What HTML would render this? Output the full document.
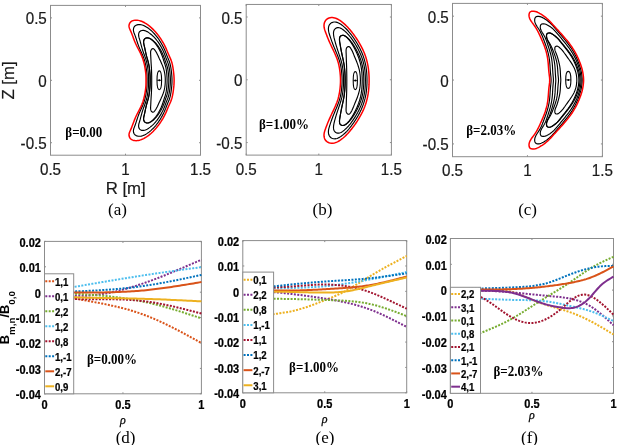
<!DOCTYPE html>
<html><head><meta charset="utf-8"><style>
html,body{margin:0;padding:0;background:#fff;}
svg{display:block;filter:blur(0.3px);}
</style></head><body>
<svg width="617" height="445" viewBox="0 0 617 445">
<rect width="617" height="445" fill="#fff"/>
<rect x="50.5" y="5.4" width="150" height="149.8" fill="none" stroke="#8c8c8c" stroke-width="1"/>
<line x1="50.5" y1="17.88" x2="52" y2="17.88" stroke="#8c8c8c" stroke-width="1"/>
<line x1="200.5" y1="17.88" x2="199" y2="17.88" stroke="#8c8c8c" stroke-width="1"/>
<line x1="50.5" y1="80.3" x2="52" y2="80.3" stroke="#8c8c8c" stroke-width="1"/>
<line x1="200.5" y1="80.3" x2="199" y2="80.3" stroke="#8c8c8c" stroke-width="1"/>
<line x1="50.5" y1="142.72" x2="52" y2="142.72" stroke="#8c8c8c" stroke-width="1"/>
<line x1="200.5" y1="142.72" x2="199" y2="142.72" stroke="#8c8c8c" stroke-width="1"/>
<line x1="50.5" y1="155.2" x2="50.5" y2="153.7" stroke="#8c8c8c" stroke-width="1"/>
<line x1="50.5" y1="5.4" x2="50.5" y2="6.9" stroke="#8c8c8c" stroke-width="1"/>
<line x1="125.5" y1="155.2" x2="125.5" y2="153.7" stroke="#8c8c8c" stroke-width="1"/>
<line x1="125.5" y1="5.4" x2="125.5" y2="6.9" stroke="#8c8c8c" stroke-width="1"/>
<line x1="200.5" y1="155.2" x2="200.5" y2="153.7" stroke="#8c8c8c" stroke-width="1"/>
<line x1="200.5" y1="5.4" x2="200.5" y2="6.9" stroke="#8c8c8c" stroke-width="1"/>
<text transform="translate(46.8,24.38) scale(1.0,1.1)" x="0" y="0" font-family='"Liberation Sans", sans-serif' font-size="15.2" font-weight="normal" font-style="normal" text-anchor="end" fill="#1a1a1a" stroke="#1a1a1a" stroke-width="0.2">0.5</text>
<text transform="translate(46.8,86.8) scale(1.0,1.1)" x="0" y="0" font-family='"Liberation Sans", sans-serif' font-size="15.2" font-weight="normal" font-style="normal" text-anchor="end" fill="#1a1a1a" stroke="#1a1a1a" stroke-width="0.2">0</text>
<text transform="translate(46.8,149.22) scale(1.0,1.1)" x="0" y="0" font-family='"Liberation Sans", sans-serif' font-size="15.2" font-weight="normal" font-style="normal" text-anchor="end" fill="#1a1a1a" stroke="#1a1a1a" stroke-width="0.2">-0.5</text>
<text transform="translate(50.5,174.6) scale(1.0,1.1)" x="0" y="0" font-family='"Liberation Sans", sans-serif' font-size="15.2" font-weight="normal" font-style="normal" text-anchor="middle" fill="#1a1a1a" stroke="#1a1a1a" stroke-width="0.2">0.5</text>
<text transform="translate(125.5,174.6) scale(1.0,1.1)" x="0" y="0" font-family='"Liberation Sans", sans-serif' font-size="15.2" font-weight="normal" font-style="normal" text-anchor="middle" fill="#1a1a1a" stroke="#1a1a1a" stroke-width="0.2">1</text>
<text transform="translate(200.5,174.6) scale(1.0,1.1)" x="0" y="0" font-family='"Liberation Sans", sans-serif' font-size="15.2" font-weight="normal" font-style="normal" text-anchor="middle" fill="#1a1a1a" stroke="#1a1a1a" stroke-width="0.2">1.5</text>
<text transform="translate(65.3,137.3) scale(1.0,1.12)" x="0" y="0" font-family='"Liberation Serif", serif' font-size="13" font-weight="bold" font-style="normal" text-anchor="start" fill="#000" >β=0.00</text>
<text x="117.5" y="215" font-family='"Liberation Serif", serif' font-size="17" font-weight="normal" font-style="normal" text-anchor="middle" fill="#000" >(a)</text>
<rect x="246.2" y="4.45" width="145.2" height="150.65" fill="none" stroke="#8c8c8c" stroke-width="1"/>
<line x1="246.2" y1="17" x2="247.7" y2="17" stroke="#8c8c8c" stroke-width="1"/>
<line x1="391.4" y1="17" x2="389.9" y2="17" stroke="#8c8c8c" stroke-width="1"/>
<line x1="246.2" y1="79.78" x2="247.7" y2="79.78" stroke="#8c8c8c" stroke-width="1"/>
<line x1="391.4" y1="79.78" x2="389.9" y2="79.78" stroke="#8c8c8c" stroke-width="1"/>
<line x1="246.2" y1="142.55" x2="247.7" y2="142.55" stroke="#8c8c8c" stroke-width="1"/>
<line x1="391.4" y1="142.55" x2="389.9" y2="142.55" stroke="#8c8c8c" stroke-width="1"/>
<line x1="246.2" y1="155.1" x2="246.2" y2="153.6" stroke="#8c8c8c" stroke-width="1"/>
<line x1="246.2" y1="4.45" x2="246.2" y2="5.95" stroke="#8c8c8c" stroke-width="1"/>
<line x1="318.8" y1="155.1" x2="318.8" y2="153.6" stroke="#8c8c8c" stroke-width="1"/>
<line x1="318.8" y1="4.45" x2="318.8" y2="5.95" stroke="#8c8c8c" stroke-width="1"/>
<line x1="391.4" y1="155.1" x2="391.4" y2="153.6" stroke="#8c8c8c" stroke-width="1"/>
<line x1="391.4" y1="4.45" x2="391.4" y2="5.95" stroke="#8c8c8c" stroke-width="1"/>
<text transform="translate(242.5,23.5) scale(1.0,1.1)" x="0" y="0" font-family='"Liberation Sans", sans-serif' font-size="15.2" font-weight="normal" font-style="normal" text-anchor="end" fill="#1a1a1a" stroke="#1a1a1a" stroke-width="0.2">0.5</text>
<text transform="translate(242.5,86.28) scale(1.0,1.1)" x="0" y="0" font-family='"Liberation Sans", sans-serif' font-size="15.2" font-weight="normal" font-style="normal" text-anchor="end" fill="#1a1a1a" stroke="#1a1a1a" stroke-width="0.2">0</text>
<text transform="translate(242.5,149.05) scale(1.0,1.1)" x="0" y="0" font-family='"Liberation Sans", sans-serif' font-size="15.2" font-weight="normal" font-style="normal" text-anchor="end" fill="#1a1a1a" stroke="#1a1a1a" stroke-width="0.2">-0.5</text>
<text transform="translate(246.2,174.5) scale(1.0,1.1)" x="0" y="0" font-family='"Liberation Sans", sans-serif' font-size="15.2" font-weight="normal" font-style="normal" text-anchor="middle" fill="#1a1a1a" stroke="#1a1a1a" stroke-width="0.2">0.5</text>
<text transform="translate(318.8,174.5) scale(1.0,1.1)" x="0" y="0" font-family='"Liberation Sans", sans-serif' font-size="15.2" font-weight="normal" font-style="normal" text-anchor="middle" fill="#1a1a1a" stroke="#1a1a1a" stroke-width="0.2">1</text>
<text transform="translate(391.4,174.5) scale(1.0,1.1)" x="0" y="0" font-family='"Liberation Sans", sans-serif' font-size="15.2" font-weight="normal" font-style="normal" text-anchor="middle" fill="#1a1a1a" stroke="#1a1a1a" stroke-width="0.2">1.5</text>
<text transform="translate(259,129.3) scale(1.0,1.12)" x="0" y="0" font-family='"Liberation Serif", serif' font-size="13" font-weight="bold" font-style="normal" text-anchor="start" fill="#000" >β=1.00%</text>
<text x="322.4" y="215" font-family='"Liberation Serif", serif' font-size="17" font-weight="normal" font-style="normal" text-anchor="middle" fill="#000" >(b)</text>
<rect x="452.5" y="3.4" width="149.9" height="153.3" fill="none" stroke="#8c8c8c" stroke-width="1"/>
<line x1="452.5" y1="16.17" x2="454" y2="16.17" stroke="#8c8c8c" stroke-width="1"/>
<line x1="602.4" y1="16.17" x2="600.9" y2="16.17" stroke="#8c8c8c" stroke-width="1"/>
<line x1="452.5" y1="80.05" x2="454" y2="80.05" stroke="#8c8c8c" stroke-width="1"/>
<line x1="602.4" y1="80.05" x2="600.9" y2="80.05" stroke="#8c8c8c" stroke-width="1"/>
<line x1="452.5" y1="143.93" x2="454" y2="143.93" stroke="#8c8c8c" stroke-width="1"/>
<line x1="602.4" y1="143.93" x2="600.9" y2="143.93" stroke="#8c8c8c" stroke-width="1"/>
<line x1="452.5" y1="156.7" x2="452.5" y2="155.2" stroke="#8c8c8c" stroke-width="1"/>
<line x1="452.5" y1="3.4" x2="452.5" y2="4.9" stroke="#8c8c8c" stroke-width="1"/>
<line x1="527.45" y1="156.7" x2="527.45" y2="155.2" stroke="#8c8c8c" stroke-width="1"/>
<line x1="527.45" y1="3.4" x2="527.45" y2="4.9" stroke="#8c8c8c" stroke-width="1"/>
<line x1="602.4" y1="156.7" x2="602.4" y2="155.2" stroke="#8c8c8c" stroke-width="1"/>
<line x1="602.4" y1="3.4" x2="602.4" y2="4.9" stroke="#8c8c8c" stroke-width="1"/>
<text transform="translate(448.8,22.67) scale(1.0,1.1)" x="0" y="0" font-family='"Liberation Sans", sans-serif' font-size="15.2" font-weight="normal" font-style="normal" text-anchor="end" fill="#1a1a1a" stroke="#1a1a1a" stroke-width="0.2">0.5</text>
<text transform="translate(448.8,86.55) scale(1.0,1.1)" x="0" y="0" font-family='"Liberation Sans", sans-serif' font-size="15.2" font-weight="normal" font-style="normal" text-anchor="end" fill="#1a1a1a" stroke="#1a1a1a" stroke-width="0.2">0</text>
<text transform="translate(448.8,150.43) scale(1.0,1.1)" x="0" y="0" font-family='"Liberation Sans", sans-serif' font-size="15.2" font-weight="normal" font-style="normal" text-anchor="end" fill="#1a1a1a" stroke="#1a1a1a" stroke-width="0.2">-0.5</text>
<text transform="translate(452.5,176.1) scale(1.0,1.1)" x="0" y="0" font-family='"Liberation Sans", sans-serif' font-size="15.2" font-weight="normal" font-style="normal" text-anchor="middle" fill="#1a1a1a" stroke="#1a1a1a" stroke-width="0.2">0.5</text>
<text transform="translate(527.45,176.1) scale(1.0,1.1)" x="0" y="0" font-family='"Liberation Sans", sans-serif' font-size="15.2" font-weight="normal" font-style="normal" text-anchor="middle" fill="#1a1a1a" stroke="#1a1a1a" stroke-width="0.2">1</text>
<text transform="translate(602.4,176.1) scale(1.0,1.1)" x="0" y="0" font-family='"Liberation Sans", sans-serif' font-size="15.2" font-weight="normal" font-style="normal" text-anchor="middle" fill="#1a1a1a" stroke="#1a1a1a" stroke-width="0.2">1.5</text>
<text transform="translate(466.2,135.3) scale(1.0,1.12)" x="0" y="0" font-family='"Liberation Serif", serif' font-size="13" font-weight="bold" font-style="normal" text-anchor="start" fill="#000" >β=2.03%</text>
<text x="527.6" y="215" font-family='"Liberation Serif", serif' font-size="17" font-weight="normal" font-style="normal" text-anchor="middle" fill="#000" >(c)</text>
<path d="M147.1,80.4 L147.1,79.39 L147.1,78.39 L147.08,77.38 L147.06,76.37 L147.02,75.37 L146.95,74.37 L146.87,73.36 L146.77,72.36 L146.66,71.36 L146.53,70.36 L146.39,69.36 L146.24,68.37 L146.08,67.37 L145.91,66.38 L145.72,65.39 L145.52,64.41 L145.3,63.42 L145.07,62.44 L144.81,61.47 L144.54,60.5 L144.25,59.53 L143.94,58.58 L143.61,57.62 L143.26,56.68 L142.89,55.75 L142.49,54.82 L142.09,53.9 L141.67,52.98 L141.25,52.07 L140.83,51.16 L140.41,50.24 L140,49.32 L139.6,48.4 L139.22,47.46 L138.84,46.53 L138.48,45.59 L138.14,44.64 L137.8,43.69 L137.47,42.74 L137.15,41.79 L136.84,40.84 L136.54,39.88 L136.23,38.93 L135.92,37.98 L135.6,37.02 L135.27,36.07 L134.92,35.12 L134.55,34.17 L134.18,33.21 L133.83,32.25 L133.57,31.28 L133.42,30.29 L133.42,29.28 L133.61,28.26 L133.98,27.29 L134.53,26.43 L135.25,25.73 L136.11,25.2 L137.08,24.84 L138.09,24.63 L139.12,24.54 L140.13,24.58 L141.13,24.73 L142.11,24.97 L143.09,25.29 L144.04,25.69 L144.97,26.14 L145.88,26.64 L146.77,27.18 L147.63,27.75 L148.47,28.34 L149.28,28.95 L150.07,29.58 L150.84,30.23 L151.58,30.9 L152.31,31.59 L153.02,32.29 L153.71,33.02 L154.39,33.75 L155.06,34.51 L155.71,35.27 L156.34,36.05 L156.97,36.84 L157.57,37.65 L158.17,38.46 L158.75,39.29 L159.31,40.12 L159.87,40.97 L160.4,41.83 L160.93,42.69 L161.44,43.56 L161.93,44.44 L162.41,45.32 L162.88,46.22 L163.34,47.12 L163.78,48.02 L164.2,48.93 L164.61,49.85 L165.01,50.78 L165.39,51.71 L165.77,52.64 L166.13,53.58 L166.49,54.52 L166.85,55.46 L167.22,56.39 L167.6,57.33 L168,58.25 L168.4,59.18 L168.78,60.11 L169.15,61.04 L169.49,61.99 L169.79,62.95 L170.06,63.91 L170.3,64.89 L170.52,65.87 L170.71,66.86 L170.89,67.86 L171.04,68.86 L171.19,69.86 L171.32,70.86 L171.44,71.87 L171.56,72.87 L171.66,73.87 L171.75,74.88 L171.83,75.88 L171.9,76.89 L171.95,77.89 L171.98,78.89 L172,79.9 L172,80.9 L171.98,81.91 L171.95,82.91 L171.9,83.91 L171.83,84.92 L171.75,85.92 L171.66,86.93 L171.56,87.93 L171.44,88.93 L171.32,89.94 L171.19,90.94 L171.04,91.94 L170.89,92.94 L170.71,93.94 L170.52,94.93 L170.3,95.91 L170.06,96.89 L169.79,97.85 L169.49,98.81 L169.15,99.76 L168.78,100.69 L168.4,101.62 L168,102.55 L167.6,103.47 L167.22,104.41 L166.85,105.34 L166.49,106.28 L166.13,107.22 L165.77,108.16 L165.39,109.09 L165.01,110.02 L164.61,110.95 L164.2,111.87 L163.78,112.78 L163.34,113.68 L162.88,114.58 L162.41,115.48 L161.93,116.36 L161.44,117.24 L160.93,118.11 L160.4,118.97 L159.87,119.83 L159.31,120.68 L158.75,121.51 L158.17,122.34 L157.57,123.15 L156.97,123.96 L156.34,124.75 L155.71,125.53 L155.06,126.29 L154.39,127.05 L153.71,127.78 L153.02,128.51 L152.31,129.21 L151.58,129.9 L150.84,130.57 L150.07,131.22 L149.28,131.85 L148.47,132.46 L147.63,133.05 L146.77,133.62 L145.88,134.16 L144.97,134.66 L144.04,135.11 L143.09,135.51 L142.11,135.83 L141.13,136.07 L140.13,136.22 L139.12,136.26 L138.09,136.17 L137.08,135.96 L136.11,135.6 L135.25,135.07 L134.53,134.37 L133.98,133.51 L133.61,132.54 L133.42,131.52 L133.42,130.51 L133.57,129.52 L133.83,128.55 L134.18,127.59 L134.55,126.63 L134.92,125.68 L135.27,124.73 L135.6,123.78 L135.92,122.82 L136.23,121.87 L136.54,120.92 L136.84,119.96 L137.15,119.01 L137.47,118.06 L137.8,117.11 L138.14,116.16 L138.48,115.21 L138.84,114.27 L139.22,113.34 L139.6,112.4 L140,111.48 L140.41,110.56 L140.83,109.64 L141.25,108.73 L141.67,107.82 L142.09,106.9 L142.49,105.98 L142.89,105.05 L143.26,104.12 L143.61,103.18 L143.94,102.22 L144.25,101.27 L144.54,100.3 L144.81,99.33 L145.07,98.36 L145.3,97.38 L145.52,96.39 L145.72,95.41 L145.91,94.42 L146.08,93.43 L146.24,92.43 L146.39,91.44 L146.53,90.44 L146.66,89.44 L146.77,88.44 L146.87,87.44 L146.95,86.43 L147.02,85.43 L147.06,84.43 L147.08,83.42 L147.1,82.41 L147.1,81.41 L147.1,80.4Z" fill="none" stroke="#000" stroke-width="1.15" stroke-linejoin="round" />
<path d="M148.6,80.4 L148.6,79.52 L148.6,78.64 L148.59,77.76 L148.57,76.88 L148.54,76 L148.5,75.12 L148.44,74.24 L148.38,73.36 L148.3,72.48 L148.21,71.6 L148.11,70.73 L148,69.85 L147.89,68.98 L147.77,68.11 L147.64,67.24 L147.5,66.37 L147.35,65.5 L147.19,64.63 L147.01,63.77 L146.82,62.91 L146.62,62.05 L146.4,61.19 L146.16,60.34 L145.92,59.5 L145.65,58.66 L145.37,57.82 L145.08,56.99 L144.78,56.17 L144.47,55.34 L144.16,54.52 L143.85,53.69 L143.55,52.86 L143.25,52.03 L142.97,51.2 L142.69,50.36 L142.43,49.52 L142.17,48.68 L141.92,47.83 L141.68,46.98 L141.45,46.14 L141.22,45.29 L140.99,44.43 L140.77,43.58 L140.54,42.73 L140.31,41.88 L140.08,41.03 L139.83,40.19 L139.58,39.34 L139.32,38.5 L139.06,37.65 L138.84,36.8 L138.68,35.93 L138.6,35.05 L138.63,34.14 L138.8,33.24 L139.12,32.41 L139.62,31.69 L140.3,31.12 L141.1,30.72 L141.96,30.47 L142.83,30.37 L143.7,30.41 L144.56,30.57 L145.42,30.84 L146.27,31.19 L147.09,31.62 L147.9,32.09 L148.69,32.61 L149.45,33.14 L150.19,33.68 L150.9,34.24 L151.58,34.8 L152.24,35.38 L152.89,35.98 L153.51,36.58 L154.12,37.2 L154.71,37.84 L155.28,38.49 L155.85,39.15 L156.4,39.82 L156.94,40.51 L157.47,41.22 L157.99,41.93 L158.5,42.65 L158.99,43.39 L159.48,44.13 L159.95,44.88 L160.41,45.64 L160.85,46.41 L161.29,47.18 L161.71,47.96 L162.12,48.74 L162.51,49.53 L162.9,50.32 L163.27,51.12 L163.63,51.92 L163.98,52.73 L164.32,53.54 L164.65,54.36 L164.96,55.18 L165.27,56.01 L165.57,56.84 L165.87,57.67 L166.18,58.49 L166.49,59.31 L166.82,60.13 L167.15,60.95 L167.48,61.77 L167.8,62.59 L168.1,63.42 L168.37,64.25 L168.61,65.1 L168.83,65.95 L169.02,66.81 L169.2,67.68 L169.35,68.54 L169.49,69.42 L169.62,70.29 L169.74,71.17 L169.84,72.05 L169.95,72.93 L170.04,73.81 L170.12,74.69 L170.2,75.57 L170.26,76.44 L170.31,77.32 L170.36,78.2 L170.38,79.08 L170.4,79.96 L170.4,80.84 L170.38,81.72 L170.36,82.6 L170.31,83.48 L170.26,84.36 L170.2,85.23 L170.12,86.11 L170.04,86.99 L169.95,87.87 L169.84,88.75 L169.74,89.63 L169.62,90.51 L169.49,91.38 L169.35,92.26 L169.2,93.12 L169.02,93.99 L168.83,94.85 L168.61,95.7 L168.37,96.55 L168.1,97.38 L167.8,98.21 L167.48,99.03 L167.15,99.85 L166.82,100.67 L166.49,101.49 L166.18,102.31 L165.87,103.13 L165.57,103.96 L165.27,104.79 L164.96,105.62 L164.65,106.44 L164.32,107.26 L163.98,108.07 L163.63,108.88 L163.27,109.68 L162.9,110.48 L162.51,111.27 L162.12,112.06 L161.71,112.84 L161.29,113.62 L160.85,114.39 L160.41,115.16 L159.95,115.92 L159.48,116.67 L158.99,117.41 L158.5,118.15 L157.99,118.87 L157.47,119.58 L156.94,120.29 L156.4,120.98 L155.85,121.65 L155.28,122.31 L154.71,122.96 L154.12,123.6 L153.51,124.22 L152.89,124.82 L152.24,125.42 L151.58,126 L150.9,126.56 L150.19,127.12 L149.45,127.66 L148.69,128.19 L147.9,128.71 L147.09,129.18 L146.27,129.61 L145.42,129.96 L144.56,130.23 L143.7,130.39 L142.83,130.43 L141.96,130.33 L141.1,130.08 L140.3,129.68 L139.62,129.11 L139.12,128.39 L138.8,127.56 L138.63,126.66 L138.6,125.75 L138.68,124.87 L138.84,124 L139.06,123.15 L139.32,122.3 L139.58,121.46 L139.83,120.61 L140.08,119.77 L140.31,118.92 L140.54,118.07 L140.77,117.22 L140.99,116.37 L141.22,115.51 L141.45,114.66 L141.68,113.82 L141.92,112.97 L142.17,112.12 L142.43,111.28 L142.69,110.44 L142.97,109.6 L143.25,108.77 L143.55,107.94 L143.85,107.11 L144.16,106.28 L144.47,105.46 L144.78,104.63 L145.08,103.81 L145.37,102.98 L145.65,102.14 L145.92,101.3 L146.16,100.46 L146.4,99.61 L146.62,98.75 L146.82,97.89 L147.01,97.03 L147.19,96.17 L147.35,95.3 L147.5,94.43 L147.64,93.56 L147.77,92.69 L147.89,91.82 L148,90.95 L148.11,90.07 L148.21,89.2 L148.3,88.32 L148.38,87.44 L148.44,86.56 L148.5,85.68 L148.54,84.8 L148.57,83.92 L148.59,83.04 L148.6,82.16 L148.6,81.28 L148.6,80.4Z" fill="none" stroke="#000" stroke-width="1.15" stroke-linejoin="round" />
<path d="M150.1,80.4 L150.1,79.66 L150.1,78.92 L150.09,78.19 L150.08,77.45 L150.07,76.71 L150.04,75.98 L150,75.24 L149.96,74.5 L149.91,73.77 L149.85,73.03 L149.79,72.3 L149.72,71.56 L149.65,70.83 L149.57,70.09 L149.49,69.36 L149.4,68.63 L149.3,67.9 L149.19,67.17 L149.08,66.44 L148.96,65.71 L148.83,64.99 L148.68,64.26 L148.53,63.54 L148.37,62.82 L148.2,62.1 L148.01,61.39 L147.82,60.68 L147.62,59.97 L147.42,59.26 L147.21,58.55 L147.01,57.84 L146.81,57.13 L146.61,56.42 L146.43,55.71 L146.25,54.99 L146.07,54.27 L145.91,53.56 L145.74,52.84 L145.59,52.12 L145.43,51.39 L145.28,50.67 L145.14,49.95 L144.99,49.23 L144.84,48.5 L144.69,47.78 L144.54,47.06 L144.38,46.34 L144.21,45.62 L144.04,44.91 L143.87,44.19 L143.73,43.47 L143.63,42.73 L143.6,41.99 L143.64,41.23 L143.78,40.48 L144.04,39.78 L144.43,39.15 L144.96,38.63 L145.6,38.24 L146.3,37.97 L147.03,37.84 L147.76,37.84 L148.48,37.95 L149.2,38.16 L149.9,38.45 L150.59,38.81 L151.26,39.22 L151.91,39.67 L152.53,40.13 L153.13,40.61 L153.7,41.1 L154.25,41.6 L154.78,42.11 L155.29,42.64 L155.79,43.17 L156.26,43.72 L156.73,44.28 L157.18,44.85 L157.63,45.43 L158.06,46.02 L158.48,46.62 L158.9,47.23 L159.3,47.85 L159.7,48.47 L160.08,49.11 L160.46,49.75 L160.82,50.39 L161.17,51.05 L161.52,51.7 L161.85,52.36 L162.18,53.03 L162.49,53.7 L162.8,54.37 L163.09,55.05 L163.38,55.73 L163.65,56.41 L163.92,57.1 L164.18,57.79 L164.43,58.48 L164.67,59.18 L164.9,59.88 L165.13,60.58 L165.36,61.28 L165.6,61.98 L165.85,62.67 L166.1,63.36 L166.36,64.06 L166.61,64.75 L166.85,65.45 L167.08,66.15 L167.28,66.86 L167.46,67.57 L167.62,68.29 L167.77,69.01 L167.9,69.74 L168.01,70.47 L168.12,71.2 L168.21,71.94 L168.3,72.67 L168.38,73.41 L168.46,74.14 L168.53,74.88 L168.59,75.62 L168.65,76.35 L168.7,77.09 L168.74,77.82 L168.77,78.56 L168.79,79.3 L168.8,80.03 L168.8,80.77 L168.79,81.5 L168.77,82.24 L168.74,82.98 L168.7,83.71 L168.65,84.45 L168.59,85.18 L168.53,85.92 L168.46,86.66 L168.38,87.39 L168.3,88.13 L168.21,88.86 L168.12,89.6 L168.01,90.33 L167.9,91.06 L167.77,91.79 L167.62,92.51 L167.46,93.23 L167.28,93.94 L167.08,94.65 L166.85,95.35 L166.61,96.05 L166.36,96.74 L166.1,97.44 L165.85,98.13 L165.6,98.82 L165.36,99.52 L165.13,100.22 L164.9,100.92 L164.67,101.62 L164.43,102.32 L164.18,103.01 L163.92,103.7 L163.65,104.39 L163.38,105.07 L163.09,105.75 L162.8,106.43 L162.49,107.1 L162.18,107.77 L161.85,108.44 L161.52,109.1 L161.17,109.75 L160.82,110.41 L160.46,111.05 L160.08,111.69 L159.7,112.33 L159.3,112.95 L158.9,113.57 L158.48,114.18 L158.06,114.78 L157.63,115.37 L157.18,115.95 L156.73,116.52 L156.26,117.08 L155.79,117.63 L155.29,118.16 L154.78,118.69 L154.25,119.2 L153.7,119.7 L153.13,120.19 L152.53,120.67 L151.91,121.13 L151.26,121.58 L150.59,121.99 L149.9,122.35 L149.2,122.64 L148.48,122.85 L147.76,122.96 L147.03,122.96 L146.3,122.83 L145.6,122.56 L144.96,122.17 L144.43,121.65 L144.04,121.02 L143.78,120.32 L143.64,119.57 L143.6,118.81 L143.63,118.07 L143.73,117.33 L143.87,116.61 L144.04,115.89 L144.21,115.18 L144.38,114.46 L144.54,113.74 L144.69,113.02 L144.84,112.3 L144.99,111.57 L145.14,110.85 L145.28,110.13 L145.43,109.41 L145.59,108.68 L145.74,107.96 L145.91,107.24 L146.07,106.53 L146.25,105.81 L146.43,105.09 L146.61,104.38 L146.81,103.67 L147.01,102.96 L147.21,102.25 L147.42,101.54 L147.62,100.83 L147.82,100.12 L148.01,99.41 L148.2,98.7 L148.37,97.98 L148.53,97.26 L148.68,96.54 L148.83,95.81 L148.96,95.09 L149.08,94.36 L149.19,93.63 L149.3,92.9 L149.4,92.17 L149.49,91.44 L149.57,90.71 L149.65,89.97 L149.72,89.24 L149.79,88.5 L149.85,87.77 L149.91,87.03 L149.96,86.3 L150,85.56 L150.04,84.82 L150.07,84.09 L150.08,83.35 L150.09,82.61 L150.1,81.88 L150.1,81.14 L150.1,80.4Z" fill="none" stroke="#000" stroke-width="1.15" stroke-linejoin="round" />
<path d="M150.2,80.4 L150.2,79.67 L150.2,78.94 L150.19,78.21 L150.18,77.48 L150.17,76.75 L150.14,76.02 L150.1,75.29 L150.06,74.56 L150.01,73.84 L149.95,73.11 L149.89,72.38 L149.82,71.65 L149.75,70.93 L149.67,70.2 L149.59,69.48 L149.5,68.75 L149.4,68.03 L149.3,67.31 L149.19,66.58 L149.07,65.86 L148.94,65.15 L148.8,64.43 L148.65,63.71 L148.49,63 L148.32,62.29 L148.13,61.59 L147.94,60.88 L147.74,60.18 L147.54,59.48 L147.34,58.78 L147.13,58.08 L146.93,57.38 L146.73,56.67 L146.54,55.97 L146.36,55.26 L146.18,54.55 L146.01,53.84 L145.84,53.13 L145.68,52.42 L145.53,51.71 L145.38,50.99 L145.23,50.28 L145.08,49.56 L144.93,48.85 L144.79,48.13 L144.63,47.42 L144.48,46.71 L144.31,46 L144.14,45.29 L143.97,44.58 L143.81,43.87 L143.68,43.15 L143.61,42.42 L143.61,41.67 L143.69,40.92 L143.87,40.2 L144.17,39.53 L144.61,38.94 L145.18,38.47 L145.84,38.12 L146.55,37.91 L147.27,37.84 L147.99,37.9 L148.7,38.08 L149.39,38.35 L150.07,38.71 L150.73,39.12 L151.37,39.57 L151.98,40.05 L152.56,40.54 L153.11,41.04 L153.64,41.56 L154.14,42.09 L154.63,42.63 L155.09,43.18 L155.54,43.74 L155.98,44.31 L156.4,44.89 L156.82,45.48 L157.22,46.08 L157.62,46.69 L158,47.31 L158.38,47.94 L158.75,48.57 L159.1,49.21 L159.45,49.86 L159.79,50.51 L160.12,51.17 L160.44,51.83 L160.75,52.5 L161.05,53.16 L161.33,53.83 L161.61,54.51 L161.89,55.19 L162.15,55.87 L162.4,56.55 L162.64,57.24 L162.88,57.93 L163.11,58.62 L163.33,59.32 L163.54,60.02 L163.75,60.71 L163.97,61.41 L164.19,62.11 L164.42,62.8 L164.65,63.49 L164.89,64.18 L165.12,64.88 L165.34,65.57 L165.54,66.27 L165.73,66.98 L165.89,67.69 L166.03,68.4 L166.17,69.12 L166.28,69.84 L166.39,70.57 L166.48,71.29 L166.57,72.02 L166.65,72.75 L166.72,73.48 L166.79,74.21 L166.85,74.94 L166.91,75.66 L166.96,76.39 L167.01,77.12 L167.04,77.85 L167.07,78.58 L167.09,79.31 L167.1,80.04 L167.1,80.76 L167.09,81.49 L167.07,82.22 L167.04,82.95 L167.01,83.68 L166.96,84.41 L166.91,85.14 L166.85,85.86 L166.79,86.59 L166.72,87.32 L166.65,88.05 L166.57,88.78 L166.48,89.51 L166.39,90.23 L166.28,90.96 L166.17,91.68 L166.03,92.4 L165.89,93.11 L165.73,93.82 L165.54,94.53 L165.34,95.23 L165.12,95.92 L164.89,96.62 L164.65,97.31 L164.42,98 L164.19,98.69 L163.97,99.39 L163.75,100.09 L163.54,100.78 L163.33,101.48 L163.11,102.18 L162.88,102.87 L162.64,103.56 L162.4,104.25 L162.15,104.93 L161.89,105.61 L161.61,106.29 L161.33,106.97 L161.05,107.64 L160.75,108.3 L160.44,108.97 L160.12,109.63 L159.79,110.29 L159.45,110.94 L159.1,111.59 L158.75,112.23 L158.38,112.86 L158,113.49 L157.62,114.11 L157.22,114.72 L156.82,115.32 L156.4,115.91 L155.98,116.49 L155.54,117.06 L155.09,117.62 L154.63,118.17 L154.14,118.71 L153.64,119.24 L153.11,119.76 L152.56,120.26 L151.98,120.75 L151.37,121.23 L150.73,121.68 L150.07,122.09 L149.39,122.45 L148.7,122.72 L147.99,122.9 L147.27,122.96 L146.55,122.89 L145.84,122.68 L145.18,122.33 L144.61,121.86 L144.17,121.27 L143.87,120.6 L143.69,119.88 L143.61,119.13 L143.61,118.38 L143.68,117.65 L143.81,116.93 L143.97,116.22 L144.14,115.51 L144.31,114.8 L144.48,114.09 L144.63,113.38 L144.79,112.67 L144.93,111.95 L145.08,111.24 L145.23,110.52 L145.38,109.81 L145.53,109.09 L145.68,108.38 L145.84,107.67 L146.01,106.96 L146.18,106.25 L146.36,105.54 L146.54,104.83 L146.73,104.13 L146.93,103.42 L147.13,102.72 L147.34,102.02 L147.54,101.32 L147.74,100.62 L147.94,99.92 L148.13,99.21 L148.32,98.51 L148.49,97.8 L148.65,97.09 L148.8,96.37 L148.94,95.65 L149.07,94.94 L149.19,94.22 L149.3,93.49 L149.4,92.77 L149.5,92.05 L149.59,91.32 L149.67,90.6 L149.75,89.87 L149.82,89.15 L149.89,88.42 L149.95,87.69 L150.01,86.96 L150.06,86.24 L150.1,85.51 L150.14,84.78 L150.17,84.05 L150.18,83.32 L150.19,82.59 L150.2,81.86 L150.2,81.13 L150.2,80.4Z" fill="none" stroke="#000" stroke-width="1.15" stroke-linejoin="round" />
<path d="M151.7,80.4 L151.7,79.88 L151.7,79.36 L151.7,78.83 L151.7,78.31 L151.69,77.79 L151.69,77.27 L151.68,76.74 L151.68,76.22 L151.67,75.7 L151.66,75.18 L151.65,74.65 L151.64,74.13 L151.63,73.61 L151.61,73.09 L151.6,72.56 L151.59,72.04 L151.57,71.52 L151.55,71 L151.53,70.48 L151.51,69.95 L151.49,69.43 L151.47,68.91 L151.44,68.39 L151.42,67.87 L151.39,67.34 L151.36,66.82 L151.32,66.3 L151.29,65.78 L151.25,65.26 L151.22,64.74 L151.18,64.22 L151.15,63.69 L151.12,63.17 L151.08,62.65 L151.05,62.13 L151.02,61.61 L150.99,61.09 L150.97,60.57 L150.94,60.04 L150.91,59.52 L150.89,59 L150.86,58.48 L150.84,57.96 L150.81,57.43 L150.79,56.91 L150.76,56.39 L150.74,55.87 L150.71,55.35 L150.68,54.83 L150.65,54.3 L150.62,53.78 L150.61,53.26 L150.6,52.74 L150.61,52.21 L150.64,51.69 L150.71,51.17 L150.84,50.66 L151.04,50.17 L151.31,49.69 L151.68,49.24 L152.1,48.88 L152.56,48.65 L153.02,48.61 L153.47,48.76 L153.9,49.05 L154.32,49.45 L154.7,49.91 L155.06,50.37 L155.38,50.82 L155.68,51.26 L155.95,51.7 L156.21,52.13 L156.46,52.56 L156.7,53.01 L156.93,53.46 L157.16,53.92 L157.39,54.39 L157.61,54.87 L157.84,55.35 L158.06,55.83 L158.28,56.31 L158.5,56.79 L158.72,57.27 L158.95,57.75 L159.17,58.22 L159.39,58.7 L159.62,59.17 L159.84,59.64 L160.06,60.11 L160.28,60.59 L160.5,61.06 L160.72,61.53 L160.94,62 L161.15,62.48 L161.36,62.95 L161.57,63.43 L161.78,63.91 L161.98,64.39 L162.18,64.87 L162.38,65.35 L162.57,65.84 L162.76,66.33 L162.95,66.82 L163.12,67.31 L163.3,67.8 L163.46,68.3 L163.63,68.8 L163.78,69.3 L163.93,69.8 L164.07,70.31 L164.2,70.81 L164.32,71.32 L164.44,71.83 L164.54,72.34 L164.64,72.86 L164.74,73.37 L164.82,73.89 L164.9,74.4 L164.97,74.92 L165.03,75.44 L165.09,75.96 L165.14,76.48 L165.18,77.01 L165.21,77.53 L165.24,78.05 L165.27,78.57 L165.28,79.09 L165.29,79.62 L165.3,80.14 L165.3,80.66 L165.29,81.18 L165.28,81.71 L165.27,82.23 L165.24,82.75 L165.21,83.27 L165.18,83.79 L165.14,84.32 L165.09,84.84 L165.03,85.36 L164.97,85.88 L164.9,86.4 L164.82,86.91 L164.74,87.43 L164.64,87.94 L164.54,88.46 L164.44,88.97 L164.32,89.48 L164.2,89.99 L164.07,90.49 L163.93,91 L163.78,91.5 L163.63,92 L163.46,92.5 L163.3,93 L163.12,93.49 L162.95,93.98 L162.76,94.47 L162.57,94.96 L162.38,95.45 L162.18,95.93 L161.98,96.41 L161.78,96.89 L161.57,97.37 L161.36,97.85 L161.15,98.32 L160.94,98.8 L160.72,99.27 L160.5,99.74 L160.28,100.21 L160.06,100.69 L159.84,101.16 L159.62,101.63 L159.39,102.1 L159.17,102.58 L158.95,103.05 L158.72,103.53 L158.5,104.01 L158.28,104.49 L158.06,104.97 L157.84,105.45 L157.61,105.93 L157.39,106.41 L157.16,106.88 L156.93,107.34 L156.7,107.79 L156.46,108.24 L156.21,108.67 L155.95,109.1 L155.68,109.54 L155.38,109.98 L155.06,110.43 L154.7,110.89 L154.32,111.35 L153.9,111.75 L153.47,112.04 L153.02,112.19 L152.56,112.15 L152.1,111.92 L151.68,111.56 L151.31,111.11 L151.04,110.63 L150.84,110.14 L150.71,109.63 L150.64,109.11 L150.61,108.59 L150.6,108.06 L150.61,107.54 L150.62,107.02 L150.65,106.5 L150.68,105.97 L150.71,105.45 L150.74,104.93 L150.76,104.41 L150.79,103.89 L150.81,103.37 L150.84,102.84 L150.86,102.32 L150.89,101.8 L150.91,101.28 L150.94,100.76 L150.97,100.23 L150.99,99.71 L151.02,99.19 L151.05,98.67 L151.08,98.15 L151.12,97.63 L151.15,97.11 L151.18,96.58 L151.22,96.06 L151.25,95.54 L151.29,95.02 L151.32,94.5 L151.36,93.98 L151.39,93.46 L151.42,92.93 L151.44,92.41 L151.47,91.89 L151.49,91.37 L151.51,90.85 L151.53,90.32 L151.55,89.8 L151.57,89.28 L151.59,88.76 L151.6,88.24 L151.61,87.71 L151.63,87.19 L151.64,86.67 L151.65,86.15 L151.66,85.62 L151.67,85.1 L151.68,84.58 L151.68,84.06 L151.69,83.53 L151.69,83.01 L151.7,82.49 L151.7,81.97 L151.7,81.44 L151.7,80.92 L151.7,80.4Z" fill="none" stroke="#000" stroke-width="1.15" stroke-linejoin="round" />
<path d="M146,80.4 L146,79.29 L146,78.18 L145.98,77.07 L145.95,75.96 L145.89,74.85 L145.81,73.75 L145.7,72.64 L145.57,71.54 L145.42,70.44 L145.25,69.34 L145.08,68.24 L144.88,67.15 L144.68,66.06 L144.46,64.97 L144.22,63.89 L143.96,62.81 L143.68,61.74 L143.37,60.67 L143.05,59.6 L142.7,58.55 L142.32,57.5 L141.92,56.46 L141.5,55.44 L141.06,54.42 L140.58,53.42 L140.09,52.42 L139.59,51.44 L139.07,50.46 L138.55,49.48 L138.03,48.5 L137.51,47.51 L137.01,46.52 L136.52,45.52 L136.05,44.51 L135.59,43.5 L135.15,42.48 L134.72,41.45 L134.31,40.43 L133.9,39.39 L133.51,38.36 L133.13,37.33 L132.75,36.3 L132.37,35.27 L131.98,34.23 L131.58,33.2 L131.15,32.16 L130.7,31.13 L130.23,30.09 L129.76,29.04 L129.36,27.99 L129.09,26.92 L128.99,25.83 L129.13,24.72 L129.49,23.64 L130.06,22.65 L130.82,21.8 L131.72,21.15 L132.74,20.69 L133.83,20.38 L134.97,20.22 L136.1,20.17 L137.22,20.23 L138.33,20.38 L139.42,20.61 L140.5,20.93 L141.56,21.31 L142.6,21.75 L143.62,22.24 L144.62,22.78 L145.59,23.35 L146.54,23.95 L147.46,24.58 L148.36,25.23 L149.24,25.91 L150.1,26.62 L150.94,27.34 L151.76,28.09 L152.56,28.85 L153.35,29.64 L154.12,30.44 L154.88,31.25 L155.61,32.08 L156.34,32.92 L157.05,33.78 L157.74,34.65 L158.42,35.53 L159.08,36.42 L159.72,37.33 L160.35,38.25 L160.97,39.17 L161.57,40.11 L162.15,41.06 L162.72,42.01 L163.27,42.98 L163.81,43.95 L164.33,44.93 L164.83,45.92 L165.32,46.92 L165.8,47.92 L166.25,48.93 L166.69,49.95 L167.12,50.97 L167.54,52 L167.96,53.03 L168.39,54.05 L168.83,55.07 L169.29,56.08 L169.75,57.09 L170.21,58.1 L170.65,59.12 L171.06,60.15 L171.43,61.2 L171.76,62.25 L172.05,63.32 L172.31,64.4 L172.55,65.49 L172.76,66.58 L172.95,67.68 L173.13,68.78 L173.28,69.89 L173.43,71 L173.57,72.1 L173.69,73.21 L173.8,74.31 L173.9,75.42 L173.97,76.53 L174.03,77.63 L174.08,78.74 L174.1,79.85 L174.1,80.95 L174.08,82.06 L174.03,83.17 L173.97,84.27 L173.9,85.38 L173.8,86.49 L173.69,87.59 L173.57,88.7 L173.43,89.8 L173.28,90.91 L173.13,92.02 L172.95,93.12 L172.76,94.22 L172.55,95.31 L172.31,96.4 L172.05,97.48 L171.76,98.55 L171.43,99.6 L171.06,100.65 L170.65,101.68 L170.21,102.7 L169.75,103.71 L169.29,104.72 L168.83,105.73 L168.39,106.75 L167.96,107.77 L167.54,108.8 L167.12,109.83 L166.69,110.85 L166.25,111.87 L165.8,112.88 L165.32,113.88 L164.83,114.88 L164.33,115.87 L163.81,116.85 L163.27,117.82 L162.72,118.79 L162.15,119.74 L161.57,120.69 L160.97,121.63 L160.35,122.55 L159.72,123.47 L159.08,124.38 L158.42,125.27 L157.74,126.15 L157.05,127.02 L156.34,127.88 L155.61,128.72 L154.88,129.55 L154.12,130.36 L153.35,131.16 L152.56,131.95 L151.76,132.71 L150.94,133.46 L150.1,134.18 L149.24,134.89 L148.36,135.57 L147.46,136.22 L146.54,136.85 L145.59,137.45 L144.62,138.02 L143.62,138.56 L142.6,139.05 L141.56,139.49 L140.5,139.87 L139.42,140.19 L138.33,140.42 L137.22,140.57 L136.1,140.63 L134.97,140.58 L133.83,140.42 L132.74,140.11 L131.72,139.65 L130.82,139 L130.06,138.15 L129.49,137.16 L129.13,136.08 L128.99,134.97 L129.09,133.88 L129.36,132.81 L129.76,131.76 L130.23,130.71 L130.7,129.67 L131.15,128.64 L131.58,127.6 L131.98,126.57 L132.37,125.53 L132.75,124.5 L133.13,123.47 L133.51,122.44 L133.9,121.41 L134.31,120.37 L134.72,119.35 L135.15,118.32 L135.59,117.3 L136.05,116.29 L136.52,115.28 L137.01,114.28 L137.51,113.29 L138.03,112.3 L138.55,111.32 L139.07,110.34 L139.59,109.36 L140.09,108.38 L140.58,107.38 L141.06,106.38 L141.5,105.36 L141.92,104.34 L142.32,103.3 L142.7,102.25 L143.05,101.2 L143.37,100.13 L143.68,99.06 L143.96,97.99 L144.22,96.91 L144.46,95.83 L144.68,94.74 L144.88,93.65 L145.08,92.56 L145.25,91.46 L145.42,90.36 L145.57,89.26 L145.7,88.16 L145.81,87.05 L145.89,85.95 L145.95,84.84 L145.98,83.73 L146,82.62 L146,81.51 L146,80.4Z" fill="none" stroke="#f00" stroke-width="1.5" stroke-linejoin="round" />
<ellipse cx="159.3" cy="80.3" rx="2.3" ry="9.4" fill="none" stroke="#000" stroke-width="1.1"/>
<line x1="157" y1="80.3" x2="161.6" y2="80.3" stroke="#000" stroke-width="0.8"/>
<circle cx="159.3" cy="80.3" r="1" fill="#000"/>
<path d="M342.1,80.4 L342.09,79.36 L342.07,78.33 L342.03,77.29 L341.98,76.25 L341.91,75.22 L341.83,74.18 L341.74,73.15 L341.64,72.11 L341.52,71.08 L341.39,70.04 L341.25,69.01 L341.09,67.99 L340.91,66.96 L340.71,65.94 L340.5,64.93 L340.27,63.92 L340.01,62.91 L339.74,61.91 L339.45,60.92 L339.14,59.93 L338.81,58.95 L338.46,57.97 L338.1,56.99 L337.73,56.02 L337.35,55.06 L336.96,54.09 L336.57,53.13 L336.17,52.17 L335.77,51.21 L335.37,50.26 L334.97,49.3 L334.57,48.34 L334.17,47.38 L333.78,46.42 L333.39,45.46 L333,44.5 L332.62,43.53 L332.25,42.57 L331.89,41.6 L331.54,40.62 L331.19,39.65 L330.86,38.67 L330.52,37.68 L330.2,36.7 L329.87,35.71 L329.56,34.72 L329.25,33.73 L328.96,32.73 L328.72,31.72 L328.53,30.7 L328.42,29.66 L328.4,28.6 L328.49,27.54 L328.7,26.49 L329.05,25.49 L329.55,24.58 L330.22,23.78 L331.03,23.11 L331.96,22.59 L332.96,22.23 L333.98,22.03 L334.99,21.99 L336,22.11 L337.01,22.35 L338,22.71 L338.97,23.17 L339.93,23.71 L340.86,24.32 L341.77,24.97 L342.64,25.66 L343.49,26.36 L344.3,27.07 L345.09,27.79 L345.84,28.52 L346.58,29.26 L347.29,30.01 L347.97,30.76 L348.65,31.53 L349.3,32.3 L349.95,33.09 L350.59,33.89 L351.21,34.7 L351.83,35.52 L352.45,36.35 L353.05,37.19 L353.65,38.04 L354.23,38.9 L354.81,39.76 L355.38,40.64 L355.94,41.52 L356.49,42.4 L357.03,43.3 L357.56,44.2 L358.08,45.1 L358.59,46.01 L359.08,46.93 L359.57,47.85 L360.04,48.77 L360.5,49.71 L360.94,50.64 L361.38,51.59 L361.79,52.54 L362.19,53.49 L362.58,54.45 L362.95,55.42 L363.3,56.4 L363.64,57.38 L363.96,58.37 L364.26,59.36 L364.55,60.36 L364.81,61.36 L365.07,62.37 L365.3,63.38 L365.52,64.4 L365.72,65.42 L365.91,66.44 L366.08,67.46 L366.23,68.49 L366.37,69.52 L366.49,70.55 L366.6,71.58 L366.69,72.62 L366.77,73.65 L366.84,74.69 L366.89,75.73 L366.94,76.76 L366.97,77.8 L366.99,78.84 L367,79.88 L367,80.92 L366.99,81.96 L366.97,83 L366.94,84.04 L366.89,85.07 L366.84,86.11 L366.77,87.15 L366.69,88.18 L366.6,89.22 L366.49,90.25 L366.37,91.28 L366.23,92.31 L366.08,93.34 L365.91,94.36 L365.72,95.38 L365.52,96.4 L365.3,97.42 L365.07,98.43 L364.81,99.44 L364.55,100.44 L364.26,101.44 L363.96,102.43 L363.64,103.42 L363.3,104.4 L362.95,105.38 L362.58,106.35 L362.19,107.31 L361.79,108.26 L361.38,109.21 L360.94,110.16 L360.5,111.09 L360.04,112.03 L359.57,112.95 L359.08,113.87 L358.59,114.79 L358.08,115.7 L357.56,116.6 L357.03,117.5 L356.49,118.4 L355.94,119.28 L355.38,120.16 L354.81,121.04 L354.23,121.9 L353.65,122.76 L353.05,123.61 L352.45,124.45 L351.83,125.28 L351.21,126.1 L350.59,126.91 L349.95,127.71 L349.3,128.5 L348.65,129.27 L347.97,130.04 L347.29,130.79 L346.58,131.54 L345.84,132.28 L345.09,133.01 L344.3,133.73 L343.49,134.44 L342.64,135.14 L341.77,135.83 L340.86,136.48 L339.93,137.09 L338.97,137.63 L338,138.09 L337.01,138.45 L336,138.69 L334.99,138.81 L333.98,138.77 L332.96,138.57 L331.96,138.21 L331.03,137.69 L330.22,137.02 L329.55,136.22 L329.05,135.31 L328.7,134.31 L328.49,133.26 L328.4,132.2 L328.42,131.14 L328.53,130.1 L328.72,129.08 L328.96,128.07 L329.25,127.07 L329.56,126.08 L329.87,125.09 L330.2,124.1 L330.52,123.12 L330.86,122.13 L331.19,121.15 L331.54,120.18 L331.89,119.2 L332.25,118.23 L332.62,117.27 L333,116.3 L333.39,115.34 L333.78,114.38 L334.17,113.42 L334.57,112.46 L334.97,111.5 L335.37,110.54 L335.77,109.59 L336.17,108.63 L336.57,107.67 L336.96,106.71 L337.35,105.74 L337.73,104.78 L338.1,103.81 L338.46,102.83 L338.81,101.85 L339.14,100.87 L339.45,99.88 L339.74,98.89 L340.01,97.89 L340.27,96.88 L340.5,95.87 L340.71,94.86 L340.91,93.84 L341.09,92.81 L341.25,91.79 L341.39,90.76 L341.52,89.72 L341.64,88.69 L341.74,87.65 L341.83,86.62 L341.91,85.58 L341.98,84.55 L342.03,83.51 L342.07,82.47 L342.09,81.44 L342.1,80.4Z" fill="none" stroke="#000" stroke-width="1.15" stroke-linejoin="round" />
<path d="M343.6,80.4 L343.59,79.48 L343.58,78.57 L343.55,77.65 L343.51,76.74 L343.47,75.82 L343.41,74.9 L343.35,73.99 L343.28,73.07 L343.2,72.16 L343.11,71.24 L343.01,70.33 L342.89,69.42 L342.77,68.51 L342.63,67.6 L342.48,66.69 L342.32,65.79 L342.14,64.89 L341.95,64 L341.75,63.1 L341.52,62.21 L341.29,61.33 L341.04,60.45 L340.78,59.57 L340.51,58.69 L340.24,57.81 L339.96,56.94 L339.67,56.07 L339.38,55.2 L339.09,54.33 L338.79,53.46 L338.5,52.59 L338.2,51.72 L337.91,50.86 L337.62,49.99 L337.33,49.12 L337.05,48.25 L336.77,47.37 L336.49,46.5 L336.22,45.62 L335.96,44.74 L335.7,43.86 L335.45,42.98 L335.2,42.1 L334.96,41.21 L334.72,40.33 L334.49,39.44 L334.27,38.55 L334.06,37.67 L333.87,36.77 L333.71,35.87 L333.59,34.96 L333.51,34.03 L333.5,33.09 L333.56,32.15 L333.73,31.23 L334.02,30.36 L334.47,29.56 L335.09,28.86 L335.84,28.29 L336.67,27.88 L337.53,27.66 L338.4,27.61 L339.27,27.74 L340.15,28 L341.01,28.38 L341.87,28.86 L342.71,29.42 L343.53,30.04 L344.32,30.69 L345.08,31.36 L345.81,32.03 L346.5,32.7 L347.17,33.37 L347.81,34.04 L348.42,34.71 L349.01,35.39 L349.59,36.07 L350.15,36.76 L350.69,37.46 L351.23,38.16 L351.76,38.88 L352.29,39.61 L352.81,40.36 L353.33,41.11 L353.84,41.87 L354.34,42.64 L354.83,43.41 L355.32,44.2 L355.8,44.99 L356.27,45.79 L356.73,46.59 L357.18,47.4 L357.63,48.21 L358.06,49.03 L358.49,49.85 L358.9,50.67 L359.3,51.49 L359.69,52.32 L360.07,53.16 L360.44,54 L360.8,54.84 L361.14,55.69 L361.47,56.54 L361.79,57.4 L362.09,58.27 L362.38,59.13 L362.66,60.01 L362.92,60.89 L363.17,61.77 L363.4,62.66 L363.62,63.55 L363.83,64.45 L364.02,65.35 L364.2,66.25 L364.36,67.15 L364.51,68.06 L364.65,68.96 L364.78,69.87 L364.89,70.78 L364.99,71.69 L365.07,72.61 L365.15,73.52 L365.22,74.44 L365.27,75.35 L365.31,76.27 L365.35,77.19 L365.37,78.1 L365.39,79.02 L365.4,79.94 L365.4,80.86 L365.39,81.78 L365.37,82.7 L365.35,83.61 L365.31,84.53 L365.27,85.45 L365.22,86.36 L365.15,87.28 L365.07,88.19 L364.99,89.11 L364.89,90.02 L364.78,90.93 L364.65,91.84 L364.51,92.74 L364.36,93.65 L364.2,94.55 L364.02,95.45 L363.83,96.35 L363.62,97.25 L363.4,98.14 L363.17,99.03 L362.92,99.91 L362.66,100.79 L362.38,101.67 L362.09,102.53 L361.79,103.4 L361.47,104.26 L361.14,105.11 L360.8,105.96 L360.44,106.8 L360.07,107.64 L359.69,108.48 L359.3,109.31 L358.9,110.13 L358.49,110.95 L358.06,111.77 L357.63,112.59 L357.18,113.4 L356.73,114.21 L356.27,115.01 L355.8,115.81 L355.32,116.6 L354.83,117.39 L354.34,118.16 L353.84,118.93 L353.33,119.69 L352.81,120.44 L352.29,121.19 L351.76,121.92 L351.23,122.64 L350.69,123.34 L350.15,124.04 L349.59,124.73 L349.01,125.41 L348.42,126.09 L347.81,126.76 L347.17,127.43 L346.5,128.1 L345.81,128.77 L345.08,129.44 L344.32,130.11 L343.53,130.76 L342.71,131.38 L341.87,131.94 L341.01,132.42 L340.15,132.8 L339.27,133.06 L338.4,133.19 L337.53,133.14 L336.67,132.92 L335.84,132.51 L335.09,131.94 L334.47,131.24 L334.02,130.44 L333.73,129.57 L333.56,128.65 L333.5,127.71 L333.51,126.77 L333.59,125.84 L333.71,124.93 L333.87,124.03 L334.06,123.13 L334.27,122.25 L334.49,121.36 L334.72,120.47 L334.96,119.59 L335.2,118.7 L335.45,117.82 L335.7,116.94 L335.96,116.06 L336.22,115.18 L336.49,114.3 L336.77,113.43 L337.05,112.55 L337.33,111.68 L337.62,110.81 L337.91,109.94 L338.2,109.08 L338.5,108.21 L338.79,107.34 L339.09,106.47 L339.38,105.6 L339.67,104.73 L339.96,103.86 L340.24,102.99 L340.51,102.11 L340.78,101.23 L341.04,100.35 L341.29,99.47 L341.52,98.59 L341.75,97.7 L341.95,96.8 L342.14,95.91 L342.32,95.01 L342.48,94.11 L342.63,93.2 L342.77,92.29 L342.89,91.38 L343.01,90.47 L343.11,89.56 L343.2,88.64 L343.28,87.73 L343.35,86.81 L343.41,85.9 L343.47,84.98 L343.51,84.06 L343.55,83.15 L343.58,82.23 L343.59,81.32 L343.6,80.4Z" fill="none" stroke="#000" stroke-width="1.15" stroke-linejoin="round" />
<path d="M345.1,80.4 L345.1,79.63 L345.09,78.87 L345.08,78.1 L345.06,77.33 L345.03,76.57 L345.01,75.8 L344.98,75.03 L344.94,74.27 L344.9,73.5 L344.86,72.73 L344.81,71.97 L344.75,71.2 L344.69,70.44 L344.62,69.67 L344.55,68.91 L344.47,68.14 L344.38,67.38 L344.29,66.62 L344.19,65.86 L344.08,65.1 L343.96,64.34 L343.84,63.59 L343.7,62.83 L343.57,62.08 L343.42,61.32 L343.28,60.57 L343.13,59.82 L342.97,59.07 L342.82,58.32 L342.66,57.57 L342.5,56.82 L342.34,56.07 L342.18,55.32 L342.02,54.57 L341.86,53.82 L341.7,53.07 L341.55,52.31 L341.39,51.56 L341.25,50.81 L341.1,50.06 L340.96,49.3 L340.82,48.54 L340.69,47.79 L340.56,47.03 L340.43,46.27 L340.3,45.52 L340.17,44.76 L340.04,44.01 L339.91,43.26 L339.78,42.51 L339.66,41.76 L339.57,41 L339.51,40.23 L339.49,39.45 L339.51,38.66 L339.62,37.87 L339.83,37.13 L340.21,36.47 L340.77,35.95 L341.46,35.57 L342.21,35.36 L342.95,35.31 L343.69,35.4 L344.42,35.63 L345.13,35.96 L345.82,36.38 L346.5,36.87 L347.15,37.41 L347.78,37.98 L348.38,38.57 L348.95,39.15 L349.49,39.74 L350.01,40.33 L350.5,40.91 L350.98,41.51 L351.44,42.1 L351.88,42.7 L352.31,43.31 L352.73,43.92 L353.15,44.55 L353.56,45.18 L353.97,45.82 L354.37,46.46 L354.76,47.12 L355.15,47.78 L355.54,48.45 L355.91,49.12 L356.29,49.8 L356.65,50.48 L357.01,51.16 L357.36,51.85 L357.7,52.55 L358.04,53.24 L358.36,53.94 L358.68,54.64 L359,55.35 L359.3,56.05 L359.59,56.76 L359.88,57.47 L360.15,58.19 L360.42,58.91 L360.67,59.63 L360.92,60.35 L361.15,61.08 L361.38,61.82 L361.59,62.55 L361.79,63.29 L361.99,64.04 L362.17,64.78 L362.34,65.53 L362.5,66.28 L362.65,67.03 L362.79,67.79 L362.92,68.55 L363.04,69.31 L363.15,70.07 L363.25,70.83 L363.34,71.59 L363.43,72.35 L363.5,73.12 L363.56,73.88 L363.62,74.65 L363.67,75.41 L363.71,76.18 L363.74,76.95 L363.76,77.71 L363.78,78.48 L363.79,79.25 L363.8,80.02 L363.8,80.78 L363.79,81.55 L363.78,82.32 L363.76,83.09 L363.74,83.85 L363.71,84.62 L363.67,85.39 L363.62,86.15 L363.56,86.92 L363.5,87.68 L363.43,88.45 L363.34,89.21 L363.25,89.97 L363.15,90.73 L363.04,91.49 L362.92,92.25 L362.79,93.01 L362.65,93.77 L362.5,94.52 L362.34,95.27 L362.17,96.02 L361.99,96.76 L361.79,97.51 L361.59,98.25 L361.38,98.98 L361.15,99.72 L360.92,100.45 L360.67,101.17 L360.42,101.89 L360.15,102.61 L359.88,103.33 L359.59,104.04 L359.3,104.75 L359,105.45 L358.68,106.16 L358.36,106.86 L358.04,107.56 L357.7,108.25 L357.36,108.95 L357.01,109.64 L356.65,110.32 L356.29,111 L355.91,111.68 L355.54,112.35 L355.15,113.02 L354.76,113.68 L354.37,114.34 L353.97,114.98 L353.56,115.62 L353.15,116.25 L352.73,116.88 L352.31,117.49 L351.88,118.1 L351.44,118.7 L350.98,119.29 L350.5,119.89 L350.01,120.47 L349.49,121.06 L348.95,121.65 L348.38,122.23 L347.78,122.82 L347.15,123.39 L346.5,123.93 L345.82,124.42 L345.13,124.84 L344.42,125.17 L343.69,125.4 L342.95,125.49 L342.21,125.44 L341.46,125.23 L340.77,124.85 L340.21,124.33 L339.83,123.67 L339.62,122.93 L339.51,122.14 L339.49,121.35 L339.51,120.57 L339.57,119.8 L339.66,119.04 L339.78,118.29 L339.91,117.54 L340.04,116.79 L340.17,116.04 L340.3,115.28 L340.43,114.53 L340.56,113.77 L340.69,113.01 L340.82,112.26 L340.96,111.5 L341.1,110.74 L341.25,109.99 L341.39,109.24 L341.55,108.49 L341.7,107.73 L341.86,106.98 L342.02,106.23 L342.18,105.48 L342.34,104.73 L342.5,103.98 L342.66,103.23 L342.82,102.48 L342.97,101.73 L343.13,100.98 L343.28,100.23 L343.42,99.48 L343.57,98.72 L343.7,97.97 L343.84,97.21 L343.96,96.46 L344.08,95.7 L344.19,94.94 L344.29,94.18 L344.38,93.42 L344.47,92.66 L344.55,91.89 L344.62,91.13 L344.69,90.36 L344.75,89.6 L344.81,88.83 L344.86,88.07 L344.9,87.3 L344.94,86.53 L344.98,85.77 L345.01,85 L345.03,84.23 L345.06,83.47 L345.08,82.7 L345.09,81.93 L345.1,81.17 L345.1,80.4Z" fill="none" stroke="#000" stroke-width="1.15" stroke-linejoin="round" />
<path d="M345.2,80.4 L345.2,79.64 L345.19,78.88 L345.18,78.12 L345.16,77.36 L345.13,76.6 L345.11,75.84 L345.08,75.08 L345.04,74.32 L345,73.56 L344.96,72.8 L344.91,72.04 L344.85,71.28 L344.79,70.53 L344.72,69.77 L344.65,69.01 L344.57,68.26 L344.49,67.5 L344.39,66.75 L344.29,65.99 L344.18,65.24 L344.06,64.49 L343.94,63.74 L343.81,62.99 L343.67,62.24 L343.53,61.5 L343.38,60.75 L343.23,60.01 L343.08,59.26 L342.92,58.52 L342.76,57.77 L342.6,57.03 L342.44,56.29 L342.28,55.55 L342.11,54.8 L341.95,54.06 L341.79,53.32 L341.64,52.58 L341.48,51.83 L341.33,51.09 L341.18,50.34 L341.04,49.59 L340.9,48.84 L340.77,48.1 L340.63,47.35 L340.5,46.6 L340.38,45.85 L340.25,45.1 L340.11,44.35 L339.98,43.61 L339.85,42.86 L339.72,42.12 L339.62,41.37 L339.54,40.61 L339.49,39.85 L339.49,39.07 L339.55,38.29 L339.7,37.52 L339.98,36.82 L340.44,36.22 L341.06,35.76 L341.78,35.46 L342.52,35.33 L343.25,35.37 L343.96,35.55 L344.67,35.86 L345.35,36.27 L346.01,36.76 L346.65,37.31 L347.27,37.9 L347.85,38.5 L348.4,39.1 L348.92,39.7 L349.41,40.3 L349.88,40.9 L350.33,41.51 L350.76,42.11 L351.17,42.72 L351.58,43.34 L351.97,43.96 L352.36,44.6 L352.74,45.23 L353.12,45.88 L353.5,46.54 L353.87,47.2 L354.23,47.87 L354.59,48.54 L354.94,49.22 L355.29,49.9 L355.63,50.59 L355.96,51.28 L356.29,51.97 L356.61,52.67 L356.92,53.37 L357.22,54.07 L357.52,54.78 L357.8,55.48 L358.08,56.19 L358.35,56.9 L358.62,57.61 L358.87,58.33 L359.11,59.05 L359.35,59.77 L359.57,60.49 L359.79,61.22 L359.99,61.95 L360.19,62.69 L360.37,63.42 L360.55,64.16 L360.71,64.91 L360.87,65.65 L361.02,66.4 L361.16,67.15 L361.28,67.9 L361.4,68.65 L361.51,69.4 L361.61,70.16 L361.7,70.91 L361.79,71.67 L361.86,72.42 L361.93,73.18 L361.98,73.94 L362.03,74.7 L362.08,75.46 L362.11,76.22 L362.14,76.98 L362.17,77.74 L362.18,78.5 L362.19,79.26 L362.2,80.02 L362.2,80.78 L362.19,81.54 L362.18,82.3 L362.17,83.06 L362.14,83.82 L362.11,84.58 L362.08,85.34 L362.03,86.1 L361.98,86.86 L361.93,87.62 L361.86,88.38 L361.79,89.13 L361.7,89.89 L361.61,90.64 L361.51,91.4 L361.4,92.15 L361.28,92.9 L361.16,93.65 L361.02,94.4 L360.87,95.15 L360.71,95.89 L360.55,96.64 L360.37,97.38 L360.19,98.11 L359.99,98.85 L359.79,99.58 L359.57,100.31 L359.35,101.03 L359.11,101.75 L358.87,102.47 L358.62,103.19 L358.35,103.9 L358.08,104.61 L357.8,105.32 L357.52,106.02 L357.22,106.73 L356.92,107.43 L356.61,108.13 L356.29,108.83 L355.96,109.52 L355.63,110.21 L355.29,110.9 L354.94,111.58 L354.59,112.26 L354.23,112.93 L353.87,113.6 L353.5,114.26 L353.12,114.92 L352.74,115.57 L352.36,116.2 L351.97,116.84 L351.58,117.46 L351.17,118.08 L350.76,118.69 L350.33,119.29 L349.88,119.9 L349.41,120.5 L348.92,121.1 L348.4,121.7 L347.85,122.3 L347.27,122.9 L346.65,123.49 L346.01,124.04 L345.35,124.53 L344.67,124.94 L343.96,125.25 L343.25,125.43 L342.52,125.47 L341.78,125.34 L341.06,125.04 L340.44,124.58 L339.98,123.98 L339.7,123.28 L339.55,122.51 L339.49,121.73 L339.49,120.95 L339.54,120.19 L339.62,119.43 L339.72,118.68 L339.85,117.94 L339.98,117.19 L340.11,116.45 L340.25,115.7 L340.38,114.95 L340.5,114.2 L340.63,113.45 L340.77,112.7 L340.9,111.96 L341.04,111.21 L341.18,110.46 L341.33,109.71 L341.48,108.97 L341.64,108.22 L341.79,107.48 L341.95,106.74 L342.11,106 L342.28,105.25 L342.44,104.51 L342.6,103.77 L342.76,103.03 L342.92,102.28 L343.08,101.54 L343.23,100.79 L343.38,100.05 L343.53,99.3 L343.67,98.56 L343.81,97.81 L343.94,97.06 L344.06,96.31 L344.18,95.56 L344.29,94.81 L344.39,94.05 L344.49,93.3 L344.57,92.54 L344.65,91.79 L344.72,91.03 L344.79,90.27 L344.85,89.52 L344.91,88.76 L344.96,88 L345,87.24 L345.04,86.48 L345.08,85.72 L345.11,84.96 L345.13,84.2 L345.16,83.44 L345.18,82.68 L345.19,81.92 L345.2,81.16 L345.2,80.4Z" fill="none" stroke="#000" stroke-width="1.15" stroke-linejoin="round" />
<path d="M346.8,80.4 L346.8,79.85 L346.8,79.29 L346.8,78.74 L346.79,78.19 L346.79,77.63 L346.79,77.08 L346.78,76.53 L346.78,75.98 L346.78,75.42 L346.77,74.87 L346.76,74.32 L346.76,73.76 L346.75,73.21 L346.74,72.66 L346.73,72.1 L346.72,71.55 L346.71,71 L346.7,70.45 L346.69,69.89 L346.67,69.34 L346.66,68.79 L346.64,68.23 L346.63,67.68 L346.61,67.13 L346.59,66.58 L346.57,66.02 L346.56,65.47 L346.54,64.92 L346.52,64.36 L346.5,63.81 L346.47,63.26 L346.45,62.71 L346.43,62.15 L346.41,61.6 L346.39,61.05 L346.37,60.5 L346.35,59.94 L346.33,59.39 L346.31,58.84 L346.3,58.29 L346.28,57.73 L346.27,57.18 L346.25,56.63 L346.24,56.07 L346.22,55.52 L346.21,54.97 L346.19,54.41 L346.17,53.86 L346.14,53.31 L346.12,52.76 L346.1,52.21 L346.08,51.66 L346.08,51.1 L346.09,50.55 L346.11,49.99 L346.16,49.43 L346.26,48.89 L346.42,48.36 L346.67,47.85 L347.02,47.37 L347.46,46.95 L347.95,46.65 L348.46,46.5 L348.96,46.57 L349.42,46.82 L349.84,47.2 L350.24,47.68 L350.6,48.18 L350.93,48.68 L351.22,49.17 L351.49,49.64 L351.75,50.12 L351.99,50.59 L352.22,51.07 L352.45,51.57 L352.67,52.06 L352.89,52.57 L353.1,53.08 L353.31,53.6 L353.53,54.11 L353.74,54.63 L353.95,55.15 L354.16,55.67 L354.37,56.18 L354.59,56.7 L354.8,57.21 L355.01,57.72 L355.23,58.23 L355.44,58.74 L355.65,59.25 L355.86,59.76 L356.07,60.27 L356.28,60.78 L356.48,61.29 L356.69,61.81 L356.89,62.32 L357.08,62.83 L357.28,63.35 L357.47,63.87 L357.66,64.39 L357.84,64.91 L358.02,65.44 L358.19,65.96 L358.36,66.49 L358.52,67.02 L358.68,67.55 L358.83,68.08 L358.98,68.62 L359.12,69.15 L359.25,69.69 L359.37,70.23 L359.49,70.77 L359.59,71.32 L359.7,71.86 L359.79,72.41 L359.87,72.95 L359.95,73.5 L360.03,74.05 L360.09,74.6 L360.15,75.15 L360.2,75.7 L360.25,76.25 L360.29,76.81 L360.32,77.36 L360.35,77.91 L360.37,78.46 L360.38,79.02 L360.39,79.57 L360.4,80.12 L360.4,80.68 L360.39,81.23 L360.38,81.78 L360.37,82.34 L360.35,82.89 L360.32,83.44 L360.29,83.99 L360.25,84.55 L360.2,85.1 L360.15,85.65 L360.09,86.2 L360.03,86.75 L359.95,87.3 L359.87,87.85 L359.79,88.39 L359.7,88.94 L359.59,89.48 L359.49,90.03 L359.37,90.57 L359.25,91.11 L359.12,91.65 L358.98,92.18 L358.83,92.72 L358.68,93.25 L358.52,93.78 L358.36,94.31 L358.19,94.84 L358.02,95.36 L357.84,95.89 L357.66,96.41 L357.47,96.93 L357.28,97.45 L357.08,97.97 L356.89,98.48 L356.69,98.99 L356.48,99.51 L356.28,100.02 L356.07,100.53 L355.86,101.04 L355.65,101.55 L355.44,102.06 L355.23,102.57 L355.01,103.08 L354.8,103.59 L354.59,104.1 L354.37,104.62 L354.16,105.13 L353.95,105.65 L353.74,106.17 L353.53,106.69 L353.31,107.2 L353.1,107.72 L352.89,108.23 L352.67,108.74 L352.45,109.23 L352.22,109.73 L351.99,110.21 L351.75,110.68 L351.49,111.16 L351.22,111.63 L350.93,112.12 L350.6,112.62 L350.24,113.12 L349.84,113.6 L349.42,113.98 L348.96,114.23 L348.46,114.3 L347.95,114.15 L347.46,113.85 L347.02,113.43 L346.67,112.95 L346.42,112.44 L346.26,111.91 L346.16,111.37 L346.11,110.81 L346.09,110.25 L346.08,109.7 L346.08,109.14 L346.1,108.59 L346.12,108.04 L346.14,107.49 L346.17,106.94 L346.19,106.39 L346.21,105.83 L346.22,105.28 L346.24,104.73 L346.25,104.17 L346.27,103.62 L346.28,103.07 L346.3,102.51 L346.31,101.96 L346.33,101.41 L346.35,100.86 L346.37,100.3 L346.39,99.75 L346.41,99.2 L346.43,98.65 L346.45,98.09 L346.47,97.54 L346.5,96.99 L346.52,96.44 L346.54,95.88 L346.56,95.33 L346.57,94.78 L346.59,94.22 L346.61,93.67 L346.63,93.12 L346.64,92.57 L346.66,92.01 L346.67,91.46 L346.69,90.91 L346.7,90.35 L346.71,89.8 L346.72,89.25 L346.73,88.7 L346.74,88.14 L346.75,87.59 L346.76,87.04 L346.76,86.48 L346.77,85.93 L346.78,85.38 L346.78,84.82 L346.78,84.27 L346.79,83.72 L346.79,83.17 L346.79,82.61 L346.8,82.06 L346.8,81.51 L346.8,80.95 L346.8,80.4Z" fill="none" stroke="#000" stroke-width="1.15" stroke-linejoin="round" />
<path d="M340.5,80.4 L340.49,79.26 L340.46,78.12 L340.41,76.99 L340.34,75.85 L340.26,74.71 L340.16,73.57 L340.05,72.44 L339.91,71.3 L339.76,70.17 L339.6,69.03 L339.41,67.91 L339.2,66.78 L338.97,65.66 L338.73,64.55 L338.45,63.44 L338.16,62.34 L337.84,61.25 L337.49,60.17 L337.12,59.09 L336.73,58.02 L336.31,56.96 L335.88,55.91 L335.43,54.86 L334.97,53.82 L334.5,52.77 L334.03,51.74 L333.54,50.7 L333.06,49.67 L332.57,48.64 L332.08,47.61 L331.59,46.58 L331.11,45.54 L330.63,44.51 L330.15,43.48 L329.68,42.44 L329.22,41.4 L328.76,40.36 L328.32,39.31 L327.89,38.26 L327.47,37.21 L327.05,36.15 L326.65,35.09 L326.24,34.02 L325.85,32.95 L325.45,31.87 L325.06,30.79 L324.71,29.69 L324.4,28.59 L324.16,27.48 L324.03,26.34 L324.01,25.19 L324.13,24.03 L324.39,22.88 L324.8,21.79 L325.37,20.78 L326.08,19.88 L326.95,19.12 L327.94,18.51 L329.01,18.05 L330.13,17.73 L331.27,17.56 L332.41,17.54 L333.53,17.66 L334.65,17.9 L335.74,18.25 L336.82,18.69 L337.88,19.21 L338.92,19.8 L339.93,20.45 L340.92,21.14 L341.87,21.85 L342.79,22.59 L343.68,23.34 L344.55,24.1 L345.38,24.88 L346.2,25.68 L346.99,26.48 L347.77,27.3 L348.52,28.14 L349.27,28.98 L350,29.84 L350.72,30.71 L351.43,31.59 L352.14,32.48 L352.83,33.38 L353.52,34.29 L354.19,35.21 L354.86,36.13 L355.51,37.07 L356.16,38.02 L356.79,38.97 L357.41,39.93 L358.02,40.9 L358.62,41.87 L359.21,42.85 L359.79,43.84 L360.35,44.84 L360.9,45.84 L361.43,46.84 L361.95,47.86 L362.46,48.88 L362.94,49.91 L363.41,50.95 L363.87,51.99 L364.3,53.05 L364.72,54.11 L365.11,55.18 L365.49,56.25 L365.85,57.34 L366.19,58.43 L366.5,59.52 L366.8,60.62 L367.08,61.73 L367.34,62.84 L367.58,63.96 L367.8,65.08 L368,66.2 L368.19,67.33 L368.35,68.45 L368.5,69.58 L368.62,70.72 L368.74,71.85 L368.83,72.99 L368.91,74.13 L368.97,75.26 L369.03,76.4 L369.06,77.55 L369.09,78.69 L369.1,79.83 L369.1,80.97 L369.09,82.11 L369.06,83.25 L369.03,84.4 L368.97,85.54 L368.91,86.67 L368.83,87.81 L368.74,88.95 L368.62,90.08 L368.5,91.22 L368.35,92.35 L368.19,93.47 L368,94.6 L367.8,95.72 L367.58,96.84 L367.34,97.96 L367.08,99.07 L366.8,100.18 L366.5,101.28 L366.19,102.37 L365.85,103.46 L365.49,104.55 L365.11,105.62 L364.72,106.69 L364.3,107.75 L363.87,108.81 L363.41,109.85 L362.94,110.89 L362.46,111.92 L361.95,112.94 L361.43,113.96 L360.9,114.96 L360.35,115.96 L359.79,116.96 L359.21,117.95 L358.62,118.93 L358.02,119.9 L357.41,120.87 L356.79,121.83 L356.16,122.78 L355.51,123.73 L354.86,124.67 L354.19,125.59 L353.52,126.51 L352.83,127.42 L352.14,128.32 L351.43,129.21 L350.72,130.09 L350,130.96 L349.27,131.82 L348.52,132.66 L347.77,133.5 L346.99,134.32 L346.2,135.12 L345.38,135.92 L344.55,136.7 L343.68,137.46 L342.79,138.21 L341.87,138.95 L340.92,139.66 L339.93,140.35 L338.92,141 L337.88,141.59 L336.82,142.11 L335.74,142.55 L334.65,142.9 L333.53,143.14 L332.41,143.26 L331.27,143.24 L330.13,143.07 L329.01,142.75 L327.94,142.29 L326.95,141.68 L326.08,140.92 L325.37,140.02 L324.8,139.01 L324.39,137.92 L324.13,136.77 L324.01,135.61 L324.03,134.46 L324.16,133.32 L324.4,132.21 L324.71,131.11 L325.06,130.01 L325.45,128.93 L325.85,127.85 L326.24,126.78 L326.65,125.71 L327.05,124.65 L327.47,123.59 L327.89,122.54 L328.32,121.49 L328.76,120.44 L329.22,119.4 L329.68,118.36 L330.15,117.32 L330.63,116.29 L331.11,115.26 L331.59,114.22 L332.08,113.19 L332.57,112.16 L333.06,111.13 L333.54,110.1 L334.03,109.06 L334.5,108.03 L334.97,106.98 L335.43,105.94 L335.88,104.89 L336.31,103.84 L336.73,102.78 L337.12,101.71 L337.49,100.63 L337.84,99.55 L338.16,98.46 L338.45,97.36 L338.73,96.25 L338.97,95.14 L339.2,94.02 L339.41,92.89 L339.6,91.77 L339.76,90.63 L339.91,89.5 L340.05,88.36 L340.16,87.23 L340.26,86.09 L340.34,84.95 L340.41,83.81 L340.46,82.68 L340.49,81.54 L340.5,80.4Z" fill="none" stroke="#f00" stroke-width="1.5" stroke-linejoin="round" />
<ellipse cx="355.3" cy="80.6" rx="2.1" ry="9" fill="none" stroke="#000" stroke-width="1.1"/>
<line x1="353.2" y1="80.6" x2="357.4" y2="80.6" stroke="#000" stroke-width="0.8"/>
<circle cx="355.3" cy="80.6" r="1" fill="#000"/>
<path d="M551.1,80.1 L551.07,78.95 L551,77.8 L550.89,76.65 L550.77,75.5 L550.64,74.35 L550.52,73.2 L550.41,72.05 L550.32,70.9 L550.24,69.75 L550.17,68.59 L550.1,67.44 L550.03,66.29 L549.96,65.14 L549.87,63.99 L549.78,62.84 L549.66,61.7 L549.53,60.55 L549.38,59.41 L549.21,58.26 L549.02,57.13 L548.8,55.99 L548.57,54.86 L548.32,53.73 L548.04,52.61 L547.75,51.49 L547.44,50.37 L547.1,49.27 L546.75,48.16 L546.39,47.06 L546.01,45.97 L545.63,44.88 L545.24,43.79 L544.84,42.71 L544.44,41.64 L544.03,40.57 L543.63,39.5 L543.23,38.43 L542.81,37.38 L542.39,36.32 L541.94,35.27 L541.48,34.22 L540.99,33.17 L540.47,32.13 L539.91,31.09 L539.31,30.06 L538.67,29.02 L538,27.99 L537.32,26.96 L536.67,25.92 L536.07,24.87 L535.54,23.81 L535.11,22.73 L534.82,21.64 L534.67,20.52 L534.71,19.38 L534.95,18.22 L535.5,17.2 L536.46,16.61 L537.64,16.39 L538.82,16.39 L539.97,16.58 L541.08,16.92 L542.16,17.38 L543.21,17.93 L544.23,18.54 L545.22,19.18 L546.19,19.83 L547.14,20.51 L548.05,21.22 L548.94,21.94 L549.81,22.69 L550.66,23.47 L551.48,24.27 L552.27,25.1 L553.05,25.95 L553.81,26.81 L554.57,27.69 L555.32,28.57 L556.06,29.45 L556.82,30.33 L557.57,31.2 L558.33,32.07 L559.08,32.94 L559.84,33.82 L560.59,34.69 L561.34,35.57 L562.08,36.45 L562.82,37.34 L563.56,38.22 L564.3,39.11 L565.03,40 L565.76,40.9 L566.48,41.8 L567.19,42.7 L567.9,43.62 L568.6,44.53 L569.29,45.46 L569.96,46.4 L570.62,47.34 L571.27,48.3 L571.89,49.27 L572.5,50.25 L573.1,51.24 L573.68,52.24 L574.24,53.24 L574.79,54.26 L575.33,55.28 L575.84,56.31 L576.34,57.35 L576.82,58.4 L577.28,59.46 L577.73,60.53 L578.15,61.6 L578.56,62.68 L578.96,63.76 L579.34,64.85 L579.71,65.95 L580.06,67.05 L580.39,68.15 L580.7,69.26 L580.98,70.38 L581.23,71.51 L581.45,72.64 L581.63,73.78 L581.79,74.92 L581.94,76.07 L582.06,77.22 L582.14,78.37 L582.19,79.52 L582.19,80.68 L582.14,81.83 L582.06,82.98 L581.94,84.13 L581.79,85.28 L581.63,86.42 L581.45,87.56 L581.23,88.69 L580.98,89.82 L580.7,90.94 L580.39,92.05 L580.06,93.15 L579.71,94.25 L579.34,95.35 L578.96,96.44 L578.56,97.52 L578.15,98.6 L577.73,99.67 L577.28,100.74 L576.82,101.8 L576.34,102.85 L575.84,103.89 L575.33,104.92 L574.79,105.94 L574.24,106.96 L573.68,107.96 L573.1,108.96 L572.5,109.95 L571.89,110.93 L571.27,111.9 L570.62,112.86 L569.96,113.8 L569.29,114.74 L568.6,115.67 L567.9,116.58 L567.19,117.5 L566.48,118.4 L565.76,119.3 L565.03,120.2 L564.3,121.09 L563.56,121.98 L562.82,122.86 L562.08,123.75 L561.34,124.63 L560.59,125.51 L559.84,126.38 L559.08,127.26 L558.33,128.13 L557.57,129 L556.82,129.87 L556.06,130.75 L555.32,131.63 L554.57,132.51 L553.81,133.39 L553.05,134.25 L552.27,135.1 L551.48,135.93 L550.66,136.73 L549.81,137.51 L548.94,138.26 L548.05,138.98 L547.14,139.69 L546.19,140.37 L545.22,141.02 L544.23,141.66 L543.21,142.27 L542.16,142.82 L541.08,143.28 L539.97,143.62 L538.82,143.81 L537.64,143.81 L536.46,143.59 L535.5,143 L534.95,141.98 L534.71,140.82 L534.67,139.68 L534.82,138.56 L535.11,137.47 L535.54,136.39 L536.07,135.33 L536.67,134.28 L537.32,133.24 L538,132.21 L538.67,131.18 L539.31,130.14 L539.91,129.11 L540.47,128.07 L540.99,127.03 L541.48,125.98 L541.94,124.93 L542.39,123.88 L542.81,122.82 L543.23,121.77 L543.63,120.7 L544.03,119.63 L544.44,118.56 L544.84,117.49 L545.24,116.41 L545.63,115.32 L546.01,114.23 L546.39,113.14 L546.75,112.04 L547.1,110.93 L547.44,109.83 L547.75,108.71 L548.04,107.59 L548.32,106.47 L548.57,105.34 L548.8,104.21 L549.02,103.07 L549.21,101.94 L549.38,100.79 L549.53,99.65 L549.66,98.5 L549.78,97.36 L549.87,96.21 L549.96,95.06 L550.03,93.91 L550.1,92.76 L550.17,91.61 L550.24,90.45 L550.32,89.3 L550.41,88.15 L550.52,87 L550.64,85.85 L550.77,84.7 L550.89,83.55 L551,82.4 L551.07,81.25 L551.1,80.1Z" fill="none" stroke="#000" stroke-width="1.15" stroke-linejoin="round" />
<path d="M553.4,80.1 L553.38,79.09 L553.32,78.09 L553.24,77.08 L553.14,76.07 L553.04,75.06 L552.95,74.05 L552.86,73.04 L552.79,72.03 L552.73,71.03 L552.67,70.02 L552.62,69.01 L552.56,68 L552.51,66.99 L552.44,65.98 L552.37,64.97 L552.29,63.97 L552.19,62.96 L552.08,61.96 L551.95,60.96 L551.8,59.96 L551.64,58.96 L551.47,57.96 L551.27,56.97 L551.07,55.98 L550.84,54.99 L550.6,54.01 L550.34,53.02 L550.06,52.05 L549.78,51.07 L549.49,50.1 L549.18,49.13 L548.88,48.17 L548.57,47.21 L548.26,46.25 L547.94,45.3 L547.64,44.35 L547.33,43.41 L547.02,42.47 L546.7,41.53 L546.36,40.59 L546.01,39.66 L545.63,38.73 L545.22,37.79 L544.78,36.86 L544.3,35.93 L543.77,34.99 L543.21,34.06 L542.63,33.12 L542.06,32.18 L541.52,31.23 L541.05,30.28 L540.66,29.33 L540.39,28.37 L540.26,27.4 L540.29,26.43 L540.52,25.45 L540.99,24.53 L541.79,23.98 L542.83,23.8 L543.87,23.83 L544.88,24 L545.86,24.29 L546.8,24.68 L547.71,25.14 L548.6,25.66 L549.46,26.21 L550.3,26.79 L551.12,27.4 L551.91,28.03 L552.68,28.68 L553.43,29.36 L554.16,30.06 L554.86,30.78 L555.55,31.52 L556.22,32.28 L556.87,33.05 L557.52,33.82 L558.16,34.61 L558.81,35.39 L559.45,36.16 L560.1,36.94 L560.75,37.71 L561.4,38.49 L562.05,39.26 L562.69,40.04 L563.33,40.82 L563.97,41.6 L564.61,42.39 L565.24,43.18 L565.87,43.97 L566.5,44.76 L567.13,45.55 L567.74,46.35 L568.36,47.16 L568.96,47.96 L569.56,48.78 L570.15,49.6 L570.72,50.43 L571.29,51.27 L571.83,52.12 L572.37,52.98 L572.89,53.85 L573.39,54.72 L573.89,55.6 L574.37,56.49 L574.84,57.39 L575.29,58.29 L575.73,59.2 L576.15,60.12 L576.56,61.05 L576.95,61.98 L577.32,62.92 L577.68,63.86 L578.03,64.81 L578.37,65.76 L578.69,66.72 L579,67.68 L579.3,68.65 L579.58,69.62 L579.84,70.6 L580.08,71.58 L580.28,72.57 L580.46,73.56 L580.62,74.56 L580.76,75.57 L580.88,76.57 L580.98,77.58 L581.05,78.59 L581.09,79.6 L581.09,80.6 L581.05,81.61 L580.98,82.62 L580.88,83.63 L580.76,84.63 L580.62,85.64 L580.46,86.64 L580.28,87.63 L580.08,88.62 L579.84,89.6 L579.58,90.58 L579.3,91.55 L579,92.52 L578.69,93.48 L578.37,94.44 L578.03,95.39 L577.68,96.34 L577.32,97.28 L576.95,98.22 L576.56,99.15 L576.15,100.08 L575.73,101 L575.29,101.91 L574.84,102.81 L574.37,103.71 L573.89,104.6 L573.39,105.48 L572.89,106.35 L572.37,107.22 L571.83,108.08 L571.29,108.93 L570.72,109.77 L570.15,110.6 L569.56,111.42 L568.96,112.24 L568.36,113.04 L567.74,113.85 L567.13,114.65 L566.5,115.44 L565.87,116.23 L565.24,117.02 L564.61,117.81 L563.97,118.6 L563.33,119.38 L562.69,120.16 L562.05,120.94 L561.4,121.71 L560.75,122.49 L560.1,123.26 L559.45,124.04 L558.81,124.81 L558.16,125.59 L557.52,126.38 L556.87,127.15 L556.22,127.92 L555.55,128.68 L554.86,129.42 L554.16,130.14 L553.43,130.84 L552.68,131.52 L551.91,132.17 L551.12,132.8 L550.3,133.41 L549.46,133.99 L548.6,134.54 L547.71,135.06 L546.8,135.52 L545.86,135.91 L544.88,136.2 L543.87,136.37 L542.83,136.4 L541.79,136.22 L540.99,135.67 L540.52,134.75 L540.29,133.77 L540.26,132.8 L540.39,131.83 L540.66,130.87 L541.05,129.92 L541.52,128.97 L542.06,128.02 L542.63,127.08 L543.21,126.14 L543.77,125.21 L544.3,124.27 L544.78,123.34 L545.22,122.41 L545.63,121.47 L546.01,120.54 L546.36,119.61 L546.7,118.67 L547.02,117.73 L547.33,116.79 L547.64,115.85 L547.94,114.9 L548.26,113.95 L548.57,112.99 L548.88,112.03 L549.18,111.07 L549.49,110.1 L549.78,109.13 L550.06,108.15 L550.34,107.18 L550.6,106.19 L550.84,105.21 L551.07,104.22 L551.27,103.23 L551.47,102.24 L551.64,101.24 L551.8,100.24 L551.95,99.24 L552.08,98.24 L552.19,97.24 L552.29,96.23 L552.37,95.23 L552.44,94.22 L552.51,93.21 L552.56,92.2 L552.62,91.19 L552.67,90.18 L552.73,89.17 L552.79,88.17 L552.86,87.16 L552.95,86.15 L553.04,85.14 L553.14,84.13 L553.24,83.12 L553.32,82.11 L553.38,81.11 L553.4,80.1Z" fill="none" stroke="#000" stroke-width="1.15" stroke-linejoin="round" />
<path d="M555.8,80.1 L555.78,79.26 L555.74,78.43 L555.68,77.59 L555.61,76.75 L555.54,75.92 L555.47,75.08 L555.41,74.24 L555.36,73.41 L555.31,72.57 L555.27,71.73 L555.23,70.89 L555.19,70.06 L555.15,69.22 L555.1,68.38 L555.05,67.55 L554.98,66.71 L554.91,65.88 L554.82,65.04 L554.72,64.21 L554.61,63.38 L554.49,62.55 L554.36,61.72 L554.22,60.89 L554.06,60.07 L553.89,59.25 L553.71,58.43 L553.52,57.61 L553.32,56.8 L553.11,55.98 L552.9,55.17 L552.67,54.37 L552.44,53.56 L552.21,52.75 L551.97,51.95 L551.73,51.15 L551.49,50.35 L551.24,49.55 L550.99,48.75 L550.73,47.96 L550.46,47.17 L550.18,46.38 L549.89,45.59 L549.58,44.81 L549.25,44.03 L548.91,43.26 L548.54,42.48 L548.18,41.71 L547.81,40.94 L547.47,40.16 L547.16,39.37 L546.89,38.57 L546.68,37.76 L546.54,36.94 L546.48,36.09 L546.52,35.23 L546.69,34.38 L547.1,33.67 L547.79,33.19 L548.62,32.96 L549.45,32.93 L550.27,33.08 L551.07,33.37 L551.86,33.76 L552.62,34.23 L553.36,34.72 L554.08,35.22 L554.77,35.73 L555.44,36.25 L556.09,36.77 L556.71,37.31 L557.32,37.87 L557.91,38.44 L558.48,39.04 L559.04,39.65 L559.59,40.29 L560.13,40.93 L560.66,41.59 L561.19,42.24 L561.72,42.89 L562.25,43.54 L562.79,44.19 L563.32,44.83 L563.86,45.47 L564.39,46.12 L564.92,46.77 L565.45,47.42 L565.98,48.07 L566.5,48.73 L567.02,49.38 L567.54,50.04 L568.06,50.7 L568.57,51.37 L569.08,52.03 L569.58,52.7 L570.08,53.38 L570.57,54.06 L571.05,54.74 L571.52,55.44 L571.98,56.14 L572.43,56.85 L572.87,57.56 L573.29,58.28 L573.71,59.01 L574.11,59.75 L574.5,60.49 L574.89,61.24 L575.26,61.99 L575.61,62.75 L575.96,63.51 L576.29,64.28 L576.61,65.05 L576.92,65.84 L577.21,66.62 L577.5,67.41 L577.77,68.2 L578.03,69 L578.29,69.8 L578.53,70.6 L578.76,71.41 L578.97,72.22 L579.17,73.03 L579.34,73.85 L579.48,74.68 L579.61,75.51 L579.72,76.34 L579.82,77.17 L579.9,78.01 L579.96,78.84 L580,79.68 L580,80.52 L579.96,81.36 L579.9,82.19 L579.82,83.03 L579.72,83.86 L579.61,84.69 L579.48,85.52 L579.34,86.35 L579.17,87.17 L578.97,87.98 L578.76,88.79 L578.53,89.6 L578.29,90.4 L578.03,91.2 L577.77,92 L577.5,92.79 L577.21,93.58 L576.92,94.36 L576.61,95.15 L576.29,95.92 L575.96,96.69 L575.61,97.45 L575.26,98.21 L574.89,98.96 L574.5,99.71 L574.11,100.45 L573.71,101.19 L573.29,101.92 L572.87,102.64 L572.43,103.35 L571.98,104.06 L571.52,104.76 L571.05,105.46 L570.57,106.14 L570.08,106.82 L569.58,107.5 L569.08,108.17 L568.57,108.83 L568.06,109.5 L567.54,110.16 L567.02,110.82 L566.5,111.47 L565.98,112.13 L565.45,112.78 L564.92,113.43 L564.39,114.08 L563.86,114.73 L563.32,115.37 L562.79,116.01 L562.25,116.66 L561.72,117.31 L561.19,117.96 L560.66,118.61 L560.13,119.27 L559.59,119.91 L559.04,120.55 L558.48,121.16 L557.91,121.76 L557.32,122.33 L556.71,122.89 L556.09,123.43 L555.44,123.95 L554.77,124.47 L554.08,124.98 L553.36,125.48 L552.62,125.97 L551.86,126.44 L551.07,126.83 L550.27,127.12 L549.45,127.27 L548.62,127.24 L547.79,127.01 L547.1,126.53 L546.69,125.82 L546.52,124.97 L546.48,124.11 L546.54,123.26 L546.68,122.44 L546.89,121.63 L547.16,120.83 L547.47,120.04 L547.81,119.26 L548.18,118.49 L548.54,117.72 L548.91,116.94 L549.25,116.17 L549.58,115.39 L549.89,114.61 L550.18,113.82 L550.46,113.03 L550.73,112.24 L550.99,111.45 L551.24,110.65 L551.49,109.85 L551.73,109.05 L551.97,108.25 L552.21,107.45 L552.44,106.64 L552.67,105.83 L552.9,105.03 L553.11,104.22 L553.32,103.4 L553.52,102.59 L553.71,101.77 L553.89,100.95 L554.06,100.13 L554.22,99.31 L554.36,98.48 L554.49,97.65 L554.61,96.82 L554.72,95.99 L554.82,95.16 L554.91,94.32 L554.98,93.49 L555.05,92.65 L555.1,91.82 L555.15,90.98 L555.19,90.14 L555.23,89.31 L555.27,88.47 L555.31,87.63 L555.36,86.79 L555.41,85.96 L555.47,85.12 L555.54,84.28 L555.61,83.45 L555.68,82.61 L555.74,81.77 L555.78,80.94 L555.8,80.1Z" fill="none" stroke="#000" stroke-width="1.15" stroke-linejoin="round" />
<path d="M558.5,80.1 L558.48,79.26 L558.43,78.43 L558.35,77.59 L558.26,76.76 L558.16,75.92 L558.07,75.08 L558,74.25 L557.93,73.41 L557.87,72.57 L557.82,71.73 L557.77,70.9 L557.72,70.06 L557.66,69.22 L557.6,68.39 L557.53,67.55 L557.45,66.72 L557.35,65.88 L557.24,65.05 L557.11,64.22 L556.97,63.39 L556.82,62.57 L556.65,61.75 L556.46,60.93 L556.26,60.11 L556.05,59.3 L555.82,58.49 L555.58,57.68 L555.33,56.88 L555.07,56.08 L554.79,55.29 L554.51,54.49 L554.22,53.71 L553.93,52.92 L553.63,52.14 L553.33,51.36 L553.03,50.58 L552.72,49.81 L552.41,49.03 L552.09,48.27 L551.75,47.5 L551.41,46.74 L551.05,45.98 L550.68,45.22 L550.29,44.47 L549.87,43.72 L549.44,42.98 L548.99,42.24 L548.54,41.49 L548.1,40.74 L547.68,39.99 L547.31,39.22 L546.99,38.45 L546.73,37.65 L546.56,36.84 L546.49,36 L546.52,35.13 L546.72,34.29 L547.16,33.6 L547.88,33.16 L548.71,32.95 L549.54,32.96 L550.35,33.14 L551.15,33.46 L551.93,33.88 L552.69,34.37 L553.41,34.88 L554.12,35.39 L554.79,35.92 L555.44,36.45 L556.07,36.99 L556.68,37.55 L557.27,38.13 L557.84,38.72 L558.4,39.34 L558.94,39.97 L559.47,40.62 L559.99,41.28 L560.51,41.94 L561.03,42.61 L561.56,43.27 L562.08,43.92 L562.6,44.58 L563.13,45.23 L563.65,45.89 L564.17,46.54 L564.69,47.2 L565.2,47.87 L565.72,48.53 L566.23,49.19 L566.74,49.86 L567.24,50.53 L567.75,51.2 L568.24,51.88 L568.74,52.56 L569.23,53.24 L569.71,53.93 L570.18,54.62 L570.64,55.32 L571.09,56.03 L571.53,56.74 L571.96,57.47 L572.37,58.19 L572.78,58.93 L573.17,59.67 L573.56,60.42 L573.93,61.17 L574.29,61.93 L574.64,62.69 L574.98,63.46 L575.3,64.23 L575.61,65.01 L575.91,65.8 L576.2,66.59 L576.47,67.38 L576.74,68.17 L576.99,68.97 L577.24,69.78 L577.48,70.58 L577.7,71.39 L577.91,72.2 L578.09,73.02 L578.26,73.84 L578.4,74.67 L578.52,75.5 L578.63,76.33 L578.72,77.17 L578.8,78.01 L578.86,78.84 L578.9,79.68 L578.9,80.52 L578.86,81.36 L578.8,82.19 L578.72,83.03 L578.63,83.87 L578.52,84.7 L578.4,85.53 L578.26,86.36 L578.09,87.18 L577.91,88 L577.7,88.81 L577.48,89.62 L577.24,90.42 L576.99,91.23 L576.74,92.03 L576.47,92.82 L576.2,93.61 L575.91,94.4 L575.61,95.19 L575.3,95.97 L574.98,96.74 L574.64,97.51 L574.29,98.27 L573.93,99.03 L573.56,99.78 L573.17,100.53 L572.78,101.27 L572.37,102.01 L571.96,102.73 L571.53,103.46 L571.09,104.17 L570.64,104.88 L570.18,105.58 L569.71,106.27 L569.23,106.96 L568.74,107.64 L568.24,108.32 L567.75,109 L567.24,109.67 L566.74,110.34 L566.23,111.01 L565.72,111.67 L565.2,112.33 L564.69,113 L564.17,113.66 L563.65,114.31 L563.13,114.97 L562.6,115.62 L562.08,116.28 L561.56,116.93 L561.03,117.59 L560.51,118.26 L559.99,118.92 L559.47,119.58 L558.94,120.23 L558.4,120.86 L557.84,121.48 L557.27,122.07 L556.68,122.65 L556.07,123.21 L555.44,123.75 L554.79,124.28 L554.12,124.81 L553.41,125.32 L552.69,125.83 L551.93,126.32 L551.15,126.74 L550.35,127.06 L549.54,127.24 L548.71,127.25 L547.88,127.04 L547.16,126.6 L546.72,125.91 L546.52,125.07 L546.49,124.2 L546.56,123.36 L546.73,122.55 L546.99,121.75 L547.31,120.98 L547.68,120.21 L548.1,119.46 L548.54,118.71 L548.99,117.96 L549.44,117.22 L549.87,116.48 L550.29,115.73 L550.68,114.98 L551.05,114.22 L551.41,113.46 L551.75,112.7 L552.09,111.93 L552.41,111.17 L552.72,110.39 L553.03,109.62 L553.33,108.84 L553.63,108.06 L553.93,107.28 L554.22,106.49 L554.51,105.71 L554.79,104.91 L555.07,104.12 L555.33,103.32 L555.58,102.52 L555.82,101.71 L556.05,100.9 L556.26,100.09 L556.46,99.27 L556.65,98.45 L556.82,97.63 L556.97,96.81 L557.11,95.98 L557.24,95.15 L557.35,94.32 L557.45,93.48 L557.53,92.65 L557.6,91.81 L557.66,90.98 L557.72,90.14 L557.77,89.3 L557.82,88.47 L557.87,87.63 L557.93,86.79 L558,85.95 L558.07,85.12 L558.16,84.28 L558.26,83.44 L558.35,82.61 L558.43,81.77 L558.48,80.94 L558.5,80.1Z" fill="none" stroke="#000" stroke-width="1.15" stroke-linejoin="round" />
<path d="M560.8,80.1 L560.79,79.51 L560.76,78.92 L560.72,78.33 L560.68,77.74 L560.63,77.15 L560.59,76.56 L560.55,75.98 L560.52,75.39 L560.49,74.8 L560.46,74.21 L560.44,73.62 L560.41,73.03 L560.38,72.44 L560.35,71.85 L560.32,71.26 L560.28,70.67 L560.23,70.08 L560.18,69.49 L560.12,68.91 L560.05,68.32 L559.97,67.73 L559.89,67.15 L559.8,66.57 L559.7,65.98 L559.59,65.4 L559.48,64.82 L559.36,64.24 L559.23,63.67 L559.1,63.09 L558.96,62.52 L558.82,61.94 L558.68,61.37 L558.53,60.8 L558.37,60.23 L558.22,59.66 L558.06,59.09 L557.9,58.53 L557.74,57.96 L557.57,57.4 L557.4,56.83 L557.22,56.27 L557.04,55.71 L556.84,55.15 L556.63,54.6 L556.42,54.04 L556.19,53.49 L555.95,52.94 L555.72,52.39 L555.5,51.83 L555.29,51.27 L555.11,50.71 L554.96,50.14 L554.86,49.56 L554.8,48.97 L554.8,48.37 L554.86,47.76 L555.04,47.19 L555.38,46.71 L555.87,46.37 L556.45,46.19 L557.02,46.18 L557.58,46.31 L558.12,46.55 L558.65,46.88 L559.16,47.27 L559.65,47.7 L560.12,48.12 L560.57,48.55 L560.99,48.96 L561.4,49.38 L561.8,49.8 L562.19,50.22 L562.56,50.66 L562.93,51.1 L563.29,51.56 L563.65,52.03 L564,52.5 L564.34,52.99 L564.69,53.47 L565.03,53.96 L565.37,54.45 L565.71,54.94 L566.05,55.42 L566.4,55.91 L566.74,56.39 L567.09,56.87 L567.43,57.35 L567.78,57.83 L568.12,58.31 L568.46,58.79 L568.81,59.27 L569.15,59.74 L569.49,60.23 L569.83,60.71 L570.16,61.19 L570.49,61.68 L570.82,62.17 L571.15,62.66 L571.47,63.15 L571.79,63.65 L572.1,64.16 L572.41,64.66 L572.71,65.17 L573,65.69 L573.29,66.2 L573.57,66.73 L573.84,67.25 L574.1,67.78 L574.35,68.32 L574.59,68.86 L574.81,69.41 L575.03,69.96 L575.23,70.51 L575.42,71.07 L575.6,71.64 L575.77,72.2 L575.92,72.78 L576.06,73.35 L576.19,73.93 L576.3,74.51 L576.4,75.1 L576.49,75.68 L576.57,76.27 L576.64,76.86 L576.69,77.45 L576.74,78.04 L576.77,78.63 L576.79,79.21 L576.8,79.8 L576.8,80.4 L576.79,80.99 L576.77,81.57 L576.74,82.16 L576.69,82.75 L576.64,83.34 L576.57,83.93 L576.49,84.52 L576.4,85.1 L576.3,85.69 L576.19,86.27 L576.06,86.85 L575.92,87.42 L575.77,88 L575.6,88.56 L575.42,89.13 L575.23,89.69 L575.03,90.24 L574.81,90.79 L574.59,91.34 L574.35,91.88 L574.1,92.42 L573.84,92.95 L573.57,93.47 L573.29,94 L573,94.51 L572.71,95.03 L572.41,95.54 L572.1,96.04 L571.79,96.55 L571.47,97.05 L571.15,97.54 L570.82,98.03 L570.49,98.52 L570.16,99.01 L569.83,99.49 L569.49,99.97 L569.15,100.46 L568.81,100.93 L568.46,101.41 L568.12,101.89 L567.78,102.37 L567.43,102.85 L567.09,103.33 L566.74,103.81 L566.4,104.29 L566.05,104.78 L565.71,105.26 L565.37,105.75 L565.03,106.24 L564.69,106.73 L564.34,107.21 L564,107.7 L563.65,108.17 L563.29,108.64 L562.93,109.1 L562.56,109.54 L562.19,109.98 L561.8,110.4 L561.4,110.82 L560.99,111.24 L560.57,111.65 L560.12,112.08 L559.65,112.5 L559.16,112.93 L558.65,113.32 L558.12,113.65 L557.58,113.89 L557.02,114.02 L556.45,114.01 L555.87,113.83 L555.38,113.49 L555.04,113.01 L554.86,112.44 L554.8,111.83 L554.8,111.23 L554.86,110.64 L554.96,110.06 L555.11,109.49 L555.29,108.93 L555.5,108.37 L555.72,107.81 L555.95,107.26 L556.19,106.71 L556.42,106.16 L556.63,105.6 L556.84,105.05 L557.04,104.49 L557.22,103.93 L557.4,103.37 L557.57,102.8 L557.74,102.24 L557.9,101.67 L558.06,101.11 L558.22,100.54 L558.37,99.97 L558.53,99.4 L558.68,98.83 L558.82,98.26 L558.96,97.68 L559.1,97.11 L559.23,96.53 L559.36,95.96 L559.48,95.38 L559.59,94.8 L559.7,94.22 L559.8,93.63 L559.89,93.05 L559.97,92.47 L560.05,91.88 L560.12,91.29 L560.18,90.71 L560.23,90.12 L560.28,89.53 L560.32,88.94 L560.35,88.35 L560.38,87.76 L560.41,87.17 L560.44,86.58 L560.46,85.99 L560.49,85.4 L560.52,84.81 L560.55,84.22 L560.59,83.64 L560.63,83.05 L560.68,82.46 L560.72,81.87 L560.76,81.28 L560.79,80.69 L560.8,80.1Z" fill="none" stroke="#000" stroke-width="1.15" stroke-linejoin="round" />
<path d="M549.7,80.1 L549.66,78.84 L549.57,77.57 L549.43,76.3 L549.26,75.04 L549.1,73.77 L548.94,72.5 L548.81,71.24 L548.7,69.97 L548.6,68.7 L548.51,67.43 L548.42,66.16 L548.33,64.89 L548.23,63.63 L548.11,62.36 L547.98,61.1 L547.83,59.84 L547.65,58.58 L547.44,57.32 L547.21,56.07 L546.95,54.82 L546.66,53.58 L546.35,52.35 L546.02,51.12 L545.65,49.89 L545.27,48.68 L544.85,47.47 L544.42,46.27 L543.97,45.07 L543.5,43.89 L543.01,42.71 L542.52,41.53 L542.02,40.37 L541.51,39.2 L541,38.05 L540.49,36.9 L539.97,35.76 L539.45,34.62 L538.92,33.48 L538.37,32.36 L537.79,31.23 L537.19,30.12 L536.56,29 L535.89,27.9 L535.18,26.79 L534.43,25.7 L533.63,24.6 L532.81,23.51 L532,22.41 L531.23,21.3 L530.53,20.17 L529.93,19.03 L529.46,17.86 L529.14,16.66 L529.01,15.42 L529.09,14.15 L529.44,12.88 L530.18,11.88 L531.34,11.35 L532.65,11.15 L533.93,11.18 L535.19,11.41 L536.41,11.79 L537.61,12.3 L538.78,12.9 L539.92,13.55 L541.03,14.23 L542.12,14.93 L543.18,15.65 L544.21,16.39 L545.22,17.16 L546.21,17.95 L547.16,18.77 L548.1,19.62 L549.01,20.5 L549.9,21.4 L550.77,22.33 L551.63,23.27 L552.49,24.21 L553.34,25.16 L554.2,26.1 L555.06,27.03 L555.93,27.97 L556.79,28.9 L557.65,29.84 L558.51,30.77 L559.36,31.72 L560.22,32.66 L561.06,33.61 L561.91,34.56 L562.75,35.51 L563.59,36.47 L564.42,37.43 L565.25,38.4 L566.07,39.37 L566.89,40.35 L567.69,41.33 L568.48,42.33 L569.26,43.33 L570.03,44.35 L570.77,45.38 L571.5,46.42 L572.21,47.48 L572.9,48.55 L573.57,49.63 L574.23,50.72 L574.87,51.81 L575.5,52.92 L576.1,54.04 L576.69,55.17 L577.25,56.31 L577.79,57.46 L578.31,58.63 L578.81,59.79 L579.3,60.97 L579.76,62.16 L580.21,63.35 L580.64,64.54 L581.05,65.75 L581.45,66.96 L581.82,68.18 L582.15,69.4 L582.45,70.64 L582.7,71.88 L582.92,73.14 L583.12,74.4 L583.29,75.66 L583.43,76.93 L583.53,78.19 L583.59,79.46 L583.59,80.74 L583.53,82.01 L583.43,83.27 L583.29,84.54 L583.12,85.8 L582.92,87.06 L582.7,88.32 L582.45,89.56 L582.15,90.8 L581.82,92.02 L581.45,93.24 L581.05,94.45 L580.64,95.66 L580.21,96.85 L579.76,98.04 L579.3,99.23 L578.81,100.41 L578.31,101.57 L577.79,102.74 L577.25,103.89 L576.69,105.03 L576.1,106.16 L575.5,107.28 L574.87,108.39 L574.23,109.48 L573.57,110.57 L572.9,111.65 L572.21,112.72 L571.5,113.78 L570.77,114.82 L570.03,115.85 L569.26,116.87 L568.48,117.87 L567.69,118.87 L566.89,119.85 L566.07,120.83 L565.25,121.8 L564.42,122.77 L563.59,123.73 L562.75,124.69 L561.91,125.64 L561.06,126.59 L560.22,127.54 L559.36,128.48 L558.51,129.43 L557.65,130.36 L556.79,131.3 L555.93,132.23 L555.06,133.17 L554.2,134.1 L553.34,135.04 L552.49,135.99 L551.63,136.93 L550.77,137.87 L549.9,138.8 L549.01,139.7 L548.1,140.58 L547.16,141.43 L546.21,142.25 L545.22,143.04 L544.21,143.81 L543.18,144.55 L542.12,145.27 L541.03,145.97 L539.92,146.65 L538.78,147.3 L537.61,147.9 L536.41,148.41 L535.19,148.79 L533.93,149.02 L532.65,149.05 L531.34,148.85 L530.18,148.32 L529.44,147.32 L529.09,146.05 L529.01,144.78 L529.14,143.54 L529.46,142.34 L529.93,141.17 L530.53,140.03 L531.23,138.9 L532,137.79 L532.81,136.69 L533.63,135.6 L534.43,134.5 L535.18,133.41 L535.89,132.3 L536.56,131.2 L537.19,130.08 L537.79,128.97 L538.37,127.84 L538.92,126.72 L539.45,125.58 L539.97,124.44 L540.49,123.3 L541,122.15 L541.51,121 L542.02,119.83 L542.52,118.67 L543.01,117.49 L543.5,116.31 L543.97,115.13 L544.42,113.93 L544.85,112.73 L545.27,111.52 L545.65,110.31 L546.02,109.08 L546.35,107.85 L546.66,106.62 L546.95,105.38 L547.21,104.13 L547.44,102.88 L547.65,101.62 L547.83,100.36 L547.98,99.1 L548.11,97.84 L548.23,96.57 L548.33,95.31 L548.42,94.04 L548.51,92.77 L548.6,91.5 L548.7,90.23 L548.81,88.96 L548.94,87.7 L549.1,86.43 L549.26,85.16 L549.43,83.9 L549.57,82.63 L549.66,81.36 L549.7,80.1Z" fill="none" stroke="#f00" stroke-width="1.5" stroke-linejoin="round" />
<ellipse cx="568.3" cy="79.9" rx="2.6" ry="8.5" fill="none" stroke="#000" stroke-width="1.1"/>
<line x1="565.7" y1="79.9" x2="570.9" y2="79.9" stroke="#000" stroke-width="0.8"/>
<circle cx="568.3" cy="79.9" r="1" fill="#000"/>
<text x="125.7" y="193.6" font-family='"Liberation Sans", sans-serif' font-size="16.8" font-weight="normal" font-style="normal" text-anchor="middle" fill="#1a1a1a" stroke="#1a1a1a" stroke-width="0.2">R [m]</text>
<text transform="translate(14.2,80.5) rotate(-90)" x="0" y="0" font-family='"Liberation Sans", sans-serif' font-size="16.8" text-anchor="middle" fill="#1a1a1a" stroke="#1a1a1a" stroke-width="0.2">Z [m]</text>
<rect x="44.5" y="241.4" width="156.9" height="152.4" fill="#fff" stroke="#8c8c8c" stroke-width="1"/>
<line x1="44.5" y1="241.4" x2="46" y2="241.4" stroke="#8c8c8c" stroke-width="1"/>
<line x1="201.4" y1="241.4" x2="199.9" y2="241.4" stroke="#8c8c8c" stroke-width="1"/>
<line x1="44.5" y1="266.8" x2="46" y2="266.8" stroke="#8c8c8c" stroke-width="1"/>
<line x1="201.4" y1="266.8" x2="199.9" y2="266.8" stroke="#8c8c8c" stroke-width="1"/>
<line x1="44.5" y1="292.2" x2="46" y2="292.2" stroke="#8c8c8c" stroke-width="1"/>
<line x1="201.4" y1="292.2" x2="199.9" y2="292.2" stroke="#8c8c8c" stroke-width="1"/>
<line x1="44.5" y1="317.6" x2="46" y2="317.6" stroke="#8c8c8c" stroke-width="1"/>
<line x1="201.4" y1="317.6" x2="199.9" y2="317.6" stroke="#8c8c8c" stroke-width="1"/>
<line x1="44.5" y1="343" x2="46" y2="343" stroke="#8c8c8c" stroke-width="1"/>
<line x1="201.4" y1="343" x2="199.9" y2="343" stroke="#8c8c8c" stroke-width="1"/>
<line x1="44.5" y1="368.4" x2="46" y2="368.4" stroke="#8c8c8c" stroke-width="1"/>
<line x1="201.4" y1="368.4" x2="199.9" y2="368.4" stroke="#8c8c8c" stroke-width="1"/>
<line x1="44.5" y1="393.8" x2="46" y2="393.8" stroke="#8c8c8c" stroke-width="1"/>
<line x1="201.4" y1="393.8" x2="199.9" y2="393.8" stroke="#8c8c8c" stroke-width="1"/>
<line x1="44.5" y1="393.8" x2="44.5" y2="392.3" stroke="#8c8c8c" stroke-width="1"/>
<line x1="44.5" y1="241.4" x2="44.5" y2="242.9" stroke="#8c8c8c" stroke-width="1"/>
<line x1="122.95" y1="393.8" x2="122.95" y2="392.3" stroke="#8c8c8c" stroke-width="1"/>
<line x1="122.95" y1="241.4" x2="122.95" y2="242.9" stroke="#8c8c8c" stroke-width="1"/>
<line x1="201.4" y1="393.8" x2="201.4" y2="392.3" stroke="#8c8c8c" stroke-width="1"/>
<line x1="201.4" y1="241.4" x2="201.4" y2="242.9" stroke="#8c8c8c" stroke-width="1"/>
<path d="M44.5,292.2 L46.49,292.62 L48.47,293.05 L50.46,293.47 L52.44,293.89 L54.43,294.31 L56.42,294.73 L58.4,295.15 L60.39,295.56 L62.37,295.97 L64.36,296.38 L66.35,296.78 L68.33,297.18 L70.32,297.58 L72.31,297.97 L74.29,298.35 L76.28,298.73 L78.26,299.11 L80.25,299.48 L82.24,299.85 L84.22,300.21 L86.21,300.58 L88.19,300.95 L90.18,301.31 L92.17,301.68 L94.15,302.05 L96.14,302.43 L98.12,302.8 L100.11,303.19 L102.1,303.58 L104.08,303.97 L106.07,304.38 L108.05,304.79 L110.04,305.21 L112.03,305.65 L114.01,306.09 L116,306.55 L117.98,307.02 L119.97,307.5 L121.96,308 L123.94,308.52 L125.93,309.05 L127.92,309.59 L129.9,310.16 L131.89,310.75 L133.87,311.35 L135.86,311.98 L137.85,312.63 L139.83,313.3 L141.82,314 L143.8,314.72 L145.79,315.47 L147.78,316.23 L149.76,317.03 L151.75,317.84 L153.73,318.68 L155.72,319.54 L157.71,320.42 L159.69,321.31 L161.68,322.23 L163.66,323.16 L165.65,324.11 L167.64,325.07 L169.62,326.05 L171.61,327.04 L173.59,328.05 L175.58,329.06 L177.57,330.09 L179.55,331.13 L181.54,332.18 L183.53,333.24 L185.51,334.3 L187.5,335.38 L189.48,336.45 L191.47,337.54 L193.46,338.62 L195.44,339.72 L197.43,340.81 L199.41,341.9 L201.4,343" fill="none" stroke="#D95319" stroke-width="2.0" stroke-dasharray="2 1.4" stroke-linejoin="round" />
<path d="M44.5,292.2 L46.49,292.52 L48.47,292.83 L50.46,293.14 L52.44,293.45 L54.43,293.74 L56.42,294.03 L58.4,294.3 L60.39,294.56 L62.37,294.8 L64.36,295.02 L66.35,295.22 L68.33,295.4 L70.32,295.55 L72.31,295.67 L74.29,295.77 L76.28,295.83 L78.26,295.87 L80.25,295.87 L82.24,295.84 L84.22,295.78 L86.21,295.7 L88.19,295.59 L90.18,295.45 L92.17,295.28 L94.15,295.09 L96.14,294.87 L98.12,294.62 L100.11,294.35 L102.1,294.06 L104.08,293.74 L106.07,293.4 L108.05,293.03 L110.04,292.65 L112.03,292.24 L114.01,291.81 L116,291.36 L117.98,290.89 L119.97,290.4 L121.96,289.89 L123.94,289.36 L125.93,288.82 L127.92,288.25 L129.9,287.67 L131.89,287.08 L133.87,286.47 L135.86,285.84 L137.85,285.2 L139.83,284.54 L141.82,283.87 L143.8,283.19 L145.79,282.49 L147.78,281.79 L149.76,281.07 L151.75,280.34 L153.73,279.6 L155.72,278.84 L157.71,278.08 L159.69,277.31 L161.68,276.53 L163.66,275.74 L165.65,274.95 L167.64,274.14 L169.62,273.33 L171.61,272.51 L173.59,271.69 L175.58,270.85 L177.57,270.02 L179.55,269.17 L181.54,268.33 L183.53,267.48 L185.51,266.62 L187.5,265.76 L189.48,264.9 L191.47,264.03 L193.46,263.17 L195.44,262.3 L197.43,261.43 L199.41,260.56 L201.4,259.69" fill="none" stroke="#7E2F8E" stroke-width="2.0" stroke-dasharray="2 1.4" stroke-linejoin="round" />
<path d="M44.5,292.2 L46.49,292.3 L48.47,292.4 L50.46,292.49 L52.44,292.59 L54.43,292.69 L56.42,292.79 L58.4,292.89 L60.39,292.99 L62.37,293.1 L64.36,293.2 L66.35,293.31 L68.33,293.41 L70.32,293.52 L72.31,293.63 L74.29,293.74 L76.28,293.85 L78.26,293.97 L80.25,294.09 L82.24,294.21 L84.22,294.33 L86.21,294.46 L88.19,294.6 L90.18,294.73 L92.17,294.88 L94.15,295.03 L96.14,295.18 L98.12,295.34 L100.11,295.51 L102.1,295.68 L104.08,295.86 L106.07,296.05 L108.05,296.25 L110.04,296.46 L112.03,296.68 L114.01,296.9 L116,297.14 L117.98,297.38 L119.97,297.64 L121.96,297.91 L123.94,298.19 L125.93,298.48 L127.92,298.78 L129.9,299.1 L131.89,299.42 L133.87,299.77 L135.86,300.12 L137.85,300.49 L139.83,300.88 L141.82,301.28 L143.8,301.69 L145.79,302.13 L147.78,302.57 L149.76,303.03 L151.75,303.51 L153.73,304 L155.72,304.5 L157.71,305.01 L159.69,305.54 L161.68,306.07 L163.66,306.62 L165.65,307.18 L167.64,307.75 L169.62,308.33 L171.61,308.91 L173.59,309.5 L175.58,310.11 L177.57,310.71 L179.55,311.33 L181.54,311.95 L183.53,312.57 L185.51,313.21 L187.5,313.84 L189.48,314.48 L191.47,315.12 L193.46,315.77 L195.44,316.41 L197.43,317.06 L199.41,317.71 L201.4,318.36" fill="none" stroke="#77AC30" stroke-width="2.0" stroke-dasharray="2 1.4" stroke-linejoin="round" />
<path d="M44.5,292.2 L46.49,291.85 L48.47,291.5 L50.46,291.15 L52.44,290.79 L54.43,290.44 L56.42,290.09 L58.4,289.74 L60.39,289.39 L62.37,289.04 L64.36,288.69 L66.35,288.34 L68.33,287.99 L70.32,287.64 L72.31,287.29 L74.29,286.94 L76.28,286.59 L78.26,286.24 L80.25,285.9 L82.24,285.55 L84.22,285.2 L86.21,284.86 L88.19,284.51 L90.18,284.17 L92.17,283.82 L94.15,283.48 L96.14,283.14 L98.12,282.79 L100.11,282.45 L102.1,282.11 L104.08,281.78 L106.07,281.44 L108.05,281.1 L110.04,280.77 L112.03,280.43 L114.01,280.1 L116,279.77 L117.98,279.44 L119.97,279.12 L121.96,278.79 L123.94,278.46 L125.93,278.14 L127.92,277.82 L129.9,277.5 L131.89,277.18 L133.87,276.87 L135.86,276.56 L137.85,276.24 L139.83,275.93 L141.82,275.63 L143.8,275.32 L145.79,275.02 L147.78,274.72 L149.76,274.42 L151.75,274.12 L153.73,273.83 L155.72,273.53 L157.71,273.24 L159.69,272.95 L161.68,272.66 L163.66,272.38 L165.65,272.09 L167.64,271.81 L169.62,271.52 L171.61,271.24 L173.59,270.96 L175.58,270.68 L177.57,270.4 L179.55,270.12 L181.54,269.85 L183.53,269.57 L185.51,269.29 L187.5,269.02 L189.48,268.75 L191.47,268.47 L193.46,268.2 L195.44,267.92 L197.43,267.65 L199.41,267.38 L201.4,267.1" fill="none" stroke="#4DBEEE" stroke-width="2.0" stroke-dasharray="2 1.4" stroke-linejoin="round" />
<path d="M44.5,297.79 L46.49,297.89 L48.47,298 L50.46,298.1 L52.44,298.21 L54.43,298.31 L56.42,298.41 L58.4,298.5 L60.39,298.59 L62.37,298.68 L64.36,298.76 L66.35,298.83 L68.33,298.9 L70.32,298.96 L72.31,299.02 L74.29,299.06 L76.28,299.1 L78.26,299.13 L80.25,299.16 L82.24,299.17 L84.22,299.19 L86.21,299.2 L88.19,299.2 L90.18,299.2 L92.17,299.2 L94.15,299.2 L96.14,299.2 L98.12,299.2 L100.11,299.2 L102.1,299.2 L104.08,299.21 L106.07,299.22 L108.05,299.23 L110.04,299.25 L112.03,299.27 L114.01,299.3 L116,299.34 L117.98,299.39 L119.97,299.45 L121.96,299.51 L123.94,299.59 L125.93,299.68 L127.92,299.78 L129.9,299.9 L131.89,300.03 L133.87,300.17 L135.86,300.33 L137.85,300.51 L139.83,300.7 L141.82,300.91 L143.8,301.14 L145.79,301.39 L147.78,301.66 L149.76,301.95 L151.75,302.25 L153.73,302.57 L155.72,302.91 L157.71,303.26 L159.69,303.63 L161.68,304.01 L163.66,304.4 L165.65,304.81 L167.64,305.23 L169.62,305.66 L171.61,306.1 L173.59,306.55 L175.58,307.01 L177.57,307.48 L179.55,307.96 L181.54,308.44 L183.53,308.93 L185.51,309.43 L187.5,309.93 L189.48,310.44 L191.47,310.95 L193.46,311.46 L195.44,311.98 L197.43,312.5 L199.41,313.02 L201.4,313.54" fill="none" stroke="#A2142F" stroke-width="2.0" stroke-dasharray="2 1.4" stroke-linejoin="round" />
<path d="M44.5,292.2 L46.49,292.16 L48.47,292.11 L50.46,292.07 L52.44,292.02 L54.43,291.98 L56.42,291.93 L58.4,291.88 L60.39,291.83 L62.37,291.78 L64.36,291.73 L66.35,291.67 L68.33,291.61 L70.32,291.55 L72.31,291.49 L74.29,291.43 L76.28,291.36 L78.26,291.29 L80.25,291.22 L82.24,291.14 L84.22,291.06 L86.21,290.97 L88.19,290.88 L90.18,290.79 L92.17,290.69 L94.15,290.59 L96.14,290.48 L98.12,290.37 L100.11,290.25 L102.1,290.13 L104.08,290 L106.07,289.86 L108.05,289.72 L110.04,289.57 L112.03,289.42 L114.01,289.26 L116,289.09 L117.98,288.92 L119.97,288.74 L121.96,288.55 L123.94,288.35 L125.93,288.15 L127.92,287.94 L129.9,287.71 L131.89,287.49 L133.87,287.25 L135.86,287 L137.85,286.75 L139.83,286.48 L141.82,286.21 L143.8,285.93 L145.79,285.63 L147.78,285.33 L149.76,285.02 L151.75,284.7 L153.73,284.37 L155.72,284.04 L157.71,283.7 L159.69,283.35 L161.68,282.99 L163.66,282.63 L165.65,282.26 L167.64,281.88 L169.62,281.5 L171.61,281.12 L173.59,280.73 L175.58,280.33 L177.57,279.93 L179.55,279.53 L181.54,279.12 L183.53,278.71 L185.51,278.3 L187.5,277.88 L189.48,277.47 L191.47,277.05 L193.46,276.62 L195.44,276.2 L197.43,275.78 L199.41,275.35 L201.4,274.93" fill="none" stroke="#0072BD" stroke-width="2.0" stroke-dasharray="2 1.4" stroke-linejoin="round" />
<path d="M44.5,292.2 L46.49,292.22 L48.47,292.24 L50.46,292.26 L52.44,292.28 L54.43,292.3 L56.42,292.31 L58.4,292.33 L60.39,292.35 L62.37,292.37 L64.36,292.38 L66.35,292.4 L68.33,292.41 L70.32,292.43 L72.31,292.44 L74.29,292.46 L76.28,292.47 L78.26,292.48 L80.25,292.49 L82.24,292.5 L84.22,292.5 L86.21,292.51 L88.19,292.51 L90.18,292.5 L92.17,292.5 L94.15,292.49 L96.14,292.48 L98.12,292.46 L100.11,292.44 L102.1,292.42 L104.08,292.39 L106.07,292.35 L108.05,292.31 L110.04,292.27 L112.03,292.22 L114.01,292.16 L116,292.1 L117.98,292.03 L119.97,291.95 L121.96,291.86 L123.94,291.77 L125.93,291.67 L127.92,291.56 L129.9,291.45 L131.89,291.32 L133.87,291.19 L135.86,291.05 L137.85,290.9 L139.83,290.73 L141.82,290.56 L143.8,290.38 L145.79,290.19 L147.78,289.98 L149.76,289.77 L151.75,289.55 L153.73,289.32 L155.72,289.08 L157.71,288.83 L159.69,288.58 L161.68,288.32 L163.66,288.05 L165.65,287.77 L167.64,287.49 L169.62,287.2 L171.61,286.9 L173.59,286.6 L175.58,286.3 L177.57,285.99 L179.55,285.68 L181.54,285.36 L183.53,285.04 L185.51,284.71 L187.5,284.38 L189.48,284.05 L191.47,283.72 L193.46,283.39 L195.44,283.05 L197.43,282.71 L199.41,282.38 L201.4,282.04" fill="none" stroke="#D95319" stroke-width="2.0" stroke-linejoin="round" />
<path d="M44.5,296.01 L46.49,296.1 L48.47,296.2 L50.46,296.29 L52.44,296.38 L54.43,296.48 L56.42,296.57 L58.4,296.66 L60.39,296.74 L62.37,296.83 L64.36,296.91 L66.35,296.99 L68.33,297.07 L70.32,297.15 L72.31,297.22 L74.29,297.29 L76.28,297.36 L78.26,297.42 L80.25,297.48 L82.24,297.53 L84.22,297.59 L86.21,297.64 L88.19,297.68 L90.18,297.73 L92.17,297.77 L94.15,297.82 L96.14,297.86 L98.12,297.9 L100.11,297.93 L102.1,297.97 L104.08,298.01 L106.07,298.04 L108.05,298.08 L110.04,298.11 L112.03,298.14 L114.01,298.18 L116,298.21 L117.98,298.25 L119.97,298.28 L121.96,298.32 L123.94,298.35 L125.93,298.39 L127.92,298.43 L129.9,298.47 L131.89,298.51 L133.87,298.56 L135.86,298.61 L137.85,298.65 L139.83,298.71 L141.82,298.76 L143.8,298.82 L145.79,298.88 L147.78,298.94 L149.76,299.01 L151.75,299.07 L153.73,299.14 L155.72,299.22 L157.71,299.29 L159.69,299.37 L161.68,299.45 L163.66,299.53 L165.65,299.62 L167.64,299.7 L169.62,299.79 L171.61,299.88 L173.59,299.97 L175.58,300.06 L177.57,300.16 L179.55,300.25 L181.54,300.35 L183.53,300.44 L185.51,300.54 L187.5,300.64 L189.48,300.74 L191.47,300.84 L193.46,300.94 L195.44,301.04 L197.43,301.14 L199.41,301.24 L201.4,301.34" fill="none" stroke="#EDB120" stroke-width="2.0" stroke-linejoin="round" />
<rect x="44.5" y="273.8" width="29.2" height="120" fill="#fff" stroke="#8c8c8c" stroke-width="1"/>
<line x1="45.3" y1="281.3" x2="54.1" y2="281.3" stroke="#D95319" stroke-width="2" stroke-dasharray="2 1.4"/>
<text transform="translate(55,285.7) scale(1.0,1.05)" x="0" y="0" font-family='"Liberation Sans", sans-serif' font-size="9.6" font-weight="bold" font-style="normal" text-anchor="start" fill="#000" stroke="#000" stroke-width="0.22">1,1</text>
<line x1="45.3" y1="296.3" x2="54.1" y2="296.3" stroke="#7E2F8E" stroke-width="2" stroke-dasharray="2 1.4"/>
<text transform="translate(55,300.7) scale(1.0,1.05)" x="0" y="0" font-family='"Liberation Sans", sans-serif' font-size="9.6" font-weight="bold" font-style="normal" text-anchor="start" fill="#000" stroke="#000" stroke-width="0.22">0,1</text>
<line x1="45.3" y1="311.3" x2="54.1" y2="311.3" stroke="#77AC30" stroke-width="2" stroke-dasharray="2 1.4"/>
<text transform="translate(55,315.7) scale(1.0,1.05)" x="0" y="0" font-family='"Liberation Sans", sans-serif' font-size="9.6" font-weight="bold" font-style="normal" text-anchor="start" fill="#000" stroke="#000" stroke-width="0.22">2,2</text>
<line x1="45.3" y1="326.3" x2="54.1" y2="326.3" stroke="#4DBEEE" stroke-width="2" stroke-dasharray="2 1.4"/>
<text transform="translate(55,330.7) scale(1.0,1.05)" x="0" y="0" font-family='"Liberation Sans", sans-serif' font-size="9.6" font-weight="bold" font-style="normal" text-anchor="start" fill="#000" stroke="#000" stroke-width="0.22">1,2</text>
<line x1="45.3" y1="341.3" x2="54.1" y2="341.3" stroke="#A2142F" stroke-width="2" stroke-dasharray="2 1.4"/>
<text transform="translate(55,345.7) scale(1.0,1.05)" x="0" y="0" font-family='"Liberation Sans", sans-serif' font-size="9.6" font-weight="bold" font-style="normal" text-anchor="start" fill="#000" stroke="#000" stroke-width="0.22">0,8</text>
<line x1="45.3" y1="356.3" x2="54.1" y2="356.3" stroke="#0072BD" stroke-width="2" stroke-dasharray="2 1.4"/>
<text transform="translate(55,360.7) scale(1.0,1.05)" x="0" y="0" font-family='"Liberation Sans", sans-serif' font-size="9.6" font-weight="bold" font-style="normal" text-anchor="start" fill="#000" stroke="#000" stroke-width="0.22">1,-1</text>
<line x1="45.3" y1="371.3" x2="54.1" y2="371.3" stroke="#D95319" stroke-width="2.0"/>
<text transform="translate(55,375.7) scale(1.0,1.05)" x="0" y="0" font-family='"Liberation Sans", sans-serif' font-size="9.6" font-weight="bold" font-style="normal" text-anchor="start" fill="#000" stroke="#000" stroke-width="0.22">2,-7</text>
<line x1="45.3" y1="386.3" x2="54.1" y2="386.3" stroke="#EDB120" stroke-width="2.0"/>
<text transform="translate(55,390.7) scale(1.0,1.05)" x="0" y="0" font-family='"Liberation Sans", sans-serif' font-size="9.6" font-weight="bold" font-style="normal" text-anchor="start" fill="#000" stroke="#000" stroke-width="0.22">0,9</text>
<text transform="translate(40.9,246.7) scale(1.0,1.1)" x="0" y="0" font-family='"Liberation Sans", sans-serif' font-size="11.0" font-weight="bold" font-style="normal" text-anchor="end" fill="#000" stroke="#000" stroke-width="0.22">0.02</text>
<text transform="translate(40.9,272.1) scale(1.0,1.1)" x="0" y="0" font-family='"Liberation Sans", sans-serif' font-size="11.0" font-weight="bold" font-style="normal" text-anchor="end" fill="#000" stroke="#000" stroke-width="0.22">0.01</text>
<text transform="translate(40.9,297.5) scale(1.0,1.1)" x="0" y="0" font-family='"Liberation Sans", sans-serif' font-size="11.0" font-weight="bold" font-style="normal" text-anchor="end" fill="#000" stroke="#000" stroke-width="0.22">0</text>
<text transform="translate(40.9,322.9) scale(1.0,1.1)" x="0" y="0" font-family='"Liberation Sans", sans-serif' font-size="11.0" font-weight="bold" font-style="normal" text-anchor="end" fill="#000" stroke="#000" stroke-width="0.22">-0.01</text>
<text transform="translate(40.9,348.3) scale(1.0,1.1)" x="0" y="0" font-family='"Liberation Sans", sans-serif' font-size="11.0" font-weight="bold" font-style="normal" text-anchor="end" fill="#000" stroke="#000" stroke-width="0.22">-0.02</text>
<text transform="translate(40.9,373.7) scale(1.0,1.1)" x="0" y="0" font-family='"Liberation Sans", sans-serif' font-size="11.0" font-weight="bold" font-style="normal" text-anchor="end" fill="#000" stroke="#000" stroke-width="0.22">-0.03</text>
<text transform="translate(40.9,399.1) scale(1.0,1.1)" x="0" y="0" font-family='"Liberation Sans", sans-serif' font-size="11.0" font-weight="bold" font-style="normal" text-anchor="end" fill="#000" stroke="#000" stroke-width="0.22">-0.04</text>
<text transform="translate(44.5,408.6) scale(1.0,1.1)" x="0" y="0" font-family='"Liberation Sans", sans-serif' font-size="11.0" font-weight="bold" font-style="normal" text-anchor="middle" fill="#000" stroke="#000" stroke-width="0.22">0</text>
<text transform="translate(122.95,408.6) scale(1.0,1.1)" x="0" y="0" font-family='"Liberation Sans", sans-serif' font-size="11.0" font-weight="bold" font-style="normal" text-anchor="middle" fill="#000" stroke="#000" stroke-width="0.22">0.5</text>
<text transform="translate(201.4,408.6) scale(1.0,1.1)" x="0" y="0" font-family='"Liberation Sans", sans-serif' font-size="11.0" font-weight="bold" font-style="normal" text-anchor="middle" fill="#000" stroke="#000" stroke-width="0.22">1</text>
<text x="122.95" y="424.1" font-family='"Liberation Serif", serif' font-size="12" font-weight="normal" font-style="italic" text-anchor="middle" fill="#000" stroke="#000" stroke-width="0.25">ρ</text>
<text transform="translate(87,364) scale(1.0,1.12)" x="0" y="0" font-family='"Liberation Serif", serif' font-size="13" font-weight="bold" font-style="normal" text-anchor="start" fill="#000" >β=0.00%</text>
<text x="125.6" y="442.5" font-family='"Liberation Serif", serif' font-size="17" font-weight="normal" font-style="normal" text-anchor="middle" fill="#000" >(d)</text>
<rect x="242.8" y="240.6" width="163.9" height="152.2" fill="#fff" stroke="#8c8c8c" stroke-width="1"/>
<line x1="242.8" y1="240.6" x2="244.3" y2="240.6" stroke="#8c8c8c" stroke-width="1"/>
<line x1="406.7" y1="240.6" x2="405.2" y2="240.6" stroke="#8c8c8c" stroke-width="1"/>
<line x1="242.8" y1="265.97" x2="244.3" y2="265.97" stroke="#8c8c8c" stroke-width="1"/>
<line x1="406.7" y1="265.97" x2="405.2" y2="265.97" stroke="#8c8c8c" stroke-width="1"/>
<line x1="242.8" y1="291.33" x2="244.3" y2="291.33" stroke="#8c8c8c" stroke-width="1"/>
<line x1="406.7" y1="291.33" x2="405.2" y2="291.33" stroke="#8c8c8c" stroke-width="1"/>
<line x1="242.8" y1="316.7" x2="244.3" y2="316.7" stroke="#8c8c8c" stroke-width="1"/>
<line x1="406.7" y1="316.7" x2="405.2" y2="316.7" stroke="#8c8c8c" stroke-width="1"/>
<line x1="242.8" y1="342.07" x2="244.3" y2="342.07" stroke="#8c8c8c" stroke-width="1"/>
<line x1="406.7" y1="342.07" x2="405.2" y2="342.07" stroke="#8c8c8c" stroke-width="1"/>
<line x1="242.8" y1="367.43" x2="244.3" y2="367.43" stroke="#8c8c8c" stroke-width="1"/>
<line x1="406.7" y1="367.43" x2="405.2" y2="367.43" stroke="#8c8c8c" stroke-width="1"/>
<line x1="242.8" y1="392.8" x2="244.3" y2="392.8" stroke="#8c8c8c" stroke-width="1"/>
<line x1="406.7" y1="392.8" x2="405.2" y2="392.8" stroke="#8c8c8c" stroke-width="1"/>
<line x1="242.8" y1="392.8" x2="242.8" y2="391.3" stroke="#8c8c8c" stroke-width="1"/>
<line x1="242.8" y1="240.6" x2="242.8" y2="242.1" stroke="#8c8c8c" stroke-width="1"/>
<line x1="324.75" y1="392.8" x2="324.75" y2="391.3" stroke="#8c8c8c" stroke-width="1"/>
<line x1="324.75" y1="240.6" x2="324.75" y2="242.1" stroke="#8c8c8c" stroke-width="1"/>
<line x1="406.7" y1="392.8" x2="406.7" y2="391.3" stroke="#8c8c8c" stroke-width="1"/>
<line x1="406.7" y1="240.6" x2="406.7" y2="242.1" stroke="#8c8c8c" stroke-width="1"/>
<path d="M243,322 L244.38,321.6 L245.75,321.2 L247.13,320.81 L248.5,320.41 L249.88,320.02 L251.25,319.63 L252.63,319.24 L254.01,318.86 L255.38,318.48 L256.76,318.11 L258.13,317.75 L259.51,317.39 L260.88,317.04 L262.26,316.7 L263.63,316.36 L265.01,316.04 L266.39,315.73 L267.76,315.42 L269.14,315.13 L270.51,314.85 L271.89,314.58 L273.26,314.33 L274.64,314.09 L276.02,313.86 L277.39,313.64 L278.77,313.43 L280.14,313.23 L281.52,313.02 L282.89,312.81 L284.27,312.6 L285.64,312.38 L287.02,312.15 L288.4,311.91 L289.77,311.65 L291.15,311.37 L292.52,311.07 L293.9,310.75 L295.27,310.42 L296.65,310.06 L298.03,309.7 L299.4,309.31 L300.78,308.91 L302.15,308.5 L303.53,308.07 L304.9,307.63 L306.28,307.18 L307.65,306.71 L309.03,306.24 L310.41,305.75 L311.78,305.25 L313.16,304.75 L314.53,304.24 L315.91,303.72 L317.28,303.19 L318.66,302.65 L320.04,302.11 L321.41,301.57 L322.79,301.02 L324.16,300.47 L325.54,299.91 L326.91,299.36 L328.29,298.8 L329.66,298.24 L331.04,297.68 L332.42,297.11 L333.79,296.54 L335.17,295.96 L336.54,295.37 L337.92,294.76 L339.29,294.13 L340.67,293.48 L342.05,292.8 L343.42,292.1 L344.8,291.37 L346.17,290.63 L347.55,289.87 L348.92,289.09 L350.3,288.3 L351.67,287.49 L353.05,286.67 L354.43,285.84 L355.8,285 L357.18,284.15 L358.55,283.3 L359.93,282.44 L361.3,281.58 L362.68,280.72 L364.06,279.86 L365.43,279.01 L366.81,278.15 L368.18,277.3 L369.56,276.46 L370.93,275.63 L372.31,274.81 L373.68,273.99 L375.06,273.19 L376.44,272.39 L377.81,271.59 L379.19,270.81 L380.56,270.03 L381.94,269.25 L383.31,268.48 L384.69,267.72 L386.07,266.96 L387.44,266.21 L388.82,265.46 L390.19,264.72 L391.57,263.98 L392.94,263.24 L394.32,262.51 L395.69,261.78 L397.07,261.05 L398.45,260.32 L399.82,259.6 L401.2,258.88 L402.57,258.16 L403.95,257.44 L405.32,256.72 L406.7,256" fill="none" stroke="#EDB120" stroke-width="2.0" stroke-dasharray="2 1.4" stroke-linejoin="round" />
<path d="M243,291.3 L244.38,291.31 L245.75,291.32 L247.13,291.33 L248.5,291.34 L249.88,291.35 L251.25,291.37 L252.63,291.38 L254.01,291.4 L255.38,291.42 L256.76,291.45 L258.13,291.48 L259.51,291.51 L260.88,291.55 L262.26,291.59 L263.63,291.64 L265.01,291.69 L266.39,291.75 L267.76,291.82 L269.14,291.89 L270.51,291.97 L271.89,292.05 L273.26,292.15 L274.64,292.25 L276.02,292.36 L277.39,292.48 L278.77,292.6 L280.14,292.73 L281.52,292.87 L282.89,293.01 L284.27,293.16 L285.64,293.31 L287.02,293.46 L288.4,293.62 L289.77,293.77 L291.15,293.93 L292.52,294.1 L293.9,294.26 L295.27,294.42 L296.65,294.59 L298.03,294.76 L299.4,294.93 L300.78,295.1 L302.15,295.28 L303.53,295.46 L304.9,295.64 L306.28,295.82 L307.65,296 L309.03,296.19 L310.41,296.38 L311.78,296.57 L313.16,296.76 L314.53,296.96 L315.91,297.16 L317.28,297.37 L318.66,297.57 L320.04,297.78 L321.41,297.99 L322.79,298.21 L324.16,298.43 L325.54,298.65 L326.91,298.88 L328.29,299.11 L329.66,299.34 L331.04,299.58 L332.42,299.82 L333.79,300.07 L335.17,300.32 L336.54,300.57 L337.92,300.83 L339.29,301.1 L340.67,301.38 L342.05,301.66 L343.42,301.95 L344.8,302.24 L346.17,302.55 L347.55,302.86 L348.92,303.18 L350.3,303.51 L351.67,303.85 L353.05,304.2 L354.43,304.56 L355.8,304.93 L357.18,305.32 L358.55,305.71 L359.93,306.12 L361.3,306.54 L362.68,306.97 L364.06,307.41 L365.43,307.87 L366.81,308.35 L368.18,308.83 L369.56,309.34 L370.93,309.85 L372.31,310.39 L373.68,310.93 L375.06,311.49 L376.44,312.07 L377.81,312.66 L379.19,313.25 L380.56,313.87 L381.94,314.49 L383.31,315.12 L384.69,315.76 L386.07,316.41 L387.44,317.07 L388.82,317.74 L390.19,318.42 L391.57,319.1 L392.94,319.79 L394.32,320.48 L395.69,321.18 L397.07,321.89 L398.45,322.6 L399.82,323.31 L401.2,324.02 L402.57,324.74 L403.95,325.46 L405.32,326.18 L406.7,326.9" fill="none" stroke="#7E2F8E" stroke-width="2.0" stroke-dasharray="2 1.4" stroke-linejoin="round" />
<path d="M243,299 L244.38,298.98 L245.75,298.97 L247.13,298.95 L248.5,298.93 L249.88,298.92 L251.25,298.9 L252.63,298.89 L254.01,298.87 L255.38,298.86 L256.76,298.85 L258.13,298.84 L259.51,298.83 L260.88,298.82 L262.26,298.81 L263.63,298.8 L265.01,298.8 L266.39,298.79 L267.76,298.79 L269.14,298.79 L270.51,298.79 L271.89,298.79 L273.26,298.8 L274.64,298.8 L276.02,298.81 L277.39,298.82 L278.77,298.84 L280.14,298.85 L281.52,298.87 L282.89,298.88 L284.27,298.9 L285.64,298.93 L287.02,298.95 L288.4,298.97 L289.77,299 L291.15,299.02 L292.52,299.05 L293.9,299.08 L295.27,299.11 L296.65,299.13 L298.03,299.17 L299.4,299.2 L300.78,299.23 L302.15,299.26 L303.53,299.3 L304.9,299.33 L306.28,299.37 L307.65,299.41 L309.03,299.44 L310.41,299.48 L311.78,299.52 L313.16,299.56 L314.53,299.6 L315.91,299.64 L317.28,299.69 L318.66,299.73 L320.04,299.77 L321.41,299.81 L322.79,299.86 L324.16,299.9 L325.54,299.95 L326.91,300 L328.29,300.04 L329.66,300.09 L331.04,300.14 L332.42,300.18 L333.79,300.23 L335.17,300.29 L336.54,300.34 L337.92,300.4 L339.29,300.46 L340.67,300.52 L342.05,300.59 L343.42,300.67 L344.8,300.75 L346.17,300.84 L347.55,300.94 L348.92,301.04 L350.3,301.15 L351.67,301.27 L353.05,301.4 L354.43,301.54 L355.8,301.69 L357.18,301.85 L358.55,302.03 L359.93,302.21 L361.3,302.41 L362.68,302.62 L364.06,302.85 L365.43,303.09 L366.81,303.34 L368.18,303.62 L369.56,303.9 L370.93,304.21 L372.31,304.53 L373.68,304.87 L375.06,305.22 L376.44,305.59 L377.81,305.97 L379.19,306.36 L380.56,306.77 L381.94,307.19 L383.31,307.62 L384.69,308.07 L386.07,308.52 L387.44,308.98 L388.82,309.45 L390.19,309.93 L391.57,310.42 L392.94,310.91 L394.32,311.41 L395.69,311.92 L397.07,312.43 L398.45,312.95 L399.82,313.47 L401.2,313.99 L402.57,314.51 L403.95,315.04 L405.32,315.57 L406.7,316.1" fill="none" stroke="#77AC30" stroke-width="2.0" stroke-dasharray="2 1.4" stroke-linejoin="round" />
<path d="M243,289.5 L244.38,289.44 L245.75,289.37 L247.13,289.31 L248.5,289.25 L249.88,289.18 L251.25,289.12 L252.63,289.06 L254.01,289 L255.38,288.94 L256.76,288.88 L258.13,288.83 L259.51,288.77 L260.88,288.72 L262.26,288.66 L263.63,288.61 L265.01,288.56 L266.39,288.52 L267.76,288.47 L269.14,288.43 L270.51,288.39 L271.89,288.35 L273.26,288.32 L274.64,288.29 L276.02,288.26 L277.39,288.23 L278.77,288.2 L280.14,288.18 L281.52,288.15 L282.89,288.13 L284.27,288.11 L285.64,288.08 L287.02,288.06 L288.4,288.03 L289.77,288 L291.15,287.97 L292.52,287.94 L293.9,287.91 L295.27,287.87 L296.65,287.83 L298.03,287.79 L299.4,287.74 L300.78,287.69 L302.15,287.64 L303.53,287.59 L304.9,287.53 L306.28,287.46 L307.65,287.4 L309.03,287.33 L310.41,287.25 L311.78,287.18 L313.16,287.09 L314.53,287.01 L315.91,286.92 L317.28,286.82 L318.66,286.72 L320.04,286.62 L321.41,286.51 L322.79,286.39 L324.16,286.27 L325.54,286.15 L326.91,286.01 L328.29,285.88 L329.66,285.74 L331.04,285.59 L332.42,285.43 L333.79,285.27 L335.17,285.11 L336.54,284.94 L337.92,284.76 L339.29,284.58 L340.67,284.4 L342.05,284.21 L343.42,284.01 L344.8,283.81 L346.17,283.61 L347.55,283.4 L348.92,283.19 L350.3,282.97 L351.67,282.75 L353.05,282.53 L354.43,282.3 L355.8,282.07 L357.18,281.83 L358.55,281.6 L359.93,281.35 L361.3,281.11 L362.68,280.86 L364.06,280.61 L365.43,280.36 L366.81,280.1 L368.18,279.84 L369.56,279.58 L370.93,279.32 L372.31,279.06 L373.68,278.79 L375.06,278.52 L376.44,278.25 L377.81,277.98 L379.19,277.71 L380.56,277.43 L381.94,277.15 L383.31,276.87 L384.69,276.6 L386.07,276.31 L387.44,276.03 L388.82,275.75 L390.19,275.46 L391.57,275.18 L392.94,274.89 L394.32,274.61 L395.69,274.32 L397.07,274.03 L398.45,273.74 L399.82,273.45 L401.2,273.16 L402.57,272.87 L403.95,272.58 L405.32,272.29 L406.7,272" fill="none" stroke="#4DBEEE" stroke-width="2.0" stroke-dasharray="2 1.4" stroke-linejoin="round" />
<path d="M243,289 L244.38,288.93 L245.75,288.87 L247.13,288.8 L248.5,288.74 L249.88,288.67 L251.25,288.6 L252.63,288.54 L254.01,288.47 L255.38,288.41 L256.76,288.34 L258.13,288.27 L259.51,288.21 L260.88,288.14 L262.26,288.07 L263.63,288.01 L265.01,287.94 L266.39,287.87 L267.76,287.81 L269.14,287.74 L270.51,287.67 L271.89,287.6 L273.26,287.54 L274.64,287.47 L276.02,287.4 L277.39,287.33 L278.77,287.26 L280.14,287.19 L281.52,287.12 L282.89,287.04 L284.27,286.96 L285.64,286.88 L287.02,286.8 L288.4,286.71 L289.77,286.62 L291.15,286.52 L292.52,286.42 L293.9,286.31 L295.27,286.21 L296.65,286.1 L298.03,285.99 L299.4,285.87 L300.78,285.76 L302.15,285.65 L303.53,285.54 L304.9,285.43 L306.28,285.33 L307.65,285.23 L309.03,285.13 L310.41,285.04 L311.78,284.95 L313.16,284.87 L314.53,284.79 L315.91,284.72 L317.28,284.66 L318.66,284.61 L320.04,284.57 L321.41,284.54 L322.79,284.51 L324.16,284.5 L325.54,284.5 L326.91,284.52 L328.29,284.55 L329.66,284.59 L331.04,284.64 L332.42,284.71 L333.79,284.8 L335.17,284.9 L336.54,285.01 L337.92,285.14 L339.29,285.28 L340.67,285.43 L342.05,285.6 L343.42,285.78 L344.8,285.97 L346.17,286.17 L347.55,286.39 L348.92,286.62 L350.3,286.87 L351.67,287.13 L353.05,287.4 L354.43,287.69 L355.8,288 L357.18,288.32 L358.55,288.66 L359.93,289.02 L361.3,289.39 L362.68,289.79 L364.06,290.2 L365.43,290.64 L366.81,291.09 L368.18,291.57 L369.56,292.06 L370.93,292.57 L372.31,293.1 L373.68,293.64 L375.06,294.19 L376.44,294.76 L377.81,295.34 L379.19,295.92 L380.56,296.52 L381.94,297.13 L383.31,297.74 L384.69,298.36 L386.07,298.98 L387.44,299.61 L388.82,300.24 L390.19,300.88 L391.57,301.52 L392.94,302.16 L394.32,302.81 L395.69,303.46 L397.07,304.11 L398.45,304.76 L399.82,305.41 L401.2,306.07 L402.57,306.73 L403.95,307.38 L405.32,308.04 L406.7,308.7" fill="none" stroke="#A2142F" stroke-width="2.0" stroke-dasharray="2 1.4" stroke-linejoin="round" />
<path d="M243,288.2 L244.38,288.14 L245.75,288.08 L247.13,288.01 L248.5,287.95 L249.88,287.88 L251.25,287.82 L252.63,287.75 L254.01,287.68 L255.38,287.61 L256.76,287.53 L258.13,287.46 L259.51,287.38 L260.88,287.29 L262.26,287.21 L263.63,287.12 L265.01,287.03 L266.39,286.93 L267.76,286.83 L269.14,286.72 L270.51,286.61 L271.89,286.49 L273.26,286.37 L274.64,286.24 L276.02,286.11 L277.39,285.97 L278.77,285.83 L280.14,285.68 L281.52,285.53 L282.89,285.38 L284.27,285.23 L285.64,285.08 L287.02,284.92 L288.4,284.77 L289.77,284.62 L291.15,284.48 L292.52,284.33 L293.9,284.19 L295.27,284.05 L296.65,283.92 L298.03,283.78 L299.4,283.65 L300.78,283.52 L302.15,283.39 L303.53,283.26 L304.9,283.14 L306.28,283.02 L307.65,282.9 L309.03,282.78 L310.41,282.67 L311.78,282.55 L313.16,282.44 L314.53,282.33 L315.91,282.22 L317.28,282.11 L318.66,282.01 L320.04,281.91 L321.41,281.8 L322.79,281.7 L324.16,281.6 L325.54,281.51 L326.91,281.41 L328.29,281.32 L329.66,281.22 L331.04,281.13 L332.42,281.04 L333.79,280.95 L335.17,280.86 L336.54,280.77 L337.92,280.68 L339.29,280.59 L340.67,280.5 L342.05,280.41 L343.42,280.32 L344.8,280.23 L346.17,280.14 L347.55,280.05 L348.92,279.96 L350.3,279.86 L351.67,279.76 L353.05,279.66 L354.43,279.56 L355.8,279.46 L357.18,279.35 L358.55,279.24 L359.93,279.13 L361.3,279.01 L362.68,278.9 L364.06,278.77 L365.43,278.65 L366.81,278.52 L368.18,278.38 L369.56,278.25 L370.93,278.1 L372.31,277.95 L373.68,277.8 L375.06,277.65 L376.44,277.49 L377.81,277.32 L379.19,277.15 L380.56,276.98 L381.94,276.81 L383.31,276.63 L384.69,276.45 L386.07,276.27 L387.44,276.08 L388.82,275.89 L390.19,275.7 L391.57,275.51 L392.94,275.31 L394.32,275.12 L395.69,274.92 L397.07,274.72 L398.45,274.52 L399.82,274.32 L401.2,274.12 L402.57,273.91 L403.95,273.71 L405.32,273.5 L406.7,273.3" fill="none" stroke="#0072BD" stroke-width="2.0" stroke-dasharray="2 1.4" stroke-linejoin="round" />
<path d="M243,291.3 L244.38,291.26 L245.75,291.21 L247.13,291.17 L248.5,291.12 L249.88,291.08 L251.25,291.04 L252.63,291 L254.01,290.96 L255.38,290.92 L256.76,290.88 L258.13,290.85 L259.51,290.81 L260.88,290.78 L262.26,290.75 L263.63,290.72 L265.01,290.7 L266.39,290.67 L267.76,290.65 L269.14,290.64 L270.51,290.62 L271.89,290.61 L273.26,290.6 L274.64,290.6 L276.02,290.6 L277.39,290.6 L278.77,290.6 L280.14,290.61 L281.52,290.61 L282.89,290.61 L284.27,290.62 L285.64,290.62 L287.02,290.62 L288.4,290.61 L289.77,290.6 L291.15,290.59 L292.52,290.57 L293.9,290.55 L295.27,290.52 L296.65,290.49 L298.03,290.45 L299.4,290.41 L300.78,290.37 L302.15,290.33 L303.53,290.28 L304.9,290.22 L306.28,290.17 L307.65,290.11 L309.03,290.05 L310.41,289.98 L311.78,289.92 L313.16,289.85 L314.53,289.78 L315.91,289.71 L317.28,289.63 L318.66,289.56 L320.04,289.48 L321.41,289.4 L322.79,289.32 L324.16,289.24 L325.54,289.16 L326.91,289.08 L328.29,289 L329.66,288.92 L331.04,288.84 L332.42,288.76 L333.79,288.68 L335.17,288.59 L336.54,288.51 L337.92,288.42 L339.29,288.33 L340.67,288.24 L342.05,288.15 L343.42,288.05 L344.8,287.96 L346.17,287.85 L347.55,287.75 L348.92,287.63 L350.3,287.52 L351.67,287.39 L353.05,287.27 L354.43,287.13 L355.8,286.99 L357.18,286.85 L358.55,286.69 L359.93,286.53 L361.3,286.37 L362.68,286.19 L364.06,286 L365.43,285.81 L366.81,285.61 L368.18,285.4 L369.56,285.17 L370.93,284.94 L372.31,284.7 L373.68,284.45 L375.06,284.19 L376.44,283.92 L377.81,283.64 L379.19,283.35 L380.56,283.05 L381.94,282.75 L383.31,282.44 L384.69,282.13 L386.07,281.81 L387.44,281.48 L388.82,281.15 L390.19,280.81 L391.57,280.47 L392.94,280.12 L394.32,279.77 L395.69,279.41 L397.07,279.06 L398.45,278.7 L399.82,278.33 L401.2,277.97 L402.57,277.6 L403.95,277.24 L405.32,276.87 L406.7,276.5" fill="none" stroke="#D95319" stroke-width="2.0" stroke-linejoin="round" />
<path d="M243,291.3 L244.38,291.32 L245.75,291.34 L247.13,291.36 L248.5,291.38 L249.88,291.4 L251.25,291.42 L252.63,291.44 L254.01,291.46 L255.38,291.47 L256.76,291.49 L258.13,291.51 L259.51,291.53 L260.88,291.55 L262.26,291.57 L263.63,291.58 L265.01,291.6 L266.39,291.62 L267.76,291.63 L269.14,291.65 L270.51,291.66 L271.89,291.68 L273.26,291.69 L274.64,291.71 L276.02,291.72 L277.39,291.73 L278.77,291.75 L280.14,291.76 L281.52,291.78 L282.89,291.79 L284.27,291.81 L285.64,291.83 L287.02,291.85 L288.4,291.87 L289.77,291.9 L291.15,291.92 L292.52,291.95 L293.9,291.99 L295.27,292.02 L296.65,292.06 L298.03,292.09 L299.4,292.13 L300.78,292.17 L302.15,292.21 L303.53,292.24 L304.9,292.28 L306.28,292.32 L307.65,292.35 L309.03,292.39 L310.41,292.42 L311.78,292.45 L313.16,292.48 L314.53,292.5 L315.91,292.53 L317.28,292.54 L318.66,292.56 L320.04,292.57 L321.41,292.58 L322.79,292.58 L324.16,292.58 L325.54,292.57 L326.91,292.55 L328.29,292.53 L329.66,292.51 L331.04,292.47 L332.42,292.43 L333.79,292.38 L335.17,292.32 L336.54,292.25 L337.92,292.17 L339.29,292.07 L340.67,291.96 L342.05,291.83 L343.42,291.69 L344.8,291.53 L346.17,291.34 L347.55,291.14 L348.92,290.92 L350.3,290.68 L351.67,290.43 L353.05,290.17 L354.43,289.89 L355.8,289.6 L357.18,289.3 L358.55,288.99 L359.93,288.67 L361.3,288.34 L362.68,288.01 L364.06,287.68 L365.43,287.34 L366.81,286.99 L368.18,286.65 L369.56,286.31 L370.93,285.97 L372.31,285.63 L373.68,285.29 L375.06,284.95 L376.44,284.62 L377.81,284.29 L379.19,283.95 L380.56,283.62 L381.94,283.29 L383.31,282.97 L384.69,282.64 L386.07,282.31 L387.44,281.99 L388.82,281.66 L390.19,281.34 L391.57,281.02 L392.94,280.69 L394.32,280.37 L395.69,280.05 L397.07,279.73 L398.45,279.41 L399.82,279.09 L401.2,278.77 L402.57,278.46 L403.95,278.14 L405.32,277.82 L406.7,277.5" fill="none" stroke="#EDB120" stroke-width="2.0" stroke-linejoin="round" />
<rect x="242.8" y="272.1" width="30.8" height="120.7" fill="#fff" stroke="#8c8c8c" stroke-width="1"/>
<line x1="243.6" y1="279.64" x2="252.4" y2="279.64" stroke="#EDB120" stroke-width="2" stroke-dasharray="2 1.4"/>
<text transform="translate(253.3,284.04) scale(1.0,1.05)" x="0" y="0" font-family='"Liberation Sans", sans-serif' font-size="9.6" font-weight="bold" font-style="normal" text-anchor="start" fill="#000" stroke="#000" stroke-width="0.22">0,1</text>
<line x1="243.6" y1="294.73" x2="252.4" y2="294.73" stroke="#7E2F8E" stroke-width="2" stroke-dasharray="2 1.4"/>
<text transform="translate(253.3,299.13) scale(1.0,1.05)" x="0" y="0" font-family='"Liberation Sans", sans-serif' font-size="9.6" font-weight="bold" font-style="normal" text-anchor="start" fill="#000" stroke="#000" stroke-width="0.22">2,2</text>
<line x1="243.6" y1="309.82" x2="252.4" y2="309.82" stroke="#77AC30" stroke-width="2" stroke-dasharray="2 1.4"/>
<text transform="translate(253.3,314.22) scale(1.0,1.05)" x="0" y="0" font-family='"Liberation Sans", sans-serif' font-size="9.6" font-weight="bold" font-style="normal" text-anchor="start" fill="#000" stroke="#000" stroke-width="0.22">0,8</text>
<line x1="243.6" y1="324.91" x2="252.4" y2="324.91" stroke="#4DBEEE" stroke-width="2" stroke-dasharray="2 1.4"/>
<text transform="translate(253.3,329.31) scale(1.0,1.05)" x="0" y="0" font-family='"Liberation Sans", sans-serif' font-size="9.6" font-weight="bold" font-style="normal" text-anchor="start" fill="#000" stroke="#000" stroke-width="0.22">1,-1</text>
<line x1="243.6" y1="339.99" x2="252.4" y2="339.99" stroke="#A2142F" stroke-width="2" stroke-dasharray="2 1.4"/>
<text transform="translate(253.3,344.39) scale(1.0,1.05)" x="0" y="0" font-family='"Liberation Sans", sans-serif' font-size="9.6" font-weight="bold" font-style="normal" text-anchor="start" fill="#000" stroke="#000" stroke-width="0.22">1,1</text>
<line x1="243.6" y1="355.08" x2="252.4" y2="355.08" stroke="#0072BD" stroke-width="2" stroke-dasharray="2 1.4"/>
<text transform="translate(253.3,359.48) scale(1.0,1.05)" x="0" y="0" font-family='"Liberation Sans", sans-serif' font-size="9.6" font-weight="bold" font-style="normal" text-anchor="start" fill="#000" stroke="#000" stroke-width="0.22">1,2</text>
<line x1="243.6" y1="370.17" x2="252.4" y2="370.17" stroke="#D95319" stroke-width="2.0"/>
<text transform="translate(253.3,374.57) scale(1.0,1.05)" x="0" y="0" font-family='"Liberation Sans", sans-serif' font-size="9.6" font-weight="bold" font-style="normal" text-anchor="start" fill="#000" stroke="#000" stroke-width="0.22">2,-7</text>
<line x1="243.6" y1="385.26" x2="252.4" y2="385.26" stroke="#EDB120" stroke-width="2.0"/>
<text transform="translate(253.3,389.66) scale(1.0,1.05)" x="0" y="0" font-family='"Liberation Sans", sans-serif' font-size="9.6" font-weight="bold" font-style="normal" text-anchor="start" fill="#000" stroke="#000" stroke-width="0.22">3,1</text>
<text transform="translate(239.2,245.9) scale(1.0,1.1)" x="0" y="0" font-family='"Liberation Sans", sans-serif' font-size="11.0" font-weight="bold" font-style="normal" text-anchor="end" fill="#000" stroke="#000" stroke-width="0.22">0.02</text>
<text transform="translate(239.2,271.27) scale(1.0,1.1)" x="0" y="0" font-family='"Liberation Sans", sans-serif' font-size="11.0" font-weight="bold" font-style="normal" text-anchor="end" fill="#000" stroke="#000" stroke-width="0.22">0.01</text>
<text transform="translate(239.2,296.63) scale(1.0,1.1)" x="0" y="0" font-family='"Liberation Sans", sans-serif' font-size="11.0" font-weight="bold" font-style="normal" text-anchor="end" fill="#000" stroke="#000" stroke-width="0.22">0</text>
<text transform="translate(239.2,322) scale(1.0,1.1)" x="0" y="0" font-family='"Liberation Sans", sans-serif' font-size="11.0" font-weight="bold" font-style="normal" text-anchor="end" fill="#000" stroke="#000" stroke-width="0.22">-0.01</text>
<text transform="translate(239.2,347.37) scale(1.0,1.1)" x="0" y="0" font-family='"Liberation Sans", sans-serif' font-size="11.0" font-weight="bold" font-style="normal" text-anchor="end" fill="#000" stroke="#000" stroke-width="0.22">-0.02</text>
<text transform="translate(239.2,372.73) scale(1.0,1.1)" x="0" y="0" font-family='"Liberation Sans", sans-serif' font-size="11.0" font-weight="bold" font-style="normal" text-anchor="end" fill="#000" stroke="#000" stroke-width="0.22">-0.03</text>
<text transform="translate(239.2,398.1) scale(1.0,1.1)" x="0" y="0" font-family='"Liberation Sans", sans-serif' font-size="11.0" font-weight="bold" font-style="normal" text-anchor="end" fill="#000" stroke="#000" stroke-width="0.22">-0.04</text>
<text transform="translate(242.8,407.6) scale(1.0,1.1)" x="0" y="0" font-family='"Liberation Sans", sans-serif' font-size="11.0" font-weight="bold" font-style="normal" text-anchor="middle" fill="#000" stroke="#000" stroke-width="0.22">0</text>
<text transform="translate(324.75,407.6) scale(1.0,1.1)" x="0" y="0" font-family='"Liberation Sans", sans-serif' font-size="11.0" font-weight="bold" font-style="normal" text-anchor="middle" fill="#000" stroke="#000" stroke-width="0.22">0.5</text>
<text transform="translate(406.7,407.6) scale(1.0,1.1)" x="0" y="0" font-family='"Liberation Sans", sans-serif' font-size="11.0" font-weight="bold" font-style="normal" text-anchor="middle" fill="#000" stroke="#000" stroke-width="0.22">1</text>
<text x="324.75" y="423" font-family='"Liberation Serif", serif' font-size="12" font-weight="normal" font-style="italic" text-anchor="middle" fill="#000" stroke="#000" stroke-width="0.25">ρ</text>
<text transform="translate(289.1,371.7) scale(1.0,1.12)" x="0" y="0" font-family='"Liberation Serif", serif' font-size="13" font-weight="bold" font-style="normal" text-anchor="start" fill="#000" >β=1.00%</text>
<text x="325" y="442.5" font-family='"Liberation Serif", serif' font-size="17" font-weight="normal" font-style="normal" text-anchor="middle" fill="#000" >(e)</text>
<rect x="450.4" y="238.5" width="163.1" height="154.8" fill="#fff" stroke="#8c8c8c" stroke-width="1"/>
<line x1="450.4" y1="238.5" x2="451.9" y2="238.5" stroke="#8c8c8c" stroke-width="1"/>
<line x1="613.5" y1="238.5" x2="612" y2="238.5" stroke="#8c8c8c" stroke-width="1"/>
<line x1="450.4" y1="264.3" x2="451.9" y2="264.3" stroke="#8c8c8c" stroke-width="1"/>
<line x1="613.5" y1="264.3" x2="612" y2="264.3" stroke="#8c8c8c" stroke-width="1"/>
<line x1="450.4" y1="290.1" x2="451.9" y2="290.1" stroke="#8c8c8c" stroke-width="1"/>
<line x1="613.5" y1="290.1" x2="612" y2="290.1" stroke="#8c8c8c" stroke-width="1"/>
<line x1="450.4" y1="315.9" x2="451.9" y2="315.9" stroke="#8c8c8c" stroke-width="1"/>
<line x1="613.5" y1="315.9" x2="612" y2="315.9" stroke="#8c8c8c" stroke-width="1"/>
<line x1="450.4" y1="341.7" x2="451.9" y2="341.7" stroke="#8c8c8c" stroke-width="1"/>
<line x1="613.5" y1="341.7" x2="612" y2="341.7" stroke="#8c8c8c" stroke-width="1"/>
<line x1="450.4" y1="367.5" x2="451.9" y2="367.5" stroke="#8c8c8c" stroke-width="1"/>
<line x1="613.5" y1="367.5" x2="612" y2="367.5" stroke="#8c8c8c" stroke-width="1"/>
<line x1="450.4" y1="393.3" x2="451.9" y2="393.3" stroke="#8c8c8c" stroke-width="1"/>
<line x1="613.5" y1="393.3" x2="612" y2="393.3" stroke="#8c8c8c" stroke-width="1"/>
<line x1="450.4" y1="393.3" x2="450.4" y2="391.8" stroke="#8c8c8c" stroke-width="1"/>
<line x1="450.4" y1="238.5" x2="450.4" y2="240" stroke="#8c8c8c" stroke-width="1"/>
<line x1="531.95" y1="393.3" x2="531.95" y2="391.8" stroke="#8c8c8c" stroke-width="1"/>
<line x1="531.95" y1="238.5" x2="531.95" y2="240" stroke="#8c8c8c" stroke-width="1"/>
<line x1="613.5" y1="393.3" x2="613.5" y2="391.8" stroke="#8c8c8c" stroke-width="1"/>
<line x1="613.5" y1="238.5" x2="613.5" y2="240" stroke="#8c8c8c" stroke-width="1"/>
<path d="M451,290 L452.37,290.02 L453.73,290.05 L455.1,290.07 L456.46,290.09 L457.83,290.11 L459.19,290.14 L460.56,290.16 L461.92,290.18 L463.29,290.21 L464.66,290.23 L466.02,290.25 L467.39,290.27 L468.75,290.3 L470.12,290.32 L471.48,290.34 L472.85,290.36 L474.21,290.39 L475.58,290.41 L476.95,290.43 L478.31,290.46 L479.68,290.48 L481.04,290.5 L482.41,290.52 L483.77,290.55 L485.14,290.57 L486.5,290.59 L487.87,290.61 L489.24,290.64 L490.6,290.66 L491.97,290.68 L493.33,290.7 L494.7,290.72 L496.06,290.74 L497.43,290.76 L498.79,290.78 L500.16,290.8 L501.53,290.82 L502.89,290.85 L504.26,290.9 L505.62,290.96 L506.99,291.06 L508.35,291.2 L509.72,291.38 L511.08,291.61 L512.45,291.9 L513.82,292.26 L515.18,292.67 L516.55,293.13 L517.91,293.64 L519.28,294.18 L520.64,294.75 L522.01,295.34 L523.37,295.95 L524.74,296.57 L526.11,297.2 L527.47,297.82 L528.84,298.43 L530.2,299.02 L531.57,299.6 L532.93,300.16 L534.3,300.71 L535.66,301.24 L537.03,301.75 L538.39,302.25 L539.76,302.74 L541.13,303.22 L542.49,303.68 L543.86,304.13 L545.22,304.57 L546.59,305 L547.95,305.42 L549.32,305.84 L550.68,306.25 L552.05,306.65 L553.42,307.05 L554.78,307.45 L556.15,307.85 L557.51,308.25 L558.88,308.65 L560.24,309.06 L561.61,309.47 L562.97,309.89 L564.34,310.32 L565.71,310.75 L567.07,311.2 L568.44,311.66 L569.8,312.13 L571.17,312.62 L572.53,313.12 L573.9,313.64 L575.26,314.17 L576.63,314.72 L578,315.29 L579.36,315.87 L580.73,316.46 L582.09,317.07 L583.46,317.7 L584.82,318.34 L586.19,318.99 L587.55,319.66 L588.92,320.35 L590.29,321.05 L591.65,321.76 L593.02,322.49 L594.38,323.23 L595.75,323.99 L597.11,324.75 L598.48,325.53 L599.84,326.31 L601.21,327.11 L602.58,327.91 L603.94,328.72 L605.31,329.53 L606.67,330.35 L608.04,331.18 L609.4,332 L610.77,332.83 L612.13,333.67 L613.5,334.5" fill="none" stroke="#EDB120" stroke-width="2.0" stroke-dasharray="2 1.4" stroke-linejoin="round" />
<path d="M451,290 L452.37,290.01 L453.73,290.02 L455.1,290.03 L456.46,290.04 L457.83,290.05 L459.19,290.07 L460.56,290.08 L461.92,290.09 L463.29,290.11 L464.66,290.13 L466.02,290.15 L467.39,290.17 L468.75,290.19 L470.12,290.21 L471.48,290.24 L472.85,290.27 L474.21,290.3 L475.58,290.34 L476.95,290.37 L478.31,290.41 L479.68,290.46 L481.04,290.5 L482.41,290.55 L483.77,290.6 L485.14,290.66 L486.5,290.72 L487.87,290.78 L489.24,290.85 L490.6,290.92 L491.97,290.99 L493.33,291.07 L494.7,291.15 L496.06,291.23 L497.43,291.32 L498.79,291.41 L500.16,291.5 L501.53,291.59 L502.89,291.69 L504.26,291.79 L505.62,291.89 L506.99,292 L508.35,292.11 L509.72,292.22 L511.08,292.33 L512.45,292.45 L513.82,292.57 L515.18,292.69 L516.55,292.82 L517.91,292.95 L519.28,293.08 L520.64,293.21 L522.01,293.34 L523.37,293.47 L524.74,293.61 L526.11,293.74 L527.47,293.88 L528.84,294.02 L530.2,294.16 L531.57,294.29 L532.93,294.43 L534.3,294.57 L535.66,294.71 L537.03,294.85 L538.39,294.98 L539.76,295.12 L541.13,295.25 L542.49,295.38 L543.86,295.51 L545.22,295.64 L546.59,295.77 L547.95,295.9 L549.32,296.02 L550.68,296.14 L552.05,296.26 L553.42,296.39 L554.78,296.52 L556.15,296.65 L557.51,296.79 L558.88,296.93 L560.24,297.09 L561.61,297.26 L562.97,297.44 L564.34,297.63 L565.71,297.83 L567.07,298.06 L568.44,298.3 L569.8,298.56 L571.17,298.84 L572.53,299.15 L573.9,299.48 L575.26,299.83 L576.63,300.22 L578,300.64 L579.36,301.09 L580.73,301.58 L582.09,302.1 L583.46,302.67 L584.82,303.27 L586.19,303.93 L587.55,304.63 L588.92,305.37 L590.29,306.17 L591.65,307.02 L593.02,307.92 L594.38,308.87 L595.75,309.85 L597.11,310.88 L598.48,311.94 L599.84,313.04 L601.21,314.17 L602.58,315.33 L603.94,316.51 L605.31,317.71 L606.67,318.93 L608.04,320.17 L609.4,321.41 L610.77,322.67 L612.13,323.93 L613.5,325.2" fill="none" stroke="#7E2F8E" stroke-width="2.0" stroke-dasharray="2 1.4" stroke-linejoin="round" />
<path d="M451,345 L452.37,344.45 L453.73,343.9 L455.1,343.35 L456.46,342.81 L457.83,342.26 L459.19,341.71 L460.56,341.16 L461.92,340.61 L463.29,340.06 L464.66,339.51 L466.02,338.96 L467.39,338.41 L468.75,337.86 L470.12,337.31 L471.48,336.76 L472.85,336.21 L474.21,335.65 L475.58,335.1 L476.95,334.55 L478.31,333.99 L479.68,333.44 L481.04,332.88 L482.41,332.33 L483.77,331.77 L485.14,331.21 L486.5,330.65 L487.87,330.08 L489.24,329.51 L490.6,328.93 L491.97,328.35 L493.33,327.76 L494.7,327.17 L496.06,326.56 L497.43,325.95 L498.79,325.32 L500.16,324.69 L501.53,324.04 L502.89,323.39 L504.26,322.72 L505.62,322.03 L506.99,321.34 L508.35,320.62 L509.72,319.89 L511.08,319.15 L512.45,318.39 L513.82,317.6 L515.18,316.81 L516.55,315.99 L517.91,315.17 L519.28,314.33 L520.64,313.48 L522.01,312.62 L523.37,311.76 L524.74,310.88 L526.11,310.01 L527.47,309.13 L528.84,308.25 L530.2,307.37 L531.57,306.49 L532.93,305.62 L534.3,304.74 L535.66,303.87 L537.03,303 L538.39,302.14 L539.76,301.27 L541.13,300.41 L542.49,299.56 L543.86,298.71 L545.22,297.86 L546.59,297.02 L547.95,296.18 L549.32,295.35 L550.68,294.51 L552.05,293.68 L553.42,292.84 L554.78,292.01 L556.15,291.17 L557.51,290.33 L558.88,289.48 L560.24,288.63 L561.61,287.77 L562.97,286.9 L564.34,286.03 L565.71,285.15 L567.07,284.25 L568.44,283.35 L569.8,282.43 L571.17,281.5 L572.53,280.56 L573.9,279.61 L575.26,278.66 L576.63,277.7 L578,276.74 L579.36,275.78 L580.73,274.83 L582.09,273.89 L583.46,272.95 L584.82,272.03 L586.19,271.13 L587.55,270.24 L588.92,269.37 L590.29,268.53 L591.65,267.71 L593.02,266.91 L594.38,266.14 L595.75,265.38 L597.11,264.65 L598.48,263.93 L599.84,263.23 L601.21,262.55 L602.58,261.87 L603.94,261.21 L605.31,260.56 L606.67,259.92 L608.04,259.29 L609.4,258.66 L610.77,258.04 L612.13,257.42 L613.5,256.8" fill="none" stroke="#77AC30" stroke-width="2.0" stroke-dasharray="2 1.4" stroke-linejoin="round" />
<path d="M451,297.5 L452.37,297.55 L453.73,297.6 L455.1,297.66 L456.46,297.71 L457.83,297.76 L459.19,297.81 L460.56,297.87 L461.92,297.92 L463.29,297.97 L464.66,298.03 L466.02,298.08 L467.39,298.13 L468.75,298.19 L470.12,298.24 L471.48,298.3 L472.85,298.35 L474.21,298.41 L475.58,298.47 L476.95,298.53 L478.31,298.58 L479.68,298.64 L481.04,298.7 L482.41,298.76 L483.77,298.82 L485.14,298.88 L486.5,298.94 L487.87,299.01 L489.24,299.07 L490.6,299.13 L491.97,299.19 L493.33,299.25 L494.7,299.3 L496.06,299.36 L497.43,299.42 L498.79,299.47 L500.16,299.52 L501.53,299.57 L502.89,299.62 L504.26,299.67 L505.62,299.71 L506.99,299.75 L508.35,299.79 L509.72,299.83 L511.08,299.86 L512.45,299.89 L513.82,299.91 L515.18,299.94 L516.55,299.96 L517.91,299.98 L519.28,299.99 L520.64,300.01 L522.01,300.03 L523.37,300.05 L524.74,300.07 L526.11,300.1 L527.47,300.13 L528.84,300.17 L530.2,300.21 L531.57,300.25 L532.93,300.31 L534.3,300.37 L535.66,300.44 L537.03,300.52 L538.39,300.61 L539.76,300.71 L541.13,300.82 L542.49,300.95 L543.86,301.09 L545.22,301.24 L546.59,301.41 L547.95,301.59 L549.32,301.79 L550.68,302.01 L552.05,302.24 L553.42,302.48 L554.78,302.74 L556.15,303 L557.51,303.28 L558.88,303.56 L560.24,303.85 L561.61,304.14 L562.97,304.44 L564.34,304.74 L565.71,305.05 L567.07,305.35 L568.44,305.65 L569.8,305.96 L571.17,306.26 L572.53,306.55 L573.9,306.85 L575.26,307.15 L576.63,307.45 L578,307.76 L579.36,308.08 L580.73,308.41 L582.09,308.74 L583.46,309.09 L584.82,309.46 L586.19,309.84 L587.55,310.23 L588.92,310.65 L590.29,311.09 L591.65,311.56 L593.02,312.04 L594.38,312.55 L595.75,313.07 L597.11,313.61 L598.48,314.17 L599.84,314.75 L601.21,315.33 L602.58,315.93 L603.94,316.54 L605.31,317.16 L606.67,317.79 L608.04,318.42 L609.4,319.06 L610.77,319.71 L612.13,320.35 L613.5,321" fill="none" stroke="#4DBEEE" stroke-width="2.0" stroke-dasharray="2 1.4" stroke-linejoin="round" />
<path d="M451,291 L452.37,291.09 L453.73,291.19 L455.1,291.28 L456.46,291.39 L457.83,291.51 L459.19,291.63 L460.56,291.77 L461.92,291.93 L463.29,292.11 L464.66,292.31 L466.02,292.53 L467.39,292.78 L468.75,293.06 L470.12,293.36 L471.48,293.7 L472.85,294.08 L474.21,294.5 L475.58,294.95 L476.95,295.45 L478.31,295.99 L479.68,296.58 L481.04,297.22 L482.41,297.91 L483.77,298.65 L485.14,299.43 L486.5,300.25 L487.87,301.11 L489.24,302 L490.6,302.91 L491.97,303.85 L493.33,304.8 L494.7,305.77 L496.06,306.75 L497.43,307.74 L498.79,308.72 L500.16,309.7 L501.53,310.68 L502.89,311.64 L504.26,312.59 L505.62,313.52 L506.99,314.42 L508.35,315.3 L509.72,316.14 L511.08,316.95 L512.45,317.72 L513.82,318.44 L515.18,319.11 L516.55,319.74 L517.91,320.32 L519.28,320.84 L520.64,321.31 L522.01,321.73 L523.37,322.09 L524.74,322.39 L526.11,322.64 L527.47,322.82 L528.84,322.95 L530.2,323 L531.57,323 L532.93,322.93 L534.3,322.79 L535.66,322.59 L537.03,322.32 L538.39,322 L539.76,321.61 L541.13,321.17 L542.49,320.67 L543.86,320.11 L545.22,319.5 L546.59,318.83 L547.95,318.11 L549.32,317.34 L550.68,316.52 L552.05,315.65 L553.42,314.73 L554.78,313.77 L556.15,312.76 L557.51,311.72 L558.88,310.63 L560.24,309.5 L561.61,308.33 L562.97,307.14 L564.34,305.94 L565.71,304.74 L567.07,303.55 L568.44,302.38 L569.8,301.26 L571.17,300.18 L572.53,299.17 L573.9,298.23 L575.26,297.37 L576.63,296.6 L578,295.94 L579.36,295.4 L580.73,294.98 L582.09,294.7 L583.46,294.57 L584.82,294.6 L586.19,294.77 L587.55,295.07 L588.92,295.49 L590.29,296.02 L591.65,296.66 L593.02,297.39 L594.38,298.21 L595.75,299.09 L597.11,300.04 L598.48,301.06 L599.84,302.12 L601.21,303.24 L602.58,304.4 L603.94,305.6 L605.31,306.83 L606.67,308.1 L608.04,309.39 L609.4,310.7 L610.77,312.02 L612.13,313.36 L613.5,314.7" fill="none" stroke="#A2142F" stroke-width="2.0" stroke-dasharray="2 1.4" stroke-linejoin="round" />
<path d="M451,289.5 L452.37,289.45 L453.73,289.41 L455.1,289.36 L456.46,289.31 L457.83,289.27 L459.19,289.22 L460.56,289.18 L461.92,289.13 L463.29,289.08 L464.66,289.04 L466.02,288.99 L467.39,288.95 L468.75,288.9 L470.12,288.86 L471.48,288.81 L472.85,288.77 L474.21,288.72 L475.58,288.68 L476.95,288.63 L478.31,288.59 L479.68,288.54 L481.04,288.5 L482.41,288.45 L483.77,288.41 L485.14,288.37 L486.5,288.32 L487.87,288.28 L489.24,288.24 L490.6,288.19 L491.97,288.15 L493.33,288.1 L494.7,288.06 L496.06,288.02 L497.43,287.97 L498.79,287.92 L500.16,287.88 L501.53,287.83 L502.89,287.78 L504.26,287.73 L505.62,287.68 L506.99,287.63 L508.35,287.58 L509.72,287.53 L511.08,287.48 L512.45,287.42 L513.82,287.37 L515.18,287.31 L516.55,287.25 L517.91,287.18 L519.28,287.12 L520.64,287.04 L522.01,286.96 L523.37,286.87 L524.74,286.77 L526.11,286.67 L527.47,286.55 L528.84,286.42 L530.2,286.27 L531.57,286.12 L532.93,285.95 L534.3,285.76 L535.66,285.56 L537.03,285.34 L538.39,285.1 L539.76,284.84 L541.13,284.56 L542.49,284.26 L543.86,283.93 L545.22,283.58 L546.59,283.21 L547.95,282.81 L549.32,282.39 L550.68,281.94 L552.05,281.47 L553.42,280.98 L554.78,280.48 L556.15,279.96 L557.51,279.42 L558.88,278.88 L560.24,278.33 L561.61,277.77 L562.97,277.22 L564.34,276.66 L565.71,276.1 L567.07,275.55 L568.44,275.01 L569.8,274.48 L571.17,273.95 L572.53,273.44 L573.9,272.95 L575.26,272.46 L576.63,272 L578,271.54 L579.36,271.1 L580.73,270.67 L582.09,270.26 L583.46,269.87 L584.82,269.49 L586.19,269.12 L587.55,268.78 L588.92,268.45 L590.29,268.14 L591.65,267.84 L593.02,267.57 L594.38,267.31 L595.75,267.08 L597.11,266.87 L598.48,266.68 L599.84,266.52 L601.21,266.38 L602.58,266.27 L603.94,266.17 L605.31,266.1 L606.67,266.04 L608.04,266 L609.4,265.96 L610.77,265.94 L612.13,265.92 L613.5,265.9" fill="none" stroke="#0072BD" stroke-width="2.0" stroke-dasharray="2 1.4" stroke-linejoin="round" />
<path d="M451,290 L452.37,289.98 L453.73,289.96 L455.1,289.93 L456.46,289.91 L457.83,289.89 L459.19,289.87 L460.56,289.85 L461.92,289.83 L463.29,289.81 L464.66,289.79 L466.02,289.77 L467.39,289.75 L468.75,289.73 L470.12,289.71 L471.48,289.7 L472.85,289.68 L474.21,289.66 L475.58,289.65 L476.95,289.64 L478.31,289.62 L479.68,289.61 L481.04,289.6 L482.41,289.59 L483.77,289.58 L485.14,289.57 L486.5,289.56 L487.87,289.55 L489.24,289.55 L490.6,289.54 L491.97,289.53 L493.33,289.52 L494.7,289.5 L496.06,289.49 L497.43,289.48 L498.79,289.46 L500.16,289.44 L501.53,289.42 L502.89,289.39 L504.26,289.36 L505.62,289.33 L506.99,289.3 L508.35,289.26 L509.72,289.22 L511.08,289.17 L512.45,289.12 L513.82,289.07 L515.18,289.01 L516.55,288.94 L517.91,288.87 L519.28,288.8 L520.64,288.72 L522.01,288.63 L523.37,288.54 L524.74,288.45 L526.11,288.35 L527.47,288.25 L528.84,288.14 L530.2,288.03 L531.57,287.92 L532.93,287.8 L534.3,287.67 L535.66,287.55 L537.03,287.41 L538.39,287.28 L539.76,287.14 L541.13,286.99 L542.49,286.84 L543.86,286.69 L545.22,286.53 L546.59,286.37 L547.95,286.21 L549.32,286.04 L550.68,285.86 L552.05,285.69 L553.42,285.51 L554.78,285.32 L556.15,285.13 L557.51,284.93 L558.88,284.73 L560.24,284.53 L561.61,284.32 L562.97,284.1 L564.34,283.88 L565.71,283.65 L567.07,283.42 L568.44,283.18 L569.8,282.94 L571.17,282.68 L572.53,282.42 L573.9,282.16 L575.26,281.88 L576.63,281.58 L578,281.28 L579.36,280.96 L580.73,280.62 L582.09,280.27 L583.46,279.9 L584.82,279.5 L586.19,279.09 L587.55,278.65 L588.92,278.19 L590.29,277.7 L591.65,277.18 L593.02,276.63 L594.38,276.07 L595.75,275.48 L597.11,274.87 L598.48,274.24 L599.84,273.59 L601.21,272.93 L602.58,272.25 L603.94,271.56 L605.31,270.86 L606.67,270.15 L608.04,269.43 L609.4,268.7 L610.77,267.97 L612.13,267.24 L613.5,266.5" fill="none" stroke="#D95319" stroke-width="2.0" stroke-linejoin="round" />
<path d="M451,290 L452.37,290.05 L453.73,290.1 L455.1,290.16 L456.46,290.21 L457.83,290.26 L459.19,290.31 L460.56,290.36 L461.92,290.4 L463.29,290.45 L464.66,290.49 L466.02,290.53 L467.39,290.57 L468.75,290.61 L470.12,290.64 L471.48,290.67 L472.85,290.7 L474.21,290.73 L475.58,290.75 L476.95,290.77 L478.31,290.78 L479.68,290.79 L481.04,290.8 L482.41,290.8 L483.77,290.8 L485.14,290.8 L486.5,290.8 L487.87,290.8 L489.24,290.8 L490.6,290.81 L491.97,290.83 L493.33,290.85 L494.7,290.88 L496.06,290.92 L497.43,290.98 L498.79,291.05 L500.16,291.14 L501.53,291.24 L502.89,291.36 L504.26,291.5 L505.62,291.67 L506.99,291.86 L508.35,292.07 L509.72,292.31 L511.08,292.58 L512.45,292.87 L513.82,293.2 L515.18,293.56 L516.55,293.94 L517.91,294.35 L519.28,294.79 L520.64,295.24 L522.01,295.72 L523.37,296.21 L524.74,296.71 L526.11,297.22 L527.47,297.74 L528.84,298.27 L530.2,298.8 L531.57,299.34 L532.93,299.87 L534.3,300.4 L535.66,300.93 L537.03,301.44 L538.39,301.95 L539.76,302.44 L541.13,302.92 L542.49,303.38 L543.86,303.81 L545.22,304.23 L546.59,304.62 L547.95,304.99 L549.32,305.32 L550.68,305.63 L552.05,305.92 L553.42,306.19 L554.78,306.44 L556.15,306.67 L557.51,306.9 L558.88,307.12 L560.24,307.34 L561.61,307.55 L562.97,307.76 L564.34,307.94 L565.71,308.08 L567.07,308.18 L568.44,308.23 L569.8,308.21 L571.17,308.11 L572.53,307.94 L573.9,307.68 L575.26,307.33 L576.63,306.89 L578,306.36 L579.36,305.73 L580.73,305 L582.09,304.17 L583.46,303.23 L584.82,302.2 L586.19,301.07 L587.55,299.84 L588.92,298.51 L590.29,297.1 L591.65,295.59 L593.02,294.03 L594.38,292.44 L595.75,290.84 L597.11,289.28 L598.48,287.77 L599.84,286.35 L601.21,285.05 L602.58,283.85 L603.94,282.74 L605.31,281.72 L606.67,280.77 L608.04,279.89 L609.4,279.05 L610.77,278.25 L612.13,277.47 L613.5,276.7" fill="none" stroke="#7E2F8E" stroke-width="2.0" stroke-linejoin="round" />
<rect x="450.4" y="287.3" width="30.1" height="106" fill="#fff" stroke="#8c8c8c" stroke-width="1"/>
<line x1="451.2" y1="293.93" x2="460" y2="293.93" stroke="#EDB120" stroke-width="2" stroke-dasharray="2 1.4"/>
<text transform="translate(460.9,298.32) scale(1.0,1.05)" x="0" y="0" font-family='"Liberation Sans", sans-serif' font-size="9.6" font-weight="bold" font-style="normal" text-anchor="start" fill="#000" stroke="#000" stroke-width="0.22">2,2</text>
<line x1="451.2" y1="307.18" x2="460" y2="307.18" stroke="#7E2F8E" stroke-width="2" stroke-dasharray="2 1.4"/>
<text transform="translate(460.9,311.57) scale(1.0,1.05)" x="0" y="0" font-family='"Liberation Sans", sans-serif' font-size="9.6" font-weight="bold" font-style="normal" text-anchor="start" fill="#000" stroke="#000" stroke-width="0.22">3,1</text>
<line x1="451.2" y1="320.43" x2="460" y2="320.43" stroke="#77AC30" stroke-width="2" stroke-dasharray="2 1.4"/>
<text transform="translate(460.9,324.82) scale(1.0,1.05)" x="0" y="0" font-family='"Liberation Sans", sans-serif' font-size="9.6" font-weight="bold" font-style="normal" text-anchor="start" fill="#000" stroke="#000" stroke-width="0.22">0,1</text>
<line x1="451.2" y1="333.68" x2="460" y2="333.68" stroke="#4DBEEE" stroke-width="2" stroke-dasharray="2 1.4"/>
<text transform="translate(460.9,338.07) scale(1.0,1.05)" x="0" y="0" font-family='"Liberation Sans", sans-serif' font-size="9.6" font-weight="bold" font-style="normal" text-anchor="start" fill="#000" stroke="#000" stroke-width="0.22">0,8</text>
<line x1="451.2" y1="346.93" x2="460" y2="346.93" stroke="#A2142F" stroke-width="2" stroke-dasharray="2 1.4"/>
<text transform="translate(460.9,351.32) scale(1.0,1.05)" x="0" y="0" font-family='"Liberation Sans", sans-serif' font-size="9.6" font-weight="bold" font-style="normal" text-anchor="start" fill="#000" stroke="#000" stroke-width="0.22">2,1</text>
<line x1="451.2" y1="360.18" x2="460" y2="360.18" stroke="#0072BD" stroke-width="2" stroke-dasharray="2 1.4"/>
<text transform="translate(460.9,364.57) scale(1.0,1.05)" x="0" y="0" font-family='"Liberation Sans", sans-serif' font-size="9.6" font-weight="bold" font-style="normal" text-anchor="start" fill="#000" stroke="#000" stroke-width="0.22">1,-1</text>
<line x1="451.2" y1="373.43" x2="460" y2="373.43" stroke="#D95319" stroke-width="2.0"/>
<text transform="translate(460.9,377.82) scale(1.0,1.05)" x="0" y="0" font-family='"Liberation Sans", sans-serif' font-size="9.6" font-weight="bold" font-style="normal" text-anchor="start" fill="#000" stroke="#000" stroke-width="0.22">2,-7</text>
<line x1="451.2" y1="386.68" x2="460" y2="386.68" stroke="#7E2F8E" stroke-width="2.0"/>
<text transform="translate(460.9,391.07) scale(1.0,1.05)" x="0" y="0" font-family='"Liberation Sans", sans-serif' font-size="9.6" font-weight="bold" font-style="normal" text-anchor="start" fill="#000" stroke="#000" stroke-width="0.22">4,1</text>
<text transform="translate(446.8,243.8) scale(1.0,1.1)" x="0" y="0" font-family='"Liberation Sans", sans-serif' font-size="11.0" font-weight="bold" font-style="normal" text-anchor="end" fill="#000" stroke="#000" stroke-width="0.22">0.02</text>
<text transform="translate(446.8,269.6) scale(1.0,1.1)" x="0" y="0" font-family='"Liberation Sans", sans-serif' font-size="11.0" font-weight="bold" font-style="normal" text-anchor="end" fill="#000" stroke="#000" stroke-width="0.22">0.01</text>
<text transform="translate(446.8,295.4) scale(1.0,1.1)" x="0" y="0" font-family='"Liberation Sans", sans-serif' font-size="11.0" font-weight="bold" font-style="normal" text-anchor="end" fill="#000" stroke="#000" stroke-width="0.22">0</text>
<text transform="translate(446.8,321.2) scale(1.0,1.1)" x="0" y="0" font-family='"Liberation Sans", sans-serif' font-size="11.0" font-weight="bold" font-style="normal" text-anchor="end" fill="#000" stroke="#000" stroke-width="0.22">-0.01</text>
<text transform="translate(446.8,347) scale(1.0,1.1)" x="0" y="0" font-family='"Liberation Sans", sans-serif' font-size="11.0" font-weight="bold" font-style="normal" text-anchor="end" fill="#000" stroke="#000" stroke-width="0.22">-0.02</text>
<text transform="translate(446.8,372.8) scale(1.0,1.1)" x="0" y="0" font-family='"Liberation Sans", sans-serif' font-size="11.0" font-weight="bold" font-style="normal" text-anchor="end" fill="#000" stroke="#000" stroke-width="0.22">-0.03</text>
<text transform="translate(446.8,398.6) scale(1.0,1.1)" x="0" y="0" font-family='"Liberation Sans", sans-serif' font-size="11.0" font-weight="bold" font-style="normal" text-anchor="end" fill="#000" stroke="#000" stroke-width="0.22">-0.04</text>
<text transform="translate(450.4,408.1) scale(1.0,1.1)" x="0" y="0" font-family='"Liberation Sans", sans-serif' font-size="11.0" font-weight="bold" font-style="normal" text-anchor="middle" fill="#000" stroke="#000" stroke-width="0.22">0</text>
<text transform="translate(531.95,408.1) scale(1.0,1.1)" x="0" y="0" font-family='"Liberation Sans", sans-serif' font-size="11.0" font-weight="bold" font-style="normal" text-anchor="middle" fill="#000" stroke="#000" stroke-width="0.22">0.5</text>
<text transform="translate(613.5,408.1) scale(1.0,1.1)" x="0" y="0" font-family='"Liberation Sans", sans-serif' font-size="11.0" font-weight="bold" font-style="normal" text-anchor="middle" fill="#000" stroke="#000" stroke-width="0.22">1</text>
<text x="531.95" y="419.3" font-family='"Liberation Serif", serif' font-size="12" font-weight="normal" font-style="italic" text-anchor="middle" fill="#000" stroke="#000" stroke-width="0.25">ρ</text>
<text transform="translate(493.5,376.2) scale(1.0,1.12)" x="0" y="0" font-family='"Liberation Serif", serif' font-size="13" font-weight="bold" font-style="normal" text-anchor="start" fill="#000" >β=2.03%</text>
<text x="529.5" y="442.5" font-family='"Liberation Serif", serif' font-size="17" font-weight="normal" font-style="normal" text-anchor="middle" fill="#000" >(f)</text>
<text transform="translate(8.6,317.6) rotate(-90)" x="0" y="0" font-family='"Liberation Sans", sans-serif' font-size="12.8" font-weight="bold" text-anchor="middle" fill="#000">B<tspan font-size="9.8" dy="6.3">m,n</tspan><tspan dy="-6.3">/B</tspan><tspan font-size="9.8" dy="6.3">0,0</tspan></text>
</svg>
</body></html>
